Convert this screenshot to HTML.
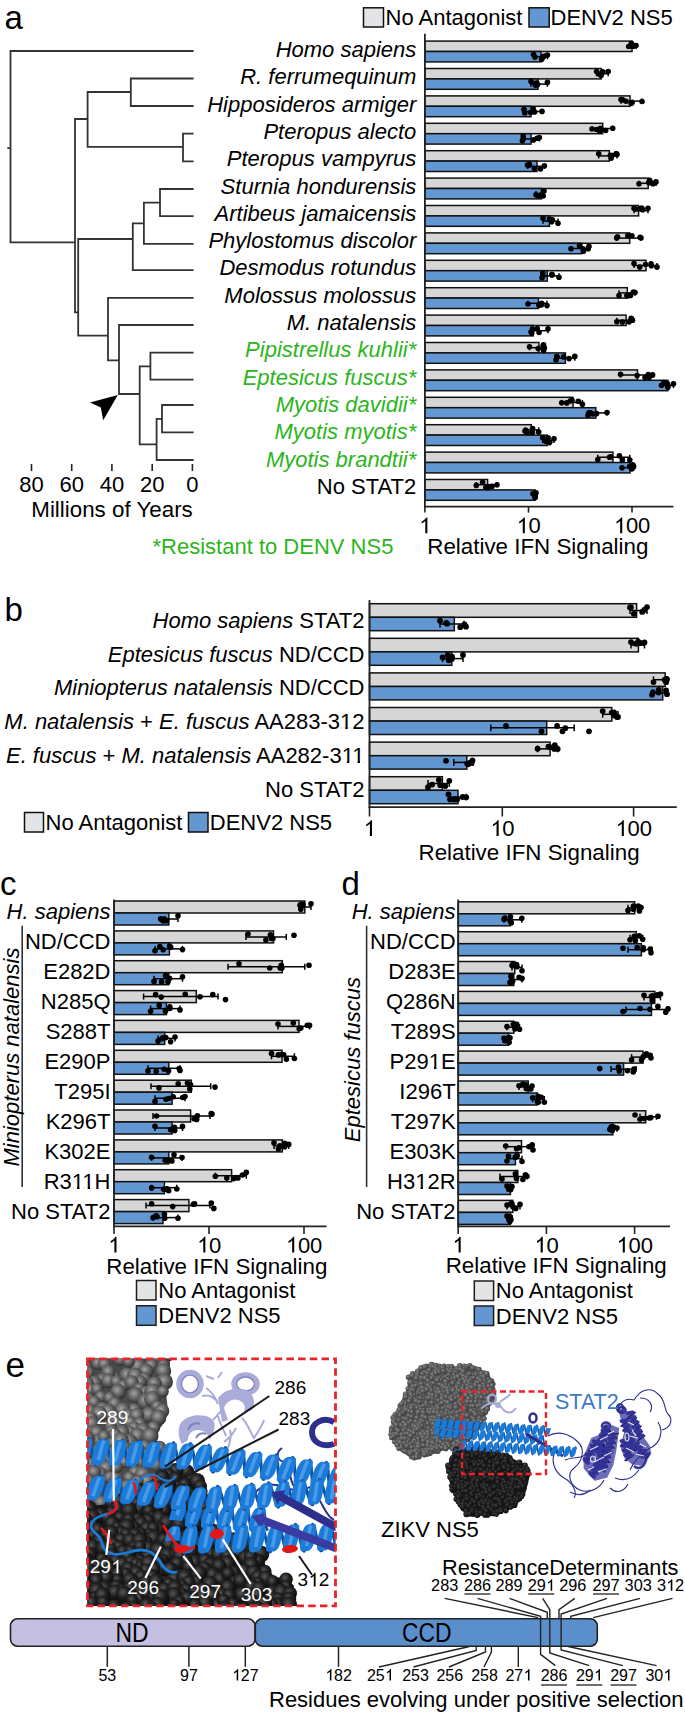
<!DOCTYPE html>
<html><head><meta charset="utf-8"><style>
html,body{margin:0;padding:0;background:#fff;}
svg{display:block;}
text{font-family:"Liberation Sans", sans-serif;}
</style></head><body>
<svg width="685" height="1714" viewBox="0 0 685 1714" font-family="Liberation Sans, sans-serif">
<rect width="685" height="1714" fill="#fff"/>
<text x="4.5" y="28.5" font-size="33" text-anchor="start" fill="#000" >a</text>
<rect x="363.5" y="7.8" width="20.0" height="19.2" fill="#e3e4e6" stroke="#111" stroke-width="1.5" />
<text x="385.5" y="25.3" font-size="22" text-anchor="start" fill="#000" >No Antagonist</text>
<rect x="529.0" y="7.8" width="20.2" height="19.2" fill="#6397d1" stroke="#111" stroke-width="1.5" />
<text x="550.5" y="25.3" font-size="22" text-anchor="start" fill="#000" >DENV2 NS5</text>
<path d="M10.5 51.0V242.4M10.5 51.0H192.7M10.5 242.4H75.0M8.2 148.2H10.5M75.0 119.0V312.3M75.0 119.0H87.6M87.6 92.0V146.8M87.6 92.0H130.8M130.8 78.5V106.0M130.8 78.5H192.7M130.8 106.0H192.7M87.6 146.8H183.0M183.0 133.6V161.4M183.0 133.6H192.7M183.0 161.4H192.7M75.0 312.3H78.2M78.2 239.0V335.6M78.2 239.0H132.8M132.8 223.4V270.1M132.8 223.4H143.9M143.9 202.7V243.9M143.9 202.7H160.0M160.0 189.0V216.1M160.0 189.0H192.7M160.0 216.1H192.7M143.9 243.9H192.7M132.8 270.1H192.7M78.2 335.6H108.0M108.0 297.9V360.4M108.0 297.9H192.7M108.0 360.4H119.0M119.0 325.0V394.0M119.0 325.0H192.7M119.0 394.0H139.7M139.7 366.3V444.4M139.7 366.3H150.4M150.4 352.7V379.7M150.4 352.7H192.7M150.4 379.7H192.7M139.7 444.4H156.6M156.6 418.8V460.0M156.6 418.8H162.0M162.0 405.0V432.3M162.0 405.0H192.7M162.0 432.3H192.7M156.6 460.0H192.7" stroke="#333" stroke-width="1.8" fill="none" stroke-linecap="square"/>
<polygon points="117.8,395 90,402.6 100.8,407.5 103.2,420.2" fill="#000"/>
<line x1="31.5" y1="464.0" x2="31.5" y2="471.0" stroke="#222" stroke-width="1.6"/>
<text x="31.5" y="491.5" font-size="22" text-anchor="middle" fill="#000" >80</text>
<line x1="71.7" y1="464.0" x2="71.7" y2="471.0" stroke="#222" stroke-width="1.6"/>
<text x="71.7" y="491.5" font-size="22" text-anchor="middle" fill="#000" >60</text>
<line x1="111.9" y1="464.0" x2="111.9" y2="471.0" stroke="#222" stroke-width="1.6"/>
<text x="111.9" y="491.5" font-size="22" text-anchor="middle" fill="#000" >40</text>
<line x1="152.2" y1="464.0" x2="152.2" y2="471.0" stroke="#222" stroke-width="1.6"/>
<text x="152.2" y="491.5" font-size="22" text-anchor="middle" fill="#000" >20</text>
<line x1="192.4" y1="464.0" x2="192.4" y2="471.0" stroke="#222" stroke-width="1.6"/>
<text x="192.4" y="491.5" font-size="22" text-anchor="middle" fill="#000" >0</text>
<text x="31.3" y="516.8" font-size="22.35" text-anchor="start" fill="#000" >Millions of Years</text>
<text x="416.3" y="57.0" font-size="22" text-anchor="end" fill="#000" font-style="italic" >Homo sapiens</text>
<text x="416.3" y="84.3" font-size="22" text-anchor="end" fill="#000" font-style="italic" >R. ferrumequinum</text>
<text x="416.3" y="111.6" font-size="22" text-anchor="end" fill="#000" font-style="italic" >Hipposideros armiger</text>
<text x="416.3" y="138.9" font-size="22" text-anchor="end" fill="#000" font-style="italic" >Pteropus alecto</text>
<text x="416.3" y="166.2" font-size="22" text-anchor="end" fill="#000" font-style="italic" >Pteropus vampyrus</text>
<text x="416.3" y="193.5" font-size="22" text-anchor="end" fill="#000" font-style="italic" >Sturnia hondurensis</text>
<text x="416.3" y="220.8" font-size="22" text-anchor="end" fill="#000" font-style="italic" >Artibeus jamaicensis</text>
<text x="416.3" y="248.1" font-size="22" text-anchor="end" fill="#000" font-style="italic" >Phylostomus discolor</text>
<text x="416.3" y="275.4" font-size="22" text-anchor="end" fill="#000" font-style="italic" >Desmodus rotundus</text>
<text x="416.3" y="302.7" font-size="22" text-anchor="end" fill="#000" font-style="italic" >Molossus molossus</text>
<text x="416.3" y="330.0" font-size="22" text-anchor="end" fill="#000" font-style="italic" >M. natalensis</text>
<text x="416.3" y="357.3" font-size="22" text-anchor="end" fill="#2cb51c" font-style="italic" >Pipistrellus kuhlii*</text>
<text x="416.3" y="384.6" font-size="22" text-anchor="end" fill="#2cb51c" font-style="italic" >Eptesicus fuscus*</text>
<text x="416.3" y="411.9" font-size="22" text-anchor="end" fill="#2cb51c" font-style="italic" >Myotis davidii*</text>
<text x="416.3" y="439.2" font-size="22" text-anchor="end" fill="#2cb51c" font-style="italic" >Myotis myotis*</text>
<text x="416.3" y="466.5" font-size="22" text-anchor="end" fill="#2cb51c" font-style="italic" >Myotis brandtii*</text>
<text x="416.3" y="493.8" font-size="22" text-anchor="end" fill="#000" >No STAT2</text>
<rect x="424.9" y="41.1" width="207.1" height="10.4" fill="#d6d6d6" stroke="#111" stroke-width="1.5" />
<rect x="424.9" y="51.5" width="116.1" height="10.4" fill="#6397d1" stroke="#111" stroke-width="1.5" />
<line x1="628.7" y1="46.3" x2="636.0" y2="46.3" stroke="#000" stroke-width="1.5"/>
<line x1="628.7" y1="43.7" x2="628.7" y2="48.9" stroke="#000" stroke-width="1.5"/>
<line x1="636.0" y1="43.7" x2="636.0" y2="48.9" stroke="#000" stroke-width="1.5"/>
<circle cx="628.7" cy="46.5" r="2.8" fill="#000"/>
<circle cx="636.0" cy="45.5" r="2.8" fill="#000"/>
<circle cx="631.4" cy="43.7" r="2.8" fill="#000"/>
<circle cx="633.2" cy="46.3" r="2.8" fill="#000"/>
<circle cx="631.5" cy="43.6" r="2.8" fill="#000"/>
<circle cx="631.3" cy="45.9" r="2.8" fill="#000"/>
<line x1="533.5" y1="56.7" x2="547.4" y2="56.7" stroke="#000" stroke-width="1.5"/>
<line x1="533.5" y1="54.1" x2="533.5" y2="59.3" stroke="#000" stroke-width="1.5"/>
<line x1="547.4" y1="54.1" x2="547.4" y2="59.3" stroke="#000" stroke-width="1.5"/>
<circle cx="533.5" cy="54.5" r="2.8" fill="#000"/>
<circle cx="547.4" cy="55.1" r="2.8" fill="#000"/>
<circle cx="542.4" cy="57.4" r="2.8" fill="#000"/>
<circle cx="541.7" cy="59.3" r="2.8" fill="#000"/>
<circle cx="535.0" cy="57.1" r="2.8" fill="#000"/>
<circle cx="544.1" cy="56.1" r="2.8" fill="#000"/>
<rect x="424.9" y="68.5" width="176.3" height="10.4" fill="#d6d6d6" stroke="#111" stroke-width="1.5" />
<rect x="424.9" y="78.9" width="113.1" height="10.4" fill="#6397d1" stroke="#111" stroke-width="1.5" />
<line x1="596.6" y1="73.7" x2="608.2" y2="73.7" stroke="#000" stroke-width="1.5"/>
<line x1="596.6" y1="71.1" x2="596.6" y2="76.3" stroke="#000" stroke-width="1.5"/>
<line x1="608.2" y1="71.1" x2="608.2" y2="76.3" stroke="#000" stroke-width="1.5"/>
<circle cx="596.6" cy="71.6" r="2.8" fill="#000"/>
<circle cx="608.2" cy="71.5" r="2.8" fill="#000"/>
<circle cx="602.2" cy="72.6" r="2.8" fill="#000"/>
<circle cx="601.1" cy="75.5" r="2.8" fill="#000"/>
<circle cx="602.8" cy="71.8" r="2.8" fill="#000"/>
<circle cx="599.2" cy="74.2" r="2.8" fill="#000"/>
<line x1="531.0" y1="84.1" x2="547.4" y2="84.1" stroke="#000" stroke-width="1.5"/>
<line x1="531.0" y1="81.5" x2="531.0" y2="86.7" stroke="#000" stroke-width="1.5"/>
<line x1="547.4" y1="81.5" x2="547.4" y2="86.7" stroke="#000" stroke-width="1.5"/>
<circle cx="531.0" cy="81.5" r="2.8" fill="#000"/>
<circle cx="547.4" cy="82.4" r="2.8" fill="#000"/>
<circle cx="535.5" cy="85.2" r="2.8" fill="#000"/>
<circle cx="535.0" cy="83.7" r="2.8" fill="#000"/>
<circle cx="536.6" cy="83.0" r="2.8" fill="#000"/>
<circle cx="537.6" cy="84.6" r="2.8" fill="#000"/>
<rect x="424.9" y="95.9" width="205.1" height="10.4" fill="#d6d6d6" stroke="#111" stroke-width="1.5" />
<rect x="424.9" y="106.3" width="106.1" height="10.4" fill="#6397d1" stroke="#111" stroke-width="1.5" />
<line x1="621.0" y1="101.1" x2="642.0" y2="101.1" stroke="#000" stroke-width="1.5"/>
<line x1="621.0" y1="98.5" x2="621.0" y2="103.7" stroke="#000" stroke-width="1.5"/>
<line x1="642.0" y1="98.5" x2="642.0" y2="103.7" stroke="#000" stroke-width="1.5"/>
<circle cx="621.0" cy="99.6" r="2.8" fill="#000"/>
<circle cx="642.0" cy="101.5" r="2.8" fill="#000"/>
<circle cx="626.0" cy="101.2" r="2.8" fill="#000"/>
<circle cx="631.2" cy="103.3" r="2.8" fill="#000"/>
<circle cx="632.1" cy="102.4" r="2.8" fill="#000"/>
<circle cx="622.6" cy="99.9" r="2.8" fill="#000"/>
<line x1="524.0" y1="111.5" x2="542.0" y2="111.5" stroke="#000" stroke-width="1.5"/>
<line x1="524.0" y1="108.9" x2="524.0" y2="114.1" stroke="#000" stroke-width="1.5"/>
<line x1="542.0" y1="108.9" x2="542.0" y2="114.1" stroke="#000" stroke-width="1.5"/>
<circle cx="524.0" cy="109.5" r="2.8" fill="#000"/>
<circle cx="542.0" cy="111.4" r="2.8" fill="#000"/>
<circle cx="533.2" cy="108.8" r="2.8" fill="#000"/>
<circle cx="530.7" cy="112.5" r="2.8" fill="#000"/>
<circle cx="524.8" cy="113.0" r="2.8" fill="#000"/>
<circle cx="534.6" cy="111.9" r="2.8" fill="#000"/>
<rect x="424.9" y="123.3" width="177.8" height="10.4" fill="#d6d6d6" stroke="#111" stroke-width="1.5" />
<rect x="424.9" y="133.7" width="106.1" height="10.4" fill="#6397d1" stroke="#111" stroke-width="1.5" />
<line x1="592.0" y1="128.5" x2="612.7" y2="128.5" stroke="#000" stroke-width="1.5"/>
<line x1="592.0" y1="125.9" x2="592.0" y2="131.1" stroke="#000" stroke-width="1.5"/>
<line x1="612.7" y1="125.9" x2="612.7" y2="131.1" stroke="#000" stroke-width="1.5"/>
<circle cx="592.0" cy="129.0" r="2.8" fill="#000"/>
<circle cx="612.7" cy="128.2" r="2.8" fill="#000"/>
<circle cx="605.7" cy="130.5" r="2.8" fill="#000"/>
<circle cx="599.7" cy="131.1" r="2.8" fill="#000"/>
<circle cx="600.5" cy="128.3" r="2.8" fill="#000"/>
<circle cx="596.5" cy="129.5" r="2.8" fill="#000"/>
<line x1="522.4" y1="138.9" x2="539.4" y2="138.9" stroke="#000" stroke-width="1.5"/>
<line x1="522.4" y1="136.3" x2="522.4" y2="141.5" stroke="#000" stroke-width="1.5"/>
<line x1="539.4" y1="136.3" x2="539.4" y2="141.5" stroke="#000" stroke-width="1.5"/>
<circle cx="522.4" cy="140.8" r="2.8" fill="#000"/>
<circle cx="539.4" cy="137.6" r="2.8" fill="#000"/>
<circle cx="537.1" cy="138.2" r="2.8" fill="#000"/>
<circle cx="533.4" cy="139.9" r="2.8" fill="#000"/>
<circle cx="523.2" cy="136.1" r="2.8" fill="#000"/>
<circle cx="523.2" cy="138.7" r="2.8" fill="#000"/>
<rect x="424.9" y="150.7" width="184.4" height="10.4" fill="#d6d6d6" stroke="#111" stroke-width="1.5" />
<rect x="424.9" y="161.1" width="112.1" height="10.4" fill="#6397d1" stroke="#111" stroke-width="1.5" />
<line x1="598.7" y1="155.9" x2="617.0" y2="155.9" stroke="#000" stroke-width="1.5"/>
<line x1="598.7" y1="153.3" x2="598.7" y2="158.5" stroke="#000" stroke-width="1.5"/>
<line x1="617.0" y1="153.3" x2="617.0" y2="158.5" stroke="#000" stroke-width="1.5"/>
<circle cx="598.7" cy="153.7" r="2.8" fill="#000"/>
<circle cx="617.0" cy="154.4" r="2.8" fill="#000"/>
<circle cx="610.4" cy="155.3" r="2.8" fill="#000"/>
<circle cx="611.2" cy="158.1" r="2.8" fill="#000"/>
<circle cx="616.2" cy="153.5" r="2.8" fill="#000"/>
<circle cx="612.1" cy="155.6" r="2.8" fill="#000"/>
<line x1="527.5" y1="166.3" x2="544.4" y2="166.3" stroke="#000" stroke-width="1.5"/>
<line x1="527.5" y1="163.7" x2="527.5" y2="168.9" stroke="#000" stroke-width="1.5"/>
<line x1="544.4" y1="163.7" x2="544.4" y2="168.9" stroke="#000" stroke-width="1.5"/>
<circle cx="527.5" cy="165.0" r="2.8" fill="#000"/>
<circle cx="544.4" cy="165.8" r="2.8" fill="#000"/>
<circle cx="528.7" cy="165.5" r="2.8" fill="#000"/>
<circle cx="534.4" cy="168.5" r="2.8" fill="#000"/>
<circle cx="540.5" cy="169.0" r="2.8" fill="#000"/>
<circle cx="529.4" cy="164.3" r="2.8" fill="#000"/>
<rect x="424.9" y="178.1" width="223.3" height="10.4" fill="#d6d6d6" stroke="#111" stroke-width="1.5" />
<rect x="424.9" y="188.5" width="116.5" height="10.4" fill="#6397d1" stroke="#111" stroke-width="1.5" />
<line x1="639.0" y1="183.3" x2="656.0" y2="183.3" stroke="#000" stroke-width="1.5"/>
<line x1="639.0" y1="180.7" x2="639.0" y2="185.9" stroke="#000" stroke-width="1.5"/>
<line x1="656.0" y1="180.7" x2="656.0" y2="185.9" stroke="#000" stroke-width="1.5"/>
<circle cx="639.0" cy="183.8" r="2.8" fill="#000"/>
<circle cx="656.0" cy="181.9" r="2.8" fill="#000"/>
<circle cx="649.6" cy="180.4" r="2.8" fill="#000"/>
<circle cx="650.9" cy="182.8" r="2.8" fill="#000"/>
<circle cx="648.7" cy="182.5" r="2.8" fill="#000"/>
<circle cx="653.0" cy="183.7" r="2.8" fill="#000"/>
<line x1="536.0" y1="193.7" x2="544.0" y2="193.7" stroke="#000" stroke-width="1.5"/>
<line x1="536.0" y1="191.1" x2="536.0" y2="196.3" stroke="#000" stroke-width="1.5"/>
<line x1="544.0" y1="191.1" x2="544.0" y2="196.3" stroke="#000" stroke-width="1.5"/>
<circle cx="536.0" cy="194.7" r="2.8" fill="#000"/>
<circle cx="544.0" cy="191.1" r="2.8" fill="#000"/>
<circle cx="543.2" cy="196.0" r="2.8" fill="#000"/>
<circle cx="540.3" cy="195.3" r="2.8" fill="#000"/>
<circle cx="538.1" cy="195.9" r="2.8" fill="#000"/>
<circle cx="541.1" cy="195.4" r="2.8" fill="#000"/>
<rect x="424.9" y="205.5" width="213.7" height="10.4" fill="#d6d6d6" stroke="#111" stroke-width="1.5" />
<rect x="424.9" y="215.9" width="124.5" height="10.4" fill="#6397d1" stroke="#111" stroke-width="1.5" />
<line x1="634.0" y1="210.7" x2="648.0" y2="210.7" stroke="#000" stroke-width="1.5"/>
<line x1="634.0" y1="208.1" x2="634.0" y2="213.3" stroke="#000" stroke-width="1.5"/>
<line x1="648.0" y1="208.1" x2="648.0" y2="213.3" stroke="#000" stroke-width="1.5"/>
<circle cx="634.0" cy="208.2" r="2.8" fill="#000"/>
<circle cx="648.0" cy="208.2" r="2.8" fill="#000"/>
<circle cx="635.8" cy="209.0" r="2.8" fill="#000"/>
<circle cx="640.9" cy="208.7" r="2.8" fill="#000"/>
<circle cx="642.7" cy="209.8" r="2.8" fill="#000"/>
<circle cx="641.7" cy="208.1" r="2.8" fill="#000"/>
<line x1="543.0" y1="221.1" x2="558.0" y2="221.1" stroke="#000" stroke-width="1.5"/>
<line x1="543.0" y1="218.5" x2="543.0" y2="223.7" stroke="#000" stroke-width="1.5"/>
<line x1="558.0" y1="218.5" x2="558.0" y2="223.7" stroke="#000" stroke-width="1.5"/>
<circle cx="543.0" cy="218.3" r="2.8" fill="#000"/>
<circle cx="558.0" cy="223.3" r="2.8" fill="#000"/>
<circle cx="551.6" cy="221.8" r="2.8" fill="#000"/>
<circle cx="549.4" cy="219.1" r="2.8" fill="#000"/>
<circle cx="552.3" cy="219.7" r="2.8" fill="#000"/>
<circle cx="551.6" cy="220.2" r="2.8" fill="#000"/>
<rect x="424.9" y="232.9" width="204.8" height="10.4" fill="#d6d6d6" stroke="#111" stroke-width="1.5" />
<rect x="424.9" y="243.3" width="156.9" height="10.4" fill="#6397d1" stroke="#111" stroke-width="1.5" />
<line x1="616.7" y1="238.1" x2="641.0" y2="238.1" stroke="#000" stroke-width="1.5"/>
<line x1="616.7" y1="235.5" x2="616.7" y2="240.7" stroke="#000" stroke-width="1.5"/>
<line x1="641.0" y1="235.5" x2="641.0" y2="240.7" stroke="#000" stroke-width="1.5"/>
<circle cx="616.7" cy="237.9" r="2.8" fill="#000"/>
<circle cx="641.0" cy="238.0" r="2.8" fill="#000"/>
<circle cx="627.8" cy="235.7" r="2.8" fill="#000"/>
<circle cx="631.9" cy="235.8" r="2.8" fill="#000"/>
<circle cx="640.1" cy="237.2" r="2.8" fill="#000"/>
<circle cx="617.5" cy="236.7" r="2.8" fill="#000"/>
<line x1="571.0" y1="248.5" x2="589.0" y2="248.5" stroke="#000" stroke-width="1.5"/>
<line x1="571.0" y1="245.9" x2="571.0" y2="251.1" stroke="#000" stroke-width="1.5"/>
<line x1="589.0" y1="245.9" x2="589.0" y2="251.1" stroke="#000" stroke-width="1.5"/>
<circle cx="571.0" cy="248.7" r="2.8" fill="#000"/>
<circle cx="589.0" cy="246.4" r="2.8" fill="#000"/>
<circle cx="583.0" cy="248.8" r="2.8" fill="#000"/>
<circle cx="579.5" cy="245.7" r="2.8" fill="#000"/>
<circle cx="588.2" cy="248.7" r="2.8" fill="#000"/>
<circle cx="583.4" cy="251.3" r="2.8" fill="#000"/>
<rect x="424.9" y="260.3" width="221.1" height="10.4" fill="#d6d6d6" stroke="#111" stroke-width="1.5" />
<rect x="424.9" y="270.7" width="122.4" height="10.4" fill="#6397d1" stroke="#111" stroke-width="1.5" />
<line x1="634.0" y1="265.5" x2="657.0" y2="265.5" stroke="#000" stroke-width="1.5"/>
<line x1="634.0" y1="262.9" x2="634.0" y2="268.1" stroke="#000" stroke-width="1.5"/>
<line x1="657.0" y1="262.9" x2="657.0" y2="268.1" stroke="#000" stroke-width="1.5"/>
<circle cx="634.0" cy="263.6" r="2.8" fill="#000"/>
<circle cx="657.0" cy="267.1" r="2.8" fill="#000"/>
<circle cx="651.4" cy="265.7" r="2.8" fill="#000"/>
<circle cx="639.7" cy="267.1" r="2.8" fill="#000"/>
<circle cx="645.6" cy="264.5" r="2.8" fill="#000"/>
<circle cx="651.1" cy="263.9" r="2.8" fill="#000"/>
<line x1="542.0" y1="275.9" x2="559.0" y2="275.9" stroke="#000" stroke-width="1.5"/>
<line x1="542.0" y1="273.3" x2="542.0" y2="278.5" stroke="#000" stroke-width="1.5"/>
<line x1="559.0" y1="273.3" x2="559.0" y2="278.5" stroke="#000" stroke-width="1.5"/>
<circle cx="542.0" cy="277.8" r="2.8" fill="#000"/>
<circle cx="559.0" cy="277.3" r="2.8" fill="#000"/>
<circle cx="551.9" cy="274.3" r="2.8" fill="#000"/>
<circle cx="542.8" cy="276.0" r="2.8" fill="#000"/>
<circle cx="551.9" cy="275.1" r="2.8" fill="#000"/>
<circle cx="542.8" cy="273.2" r="2.8" fill="#000"/>
<rect x="424.9" y="287.7" width="202.4" height="10.4" fill="#d6d6d6" stroke="#111" stroke-width="1.5" />
<rect x="424.9" y="298.1" width="113.5" height="10.4" fill="#6397d1" stroke="#111" stroke-width="1.5" />
<line x1="619.0" y1="292.9" x2="635.0" y2="292.9" stroke="#000" stroke-width="1.5"/>
<line x1="619.0" y1="290.3" x2="619.0" y2="295.5" stroke="#000" stroke-width="1.5"/>
<line x1="635.0" y1="290.3" x2="635.0" y2="295.5" stroke="#000" stroke-width="1.5"/>
<circle cx="619.0" cy="295.6" r="2.8" fill="#000"/>
<circle cx="635.0" cy="292.6" r="2.8" fill="#000"/>
<circle cx="630.5" cy="295.4" r="2.8" fill="#000"/>
<circle cx="627.9" cy="295.7" r="2.8" fill="#000"/>
<circle cx="626.9" cy="295.5" r="2.8" fill="#000"/>
<circle cx="633.4" cy="292.1" r="2.8" fill="#000"/>
<line x1="528.0" y1="303.3" x2="547.0" y2="303.3" stroke="#000" stroke-width="1.5"/>
<line x1="528.0" y1="300.7" x2="528.0" y2="305.9" stroke="#000" stroke-width="1.5"/>
<line x1="547.0" y1="300.7" x2="547.0" y2="305.9" stroke="#000" stroke-width="1.5"/>
<circle cx="528.0" cy="304.0" r="2.8" fill="#000"/>
<circle cx="547.0" cy="305.6" r="2.8" fill="#000"/>
<circle cx="539.0" cy="305.3" r="2.8" fill="#000"/>
<circle cx="541.6" cy="303.2" r="2.8" fill="#000"/>
<circle cx="539.4" cy="304.2" r="2.8" fill="#000"/>
<circle cx="541.3" cy="305.0" r="2.8" fill="#000"/>
<rect x="424.9" y="315.1" width="201.2" height="10.4" fill="#d6d6d6" stroke="#111" stroke-width="1.5" />
<rect x="424.9" y="325.5" width="108.3" height="10.4" fill="#6397d1" stroke="#111" stroke-width="1.5" />
<line x1="616.8" y1="320.3" x2="632.5" y2="320.3" stroke="#000" stroke-width="1.5"/>
<line x1="616.8" y1="317.7" x2="616.8" y2="322.9" stroke="#000" stroke-width="1.5"/>
<line x1="632.5" y1="317.7" x2="632.5" y2="322.9" stroke="#000" stroke-width="1.5"/>
<circle cx="616.8" cy="321.8" r="2.8" fill="#000"/>
<circle cx="632.5" cy="320.2" r="2.8" fill="#000"/>
<circle cx="631.1" cy="318.4" r="2.8" fill="#000"/>
<circle cx="629.0" cy="322.0" r="2.8" fill="#000"/>
<circle cx="631.7" cy="319.3" r="2.8" fill="#000"/>
<circle cx="622.4" cy="322.1" r="2.8" fill="#000"/>
<line x1="531.0" y1="330.7" x2="548.0" y2="330.7" stroke="#000" stroke-width="1.5"/>
<line x1="531.0" y1="328.1" x2="531.0" y2="333.3" stroke="#000" stroke-width="1.5"/>
<line x1="548.0" y1="328.1" x2="548.0" y2="333.3" stroke="#000" stroke-width="1.5"/>
<circle cx="531.0" cy="332.0" r="2.8" fill="#000"/>
<circle cx="548.0" cy="328.8" r="2.8" fill="#000"/>
<circle cx="537.3" cy="328.5" r="2.8" fill="#000"/>
<circle cx="532.5" cy="328.7" r="2.8" fill="#000"/>
<circle cx="531.8" cy="333.1" r="2.8" fill="#000"/>
<circle cx="539.1" cy="332.5" r="2.8" fill="#000"/>
<rect x="424.9" y="342.5" width="114.0" height="10.4" fill="#d6d6d6" stroke="#111" stroke-width="1.5" />
<rect x="424.9" y="352.9" width="140.5" height="10.4" fill="#6397d1" stroke="#111" stroke-width="1.5" />
<line x1="529.5" y1="347.7" x2="544.4" y2="347.7" stroke="#000" stroke-width="1.5"/>
<line x1="529.5" y1="345.1" x2="529.5" y2="350.3" stroke="#000" stroke-width="1.5"/>
<line x1="544.4" y1="345.1" x2="544.4" y2="350.3" stroke="#000" stroke-width="1.5"/>
<circle cx="529.5" cy="346.8" r="2.8" fill="#000"/>
<circle cx="544.4" cy="348.0" r="2.8" fill="#000"/>
<circle cx="543.2" cy="345.6" r="2.8" fill="#000"/>
<circle cx="543.6" cy="344.9" r="2.8" fill="#000"/>
<circle cx="543.6" cy="350.4" r="2.8" fill="#000"/>
<circle cx="538.2" cy="348.6" r="2.8" fill="#000"/>
<line x1="556.0" y1="358.1" x2="574.8" y2="358.1" stroke="#000" stroke-width="1.5"/>
<line x1="556.0" y1="355.5" x2="556.0" y2="360.7" stroke="#000" stroke-width="1.5"/>
<line x1="574.8" y1="355.5" x2="574.8" y2="360.7" stroke="#000" stroke-width="1.5"/>
<circle cx="556.0" cy="360.0" r="2.8" fill="#000"/>
<circle cx="574.8" cy="356.4" r="2.8" fill="#000"/>
<circle cx="556.8" cy="356.7" r="2.8" fill="#000"/>
<circle cx="563.6" cy="356.9" r="2.8" fill="#000"/>
<circle cx="556.9" cy="356.6" r="2.8" fill="#000"/>
<circle cx="569.1" cy="358.6" r="2.8" fill="#000"/>
<rect x="424.9" y="369.9" width="212.6" height="10.4" fill="#d6d6d6" stroke="#111" stroke-width="1.5" />
<rect x="424.9" y="380.3" width="243.0" height="10.4" fill="#6397d1" stroke="#111" stroke-width="1.5" />
<line x1="620.5" y1="375.1" x2="652.6" y2="375.1" stroke="#000" stroke-width="1.5"/>
<line x1="620.5" y1="372.5" x2="620.5" y2="377.7" stroke="#000" stroke-width="1.5"/>
<line x1="652.6" y1="372.5" x2="652.6" y2="377.7" stroke="#000" stroke-width="1.5"/>
<circle cx="620.5" cy="374.2" r="2.8" fill="#000"/>
<circle cx="652.6" cy="374.9" r="2.8" fill="#000"/>
<circle cx="637.1" cy="375.6" r="2.8" fill="#000"/>
<circle cx="645.0" cy="377.5" r="2.8" fill="#000"/>
<circle cx="648.3" cy="374.6" r="2.8" fill="#000"/>
<circle cx="649.1" cy="377.5" r="2.8" fill="#000"/>
<line x1="661.5" y1="385.5" x2="673.5" y2="385.5" stroke="#000" stroke-width="1.5"/>
<line x1="661.5" y1="382.9" x2="661.5" y2="388.1" stroke="#000" stroke-width="1.5"/>
<line x1="673.5" y1="382.9" x2="673.5" y2="388.1" stroke="#000" stroke-width="1.5"/>
<circle cx="661.5" cy="385.2" r="2.8" fill="#000"/>
<circle cx="673.5" cy="383.7" r="2.8" fill="#000"/>
<circle cx="664.0" cy="382.6" r="2.8" fill="#000"/>
<circle cx="667.9" cy="387.2" r="2.8" fill="#000"/>
<circle cx="667.3" cy="383.6" r="2.8" fill="#000"/>
<circle cx="667.8" cy="385.3" r="2.8" fill="#000"/>
<rect x="424.9" y="397.3" width="148.1" height="10.4" fill="#d6d6d6" stroke="#111" stroke-width="1.5" />
<rect x="424.9" y="407.7" width="170.9" height="10.4" fill="#6397d1" stroke="#111" stroke-width="1.5" />
<line x1="561.7" y1="402.5" x2="582.4" y2="402.5" stroke="#000" stroke-width="1.5"/>
<line x1="561.7" y1="399.9" x2="561.7" y2="405.1" stroke="#000" stroke-width="1.5"/>
<line x1="582.4" y1="399.9" x2="582.4" y2="405.1" stroke="#000" stroke-width="1.5"/>
<circle cx="561.7" cy="402.8" r="2.8" fill="#000"/>
<circle cx="582.4" cy="404.2" r="2.8" fill="#000"/>
<circle cx="572.0" cy="400.2" r="2.8" fill="#000"/>
<circle cx="566.8" cy="402.9" r="2.8" fill="#000"/>
<circle cx="570.3" cy="401.0" r="2.8" fill="#000"/>
<circle cx="578.3" cy="401.2" r="2.8" fill="#000"/>
<line x1="588.0" y1="412.9" x2="607.0" y2="412.9" stroke="#000" stroke-width="1.5"/>
<line x1="588.0" y1="410.3" x2="588.0" y2="415.5" stroke="#000" stroke-width="1.5"/>
<line x1="607.0" y1="410.3" x2="607.0" y2="415.5" stroke="#000" stroke-width="1.5"/>
<circle cx="588.0" cy="415.3" r="2.8" fill="#000"/>
<circle cx="607.0" cy="412.6" r="2.8" fill="#000"/>
<circle cx="596.6" cy="413.6" r="2.8" fill="#000"/>
<circle cx="590.4" cy="412.9" r="2.8" fill="#000"/>
<circle cx="588.8" cy="413.0" r="2.8" fill="#000"/>
<circle cx="592.9" cy="414.0" r="2.8" fill="#000"/>
<rect x="424.9" y="424.7" width="106.4" height="10.4" fill="#d6d6d6" stroke="#111" stroke-width="1.5" />
<rect x="424.9" y="435.1" width="122.3" height="10.4" fill="#6397d1" stroke="#111" stroke-width="1.5" />
<line x1="525.0" y1="429.9" x2="538.7" y2="429.9" stroke="#000" stroke-width="1.5"/>
<line x1="525.0" y1="427.3" x2="525.0" y2="432.5" stroke="#000" stroke-width="1.5"/>
<line x1="538.7" y1="427.3" x2="538.7" y2="432.5" stroke="#000" stroke-width="1.5"/>
<circle cx="525.0" cy="431.1" r="2.8" fill="#000"/>
<circle cx="538.7" cy="432.1" r="2.8" fill="#000"/>
<circle cx="527.1" cy="432.5" r="2.8" fill="#000"/>
<circle cx="532.6" cy="428.5" r="2.8" fill="#000"/>
<circle cx="525.8" cy="430.2" r="2.8" fill="#000"/>
<circle cx="532.5" cy="432.5" r="2.8" fill="#000"/>
<line x1="542.7" y1="440.3" x2="554.0" y2="440.3" stroke="#000" stroke-width="1.5"/>
<line x1="542.7" y1="437.7" x2="542.7" y2="442.9" stroke="#000" stroke-width="1.5"/>
<line x1="554.0" y1="437.7" x2="554.0" y2="442.9" stroke="#000" stroke-width="1.5"/>
<circle cx="542.7" cy="437.8" r="2.8" fill="#000"/>
<circle cx="554.0" cy="438.8" r="2.8" fill="#000"/>
<circle cx="548.1" cy="437.8" r="2.8" fill="#000"/>
<circle cx="545.8" cy="441.3" r="2.8" fill="#000"/>
<circle cx="549.6" cy="442.0" r="2.8" fill="#000"/>
<circle cx="549.5" cy="442.6" r="2.8" fill="#000"/>
<rect x="424.9" y="452.1" width="188.0" height="10.4" fill="#d6d6d6" stroke="#111" stroke-width="1.5" />
<rect x="424.9" y="462.5" width="205.1" height="10.4" fill="#6397d1" stroke="#111" stroke-width="1.5" />
<line x1="597.8" y1="457.3" x2="629.8" y2="457.3" stroke="#000" stroke-width="1.5"/>
<line x1="597.8" y1="454.7" x2="597.8" y2="459.9" stroke="#000" stroke-width="1.5"/>
<line x1="629.8" y1="454.7" x2="629.8" y2="459.9" stroke="#000" stroke-width="1.5"/>
<circle cx="597.8" cy="459.5" r="2.8" fill="#000"/>
<circle cx="629.8" cy="460.0" r="2.8" fill="#000"/>
<circle cx="619.4" cy="455.7" r="2.8" fill="#000"/>
<circle cx="622.3" cy="459.9" r="2.8" fill="#000"/>
<circle cx="610.8" cy="456.7" r="2.8" fill="#000"/>
<circle cx="609.5" cy="457.2" r="2.8" fill="#000"/>
<line x1="622.0" y1="467.7" x2="633.6" y2="467.7" stroke="#000" stroke-width="1.5"/>
<line x1="622.0" y1="465.1" x2="622.0" y2="470.3" stroke="#000" stroke-width="1.5"/>
<line x1="633.6" y1="465.1" x2="633.6" y2="470.3" stroke="#000" stroke-width="1.5"/>
<circle cx="622.0" cy="467.8" r="2.8" fill="#000"/>
<circle cx="633.6" cy="466.8" r="2.8" fill="#000"/>
<circle cx="632.8" cy="465.9" r="2.8" fill="#000"/>
<circle cx="629.6" cy="466.6" r="2.8" fill="#000"/>
<circle cx="631.8" cy="469.0" r="2.8" fill="#000"/>
<circle cx="632.8" cy="464.9" r="2.8" fill="#000"/>
<rect x="424.9" y="479.5" width="62.7" height="10.4" fill="#d6d6d6" stroke="#111" stroke-width="1.5" />
<rect x="424.9" y="489.9" width="110.1" height="10.4" fill="#6397d1" stroke="#111" stroke-width="1.5" />
<line x1="476.3" y1="484.7" x2="497.0" y2="484.7" stroke="#000" stroke-width="1.5"/>
<line x1="476.3" y1="482.1" x2="476.3" y2="487.3" stroke="#000" stroke-width="1.5"/>
<line x1="497.0" y1="482.1" x2="497.0" y2="487.3" stroke="#000" stroke-width="1.5"/>
<circle cx="476.3" cy="485.4" r="2.8" fill="#000"/>
<circle cx="497.0" cy="484.8" r="2.8" fill="#000"/>
<circle cx="482.6" cy="482.2" r="2.8" fill="#000"/>
<circle cx="485.8" cy="487.5" r="2.8" fill="#000"/>
<circle cx="492.0" cy="486.4" r="2.8" fill="#000"/>
<circle cx="488.1" cy="487.4" r="2.8" fill="#000"/>
<line x1="533.0" y1="495.1" x2="536.0" y2="495.1" stroke="#000" stroke-width="1.5"/>
<line x1="533.0" y1="492.5" x2="533.0" y2="497.7" stroke="#000" stroke-width="1.5"/>
<line x1="536.0" y1="492.5" x2="536.0" y2="497.7" stroke="#000" stroke-width="1.5"/>
<circle cx="533.0" cy="493.8" r="2.8" fill="#000"/>
<circle cx="536.0" cy="492.9" r="2.8" fill="#000"/>
<circle cx="535.2" cy="494.6" r="2.8" fill="#000"/>
<circle cx="535.2" cy="497.5" r="2.8" fill="#000"/>
<circle cx="535.2" cy="497.0" r="2.8" fill="#000"/>
<circle cx="535.2" cy="493.7" r="2.8" fill="#000"/>
<line x1="424.9" y1="33.7" x2="424.9" y2="507.4" stroke="#222" stroke-width="1.8"/>
<line x1="424.0" y1="506.6" x2="673.4" y2="506.6" stroke="#222" stroke-width="1.8"/>
<line x1="424.9" y1="506.6" x2="424.9" y2="512.6" stroke="#222" stroke-width="1.6"/>
<polygon points="425.28,533.20 427.38,533.20 427.38,517.45 426.19,517.45 425.66,518.38 424.80,519.34 423.72,520.31 421.63,521.64 421.63,523.51 423.51,522.57 425.28,521.06" fill="#000"/>
<line x1="528.5" y1="506.6" x2="528.5" y2="512.6" stroke="#222" stroke-width="1.6"/>
<polygon points="522.76,533.20 524.86,533.20 524.86,517.45 523.68,517.45 523.14,518.38 522.28,519.34 521.21,520.31 519.11,521.64 519.11,523.51 520.99,522.57 522.76,521.06" fill="#000"/>
<text x="528.50" y="533.2" font-size="22">0</text>
<line x1="632.0" y1="506.6" x2="632.0" y2="512.6" stroke="#222" stroke-width="1.6"/>
<polygon points="620.15,533.20 622.24,533.20 622.24,517.45 621.06,517.45 620.52,518.38 619.66,519.34 618.59,520.31 616.49,521.64 616.49,523.51 618.37,522.57 620.15,521.06" fill="#000"/>
<text x="625.88" y="533.2" font-size="22">0</text>
<text x="638.12" y="533.2" font-size="22">0</text>
<text x="427.3" y="554.0" font-size="22.35" text-anchor="start" fill="#000" >Relative IFN Signaling</text>
<text x="152.5" y="554.2" font-size="22" text-anchor="start" fill="#2cb51c" >*Resistant to DENV NS5</text>
<text x="4.5" y="621.0" font-size="33" text-anchor="start" fill="#000" >b</text>
<text x="364.5" y="627.5" font-size="22" text-anchor="end" fill="#000" ><tspan font-style="italic">Homo sapiens</tspan> STAT2</text>
<text x="364.5" y="661.5" font-size="22" text-anchor="end" fill="#000" ><tspan font-style="italic">Eptesicus fuscus</tspan> ND/CCD</text>
<text x="364.5" y="695.4" font-size="22" text-anchor="end" fill="#000" ><tspan font-style="italic">Miniopterus natalensis</tspan> ND/CCD</text>
<text x="364.5" y="729.4" font-size="22" text-anchor="end" fill="#000" ><tspan font-style="italic">M. natalensis</tspan> + <tspan font-style="italic">E. fuscus</tspan> AA283-312</text>
<text x="364.5" y="763.3" font-size="22" text-anchor="end" fill="#000" ><tspan font-style="italic">E. fuscus</tspan> + <tspan font-style="italic">M. natalensis</tspan> AA282-311</text>
<text x="364.5" y="797.2" font-size="22" text-anchor="end" fill="#000" >No STAT2</text>
<rect x="369.5" y="603.7" width="267.1" height="13.6" fill="#d6d6d6" stroke="#111" stroke-width="1.5" />
<rect x="369.5" y="617.3" width="84.8" height="13.4" fill="#6397d1" stroke="#111" stroke-width="1.5" />
<line x1="630.0" y1="610.5" x2="647.0" y2="610.5" stroke="#000" stroke-width="1.5"/>
<line x1="630.0" y1="607.1" x2="630.0" y2="613.9" stroke="#000" stroke-width="1.5"/>
<line x1="647.0" y1="607.1" x2="647.0" y2="613.9" stroke="#000" stroke-width="1.5"/>
<circle cx="630.0" cy="607.4" r="2.9" fill="#000"/>
<circle cx="647.0" cy="607.1" r="2.9" fill="#000"/>
<circle cx="642.2" cy="611.9" r="2.9" fill="#000"/>
<circle cx="644.2" cy="609.9" r="2.9" fill="#000"/>
<circle cx="630.9" cy="607.2" r="2.9" fill="#000"/>
<circle cx="633.8" cy="613.8" r="2.9" fill="#000"/>
<line x1="440.0" y1="624.0" x2="464.0" y2="624.0" stroke="#000" stroke-width="1.5"/>
<line x1="440.0" y1="620.7" x2="440.0" y2="627.4" stroke="#000" stroke-width="1.5"/>
<line x1="464.0" y1="620.7" x2="464.0" y2="627.4" stroke="#000" stroke-width="1.5"/>
<circle cx="440.0" cy="620.7" r="2.9" fill="#000"/>
<circle cx="466.0" cy="626.7" r="2.9" fill="#000"/>
<circle cx="447.1" cy="623.7" r="2.9" fill="#000"/>
<circle cx="446.2" cy="622.8" r="2.9" fill="#000"/>
<circle cx="464.5" cy="624.4" r="2.9" fill="#000"/>
<circle cx="460.2" cy="627.2" r="2.9" fill="#000"/>
<rect x="369.5" y="638.3" width="268.9" height="13.6" fill="#d6d6d6" stroke="#111" stroke-width="1.5" />
<rect x="369.5" y="651.9" width="82.3" height="13.4" fill="#6397d1" stroke="#111" stroke-width="1.5" />
<line x1="631.0" y1="645.1" x2="644.5" y2="645.1" stroke="#000" stroke-width="1.5"/>
<line x1="631.0" y1="641.7" x2="631.0" y2="648.5" stroke="#000" stroke-width="1.5"/>
<line x1="644.5" y1="641.7" x2="644.5" y2="648.5" stroke="#000" stroke-width="1.5"/>
<circle cx="631.0" cy="642.1" r="2.9" fill="#000"/>
<circle cx="644.5" cy="642.5" r="2.9" fill="#000"/>
<circle cx="638.2" cy="641.7" r="2.9" fill="#000"/>
<circle cx="640.2" cy="642.8" r="2.9" fill="#000"/>
<circle cx="635.9" cy="643.7" r="2.9" fill="#000"/>
<circle cx="638.0" cy="643.6" r="2.9" fill="#000"/>
<line x1="442.6" y1="658.6" x2="463.0" y2="658.6" stroke="#000" stroke-width="1.5"/>
<line x1="442.6" y1="655.3" x2="442.6" y2="662.0" stroke="#000" stroke-width="1.5"/>
<line x1="463.0" y1="655.3" x2="463.0" y2="662.0" stroke="#000" stroke-width="1.5"/>
<circle cx="442.6" cy="657.5" r="2.9" fill="#000"/>
<circle cx="463.0" cy="655.0" r="2.9" fill="#000"/>
<circle cx="452.0" cy="656.7" r="2.9" fill="#000"/>
<circle cx="447.8" cy="655.0" r="2.9" fill="#000"/>
<circle cx="448.7" cy="660.3" r="2.9" fill="#000"/>
<circle cx="451.8" cy="659.0" r="2.9" fill="#000"/>
<rect x="369.5" y="672.9" width="295.7" height="13.6" fill="#d6d6d6" stroke="#111" stroke-width="1.5" />
<rect x="369.5" y="686.5" width="293.2" height="13.4" fill="#6397d1" stroke="#111" stroke-width="1.5" />
<line x1="653.5" y1="679.7" x2="667.0" y2="679.7" stroke="#000" stroke-width="1.5"/>
<line x1="653.5" y1="676.3" x2="653.5" y2="683.1" stroke="#000" stroke-width="1.5"/>
<line x1="667.0" y1="676.3" x2="667.0" y2="683.1" stroke="#000" stroke-width="1.5"/>
<circle cx="653.5" cy="682.1" r="2.9" fill="#000"/>
<circle cx="667.0" cy="679.2" r="2.9" fill="#000"/>
<circle cx="666.1" cy="679.7" r="2.9" fill="#000"/>
<circle cx="666.1" cy="682.2" r="2.9" fill="#000"/>
<circle cx="666.1" cy="678.9" r="2.9" fill="#000"/>
<circle cx="664.5" cy="679.8" r="2.9" fill="#000"/>
<line x1="652.0" y1="693.2" x2="667.0" y2="693.2" stroke="#000" stroke-width="1.5"/>
<line x1="652.0" y1="689.9" x2="652.0" y2="696.6" stroke="#000" stroke-width="1.5"/>
<line x1="667.0" y1="689.9" x2="667.0" y2="696.6" stroke="#000" stroke-width="1.5"/>
<circle cx="652.0" cy="694.8" r="2.9" fill="#000"/>
<circle cx="667.0" cy="694.2" r="2.9" fill="#000"/>
<circle cx="658.6" cy="692.5" r="2.9" fill="#000"/>
<circle cx="652.9" cy="692.1" r="2.9" fill="#000"/>
<circle cx="658.7" cy="689.9" r="2.9" fill="#000"/>
<circle cx="666.1" cy="690.4" r="2.9" fill="#000"/>
<rect x="369.5" y="707.5" width="242.3" height="13.6" fill="#d6d6d6" stroke="#111" stroke-width="1.5" />
<rect x="369.5" y="721.1" width="177.2" height="13.4" fill="#6397d1" stroke="#111" stroke-width="1.5" />
<line x1="602.7" y1="714.3" x2="618.0" y2="714.3" stroke="#000" stroke-width="1.5"/>
<line x1="602.7" y1="710.9" x2="602.7" y2="717.7" stroke="#000" stroke-width="1.5"/>
<line x1="618.0" y1="710.9" x2="618.0" y2="717.7" stroke="#000" stroke-width="1.5"/>
<circle cx="602.7" cy="711.1" r="2.9" fill="#000"/>
<circle cx="618.0" cy="716.9" r="2.9" fill="#000"/>
<circle cx="617.1" cy="717.1" r="2.9" fill="#000"/>
<circle cx="614.5" cy="715.6" r="2.9" fill="#000"/>
<circle cx="611.7" cy="712.6" r="2.9" fill="#000"/>
<circle cx="614.1" cy="712.3" r="2.9" fill="#000"/>
<line x1="490.8" y1="727.8" x2="574.2" y2="727.8" stroke="#000" stroke-width="1.5"/>
<line x1="490.8" y1="724.5" x2="490.8" y2="731.2" stroke="#000" stroke-width="1.5"/>
<line x1="574.2" y1="724.5" x2="574.2" y2="731.2" stroke="#000" stroke-width="1.5"/>
<circle cx="506.0" cy="726.0" r="2.9" fill="#000"/>
<circle cx="589.0" cy="731.3" r="2.9" fill="#000"/>
<circle cx="541.5" cy="731.3" r="2.9" fill="#000"/>
<circle cx="565.3" cy="728.2" r="2.9" fill="#000"/>
<circle cx="557.1" cy="725.9" r="2.9" fill="#000"/>
<circle cx="562.5" cy="731.3" r="2.9" fill="#000"/>
<rect x="369.5" y="742.1" width="180.6" height="13.6" fill="#d6d6d6" stroke="#111" stroke-width="1.5" />
<rect x="369.5" y="755.7" width="97.3" height="13.4" fill="#6397d1" stroke="#111" stroke-width="1.5" />
<line x1="537.6" y1="748.9" x2="557.7" y2="748.9" stroke="#000" stroke-width="1.5"/>
<line x1="537.6" y1="745.5" x2="537.6" y2="752.3" stroke="#000" stroke-width="1.5"/>
<line x1="557.7" y1="745.5" x2="557.7" y2="752.3" stroke="#000" stroke-width="1.5"/>
<circle cx="537.6" cy="748.7" r="2.9" fill="#000"/>
<circle cx="557.7" cy="748.9" r="2.9" fill="#000"/>
<circle cx="548.4" cy="746.6" r="2.9" fill="#000"/>
<circle cx="554.3" cy="748.9" r="2.9" fill="#000"/>
<circle cx="554.8" cy="745.1" r="2.9" fill="#000"/>
<circle cx="550.1" cy="747.1" r="2.9" fill="#000"/>
<line x1="453.8" y1="762.4" x2="473.0" y2="762.4" stroke="#000" stroke-width="1.5"/>
<line x1="453.8" y1="759.1" x2="453.8" y2="765.8" stroke="#000" stroke-width="1.5"/>
<line x1="473.0" y1="759.1" x2="473.0" y2="765.8" stroke="#000" stroke-width="1.5"/>
<circle cx="446.0" cy="760.9" r="2.9" fill="#000"/>
<circle cx="472.5" cy="760.4" r="2.9" fill="#000"/>
<circle cx="471.6" cy="763.0" r="2.9" fill="#000"/>
<circle cx="470.1" cy="762.6" r="2.9" fill="#000"/>
<circle cx="468.1" cy="764.3" r="2.9" fill="#000"/>
<circle cx="467.1" cy="763.6" r="2.9" fill="#000"/>
<rect x="369.5" y="776.7" width="72.9" height="13.6" fill="#d6d6d6" stroke="#111" stroke-width="1.5" />
<rect x="369.5" y="790.3" width="88.5" height="13.4" fill="#6397d1" stroke="#111" stroke-width="1.5" />
<line x1="428.0" y1="783.5" x2="449.3" y2="783.5" stroke="#000" stroke-width="1.5"/>
<line x1="428.0" y1="780.1" x2="428.0" y2="786.9" stroke="#000" stroke-width="1.5"/>
<line x1="449.3" y1="780.1" x2="449.3" y2="786.9" stroke="#000" stroke-width="1.5"/>
<circle cx="428.0" cy="787.2" r="2.9" fill="#000"/>
<circle cx="449.3" cy="780.8" r="2.9" fill="#000"/>
<circle cx="440.2" cy="785.2" r="2.9" fill="#000"/>
<circle cx="432.2" cy="784.6" r="2.9" fill="#000"/>
<circle cx="438.9" cy="780.0" r="2.9" fill="#000"/>
<circle cx="445.3" cy="786.1" r="2.9" fill="#000"/>
<line x1="448.5" y1="797.0" x2="466.2" y2="797.0" stroke="#000" stroke-width="1.5"/>
<line x1="448.5" y1="793.7" x2="448.5" y2="800.4" stroke="#000" stroke-width="1.5"/>
<line x1="466.2" y1="793.7" x2="466.2" y2="800.4" stroke="#000" stroke-width="1.5"/>
<circle cx="448.5" cy="794.3" r="2.9" fill="#000"/>
<circle cx="466.2" cy="797.2" r="2.9" fill="#000"/>
<circle cx="462.7" cy="797.0" r="2.9" fill="#000"/>
<circle cx="454.2" cy="799.5" r="2.9" fill="#000"/>
<circle cx="457.2" cy="799.3" r="2.9" fill="#000"/>
<circle cx="450.1" cy="799.4" r="2.9" fill="#000"/>
<line x1="369.5" y1="600.0" x2="369.5" y2="807.9" stroke="#222" stroke-width="1.8"/>
<line x1="368.6" y1="807.2" x2="676.8" y2="807.2" stroke="#222" stroke-width="1.8"/>
<line x1="369.5" y1="807.2" x2="369.5" y2="816.5" stroke="#222" stroke-width="1.6"/>
<polygon points="369.88,836.00 371.98,836.00 371.98,820.25 370.79,820.25 370.26,821.18 369.40,822.14 368.32,823.11 366.23,824.44 366.23,826.31 368.11,825.37 369.88,823.86" fill="#000"/>
<line x1="502.3" y1="807.2" x2="502.3" y2="816.5" stroke="#222" stroke-width="1.6"/>
<polygon points="496.56,836.00 498.66,836.00 498.66,820.25 497.48,820.25 496.94,821.18 496.08,822.14 495.01,823.11 492.91,824.44 492.91,826.31 494.79,825.37 496.56,823.86" fill="#000"/>
<text x="502.30" y="836.0" font-size="22">0</text>
<line x1="633.6" y1="807.2" x2="633.6" y2="816.5" stroke="#222" stroke-width="1.6"/>
<polygon points="621.75,836.00 623.84,836.00 623.84,820.25 622.66,820.25 622.12,821.18 621.26,822.14 620.19,823.11 618.09,824.44 618.09,826.31 619.97,825.37 621.75,823.86" fill="#000"/>
<text x="627.48" y="836.0" font-size="22">0</text>
<text x="639.72" y="836.0" font-size="22">0</text>
<text x="418.5" y="859.8" font-size="22.35" text-anchor="start" fill="#000" >Relative IFN Signaling</text>
<rect x="24.5" y="812.5" width="19.0" height="19.5" fill="#e3e4e6" stroke="#111" stroke-width="1.5" />
<text x="45.5" y="830.0" font-size="22" text-anchor="start" fill="#000" >No Antagonist</text>
<rect x="188.5" y="812.5" width="19.5" height="19.5" fill="#6397d1" stroke="#111" stroke-width="1.5" />
<text x="209.8" y="830.0" font-size="22" text-anchor="start" fill="#000" >DENV2 NS5</text>
<text x="0.0" y="894.5" font-size="33" text-anchor="start" fill="#000" >c</text>
<text x="110.5" y="918.6" font-size="22" text-anchor="end" fill="#000" font-style="italic" >H. sapiens</text>
<text x="110.5" y="948.6" font-size="22" text-anchor="end" fill="#000" >ND/CCD</text>
<text x="110.5" y="978.7" font-size="22" text-anchor="end" fill="#000" >E282D</text>
<text x="110.5" y="1008.8" font-size="22" text-anchor="end" fill="#000" >N285Q</text>
<text x="110.5" y="1038.8" font-size="22" text-anchor="end" fill="#000" >S288T</text>
<text x="110.5" y="1068.8" font-size="22" text-anchor="end" fill="#000" >E290P</text>
<text x="110.5" y="1098.9" font-size="22" text-anchor="end" fill="#000" >T295I</text>
<text x="110.5" y="1129.0" font-size="22" text-anchor="end" fill="#000" >K296T</text>
<text x="110.5" y="1159.0" font-size="22" text-anchor="end" fill="#000" >K302E</text>
<text x="110.5" y="1189.0" font-size="22" text-anchor="end" fill="#000" >R311H</text>
<text x="110.5" y="1219.1" font-size="22" text-anchor="end" fill="#000" >No STAT2</text>
<line x1="22.2" y1="925.7" x2="22.2" y2="1187.0" stroke="#333" stroke-width="1.6"/>
<rect x="114.0" y="901.0" width="190.8" height="12.0" fill="#d6d6d6" stroke="#111" stroke-width="1.5" />
<rect x="114.0" y="913.0" width="54.8" height="12.0" fill="#6397d1" stroke="#111" stroke-width="1.5" />
<line x1="300.0" y1="907.0" x2="311.0" y2="907.0" stroke="#000" stroke-width="1.5"/>
<line x1="300.0" y1="904.0" x2="300.0" y2="910.0" stroke="#000" stroke-width="1.5"/>
<line x1="311.0" y1="904.0" x2="311.0" y2="910.0" stroke="#000" stroke-width="1.5"/>
<circle cx="300.0" cy="905.2" r="2.8" fill="#000"/>
<circle cx="311.0" cy="903.8" r="2.8" fill="#000"/>
<circle cx="300.8" cy="904.5" r="2.8" fill="#000"/>
<circle cx="301.6" cy="906.1" r="2.8" fill="#000"/>
<circle cx="302.9" cy="904.3" r="2.8" fill="#000"/>
<circle cx="300.8" cy="909.3" r="2.8" fill="#000"/>
<line x1="160.7" y1="919.0" x2="178.0" y2="919.0" stroke="#000" stroke-width="1.5"/>
<line x1="160.7" y1="916.0" x2="160.7" y2="922.0" stroke="#000" stroke-width="1.5"/>
<line x1="178.0" y1="916.0" x2="178.0" y2="922.0" stroke="#000" stroke-width="1.5"/>
<circle cx="160.7" cy="918.9" r="2.8" fill="#000"/>
<circle cx="178.0" cy="915.7" r="2.8" fill="#000"/>
<circle cx="163.2" cy="921.0" r="2.8" fill="#000"/>
<circle cx="166.6" cy="920.7" r="2.8" fill="#000"/>
<circle cx="164.3" cy="919.0" r="2.8" fill="#000"/>
<circle cx="164.2" cy="919.2" r="2.8" fill="#000"/>
<rect x="114.0" y="930.9" width="159.5" height="12.0" fill="#d6d6d6" stroke="#111" stroke-width="1.5" />
<rect x="114.0" y="942.9" width="55.4" height="12.0" fill="#6397d1" stroke="#111" stroke-width="1.5" />
<line x1="246.0" y1="936.9" x2="286.3" y2="936.9" stroke="#000" stroke-width="1.5"/>
<line x1="246.0" y1="933.9" x2="246.0" y2="939.9" stroke="#000" stroke-width="1.5"/>
<line x1="286.3" y1="933.9" x2="286.3" y2="939.9" stroke="#000" stroke-width="1.5"/>
<circle cx="248.0" cy="934.0" r="2.8" fill="#000"/>
<circle cx="294.0" cy="935.3" r="2.8" fill="#000"/>
<circle cx="271.5" cy="938.4" r="2.8" fill="#000"/>
<circle cx="270.4" cy="934.9" r="2.8" fill="#000"/>
<circle cx="272.9" cy="938.5" r="2.8" fill="#000"/>
<circle cx="265.9" cy="940.1" r="2.8" fill="#000"/>
<line x1="155.0" y1="948.9" x2="182.5" y2="948.9" stroke="#000" stroke-width="1.5"/>
<line x1="155.0" y1="945.9" x2="155.0" y2="951.9" stroke="#000" stroke-width="1.5"/>
<line x1="182.5" y1="945.9" x2="182.5" y2="951.9" stroke="#000" stroke-width="1.5"/>
<circle cx="155.0" cy="950.7" r="2.8" fill="#000"/>
<circle cx="182.5" cy="949.6" r="2.8" fill="#000"/>
<circle cx="163.2" cy="949.8" r="2.8" fill="#000"/>
<circle cx="169.6" cy="946.0" r="2.8" fill="#000"/>
<circle cx="159.9" cy="946.5" r="2.8" fill="#000"/>
<circle cx="170.7" cy="947.2" r="2.8" fill="#000"/>
<rect x="114.0" y="960.7" width="168.3" height="12.0" fill="#d6d6d6" stroke="#111" stroke-width="1.5" />
<rect x="114.0" y="972.7" width="54.8" height="12.0" fill="#6397d1" stroke="#111" stroke-width="1.5" />
<line x1="228.0" y1="966.7" x2="304.8" y2="966.7" stroke="#000" stroke-width="1.5"/>
<line x1="228.0" y1="963.7" x2="228.0" y2="969.7" stroke="#000" stroke-width="1.5"/>
<line x1="304.8" y1="963.7" x2="304.8" y2="969.7" stroke="#000" stroke-width="1.5"/>
<circle cx="239.0" cy="963.8" r="2.8" fill="#000"/>
<circle cx="309.0" cy="965.2" r="2.8" fill="#000"/>
<circle cx="281.8" cy="967.9" r="2.8" fill="#000"/>
<circle cx="269.7" cy="968.0" r="2.8" fill="#000"/>
<circle cx="280.2" cy="967.9" r="2.8" fill="#000"/>
<circle cx="281.3" cy="965.3" r="2.8" fill="#000"/>
<line x1="154.0" y1="978.7" x2="182.5" y2="978.7" stroke="#000" stroke-width="1.5"/>
<line x1="154.0" y1="975.7" x2="154.0" y2="981.7" stroke="#000" stroke-width="1.5"/>
<line x1="182.5" y1="975.7" x2="182.5" y2="981.7" stroke="#000" stroke-width="1.5"/>
<circle cx="154.0" cy="981.4" r="2.8" fill="#000"/>
<circle cx="182.5" cy="976.7" r="2.8" fill="#000"/>
<circle cx="161.6" cy="981.9" r="2.8" fill="#000"/>
<circle cx="168.0" cy="981.7" r="2.8" fill="#000"/>
<circle cx="165.6" cy="975.5" r="2.8" fill="#000"/>
<circle cx="169.5" cy="978.4" r="2.8" fill="#000"/>
<rect x="114.0" y="990.6" width="82.3" height="12.0" fill="#d6d6d6" stroke="#111" stroke-width="1.5" />
<rect x="114.0" y="1002.6" width="52.4" height="12.0" fill="#6397d1" stroke="#111" stroke-width="1.5" />
<line x1="143.6" y1="996.6" x2="218.0" y2="996.6" stroke="#000" stroke-width="1.5"/>
<line x1="143.6" y1="993.6" x2="143.6" y2="999.6" stroke="#000" stroke-width="1.5"/>
<line x1="218.0" y1="993.6" x2="218.0" y2="999.6" stroke="#000" stroke-width="1.5"/>
<circle cx="155.6" cy="994.6" r="2.8" fill="#000"/>
<circle cx="225.5" cy="999.6" r="2.8" fill="#000"/>
<circle cx="212.8" cy="994.6" r="2.8" fill="#000"/>
<circle cx="161.2" cy="997.1" r="2.8" fill="#000"/>
<circle cx="185.2" cy="994.2" r="2.8" fill="#000"/>
<circle cx="200.0" cy="996.7" r="2.8" fill="#000"/>
<line x1="150.6" y1="1008.6" x2="180.0" y2="1008.6" stroke="#000" stroke-width="1.5"/>
<line x1="150.6" y1="1005.6" x2="150.6" y2="1011.6" stroke="#000" stroke-width="1.5"/>
<line x1="180.0" y1="1005.6" x2="180.0" y2="1011.6" stroke="#000" stroke-width="1.5"/>
<circle cx="150.6" cy="1011.2" r="2.8" fill="#000"/>
<circle cx="180.0" cy="1009.9" r="2.8" fill="#000"/>
<circle cx="169.8" cy="1006.8" r="2.8" fill="#000"/>
<circle cx="165.4" cy="1011.3" r="2.8" fill="#000"/>
<circle cx="169.8" cy="1008.5" r="2.8" fill="#000"/>
<circle cx="159.2" cy="1005.4" r="2.8" fill="#000"/>
<rect x="114.0" y="1020.4" width="185.0" height="12.0" fill="#d6d6d6" stroke="#111" stroke-width="1.5" />
<rect x="114.0" y="1032.4" width="50.7" height="12.0" fill="#6397d1" stroke="#111" stroke-width="1.5" />
<line x1="278.0" y1="1026.4" x2="309.5" y2="1026.4" stroke="#000" stroke-width="1.5"/>
<line x1="278.0" y1="1023.4" x2="278.0" y2="1029.4" stroke="#000" stroke-width="1.5"/>
<line x1="309.5" y1="1023.4" x2="309.5" y2="1029.4" stroke="#000" stroke-width="1.5"/>
<circle cx="278.0" cy="1024.0" r="2.8" fill="#000"/>
<circle cx="309.5" cy="1025.4" r="2.8" fill="#000"/>
<circle cx="307.3" cy="1025.2" r="2.8" fill="#000"/>
<circle cx="299.2" cy="1028.7" r="2.8" fill="#000"/>
<circle cx="293.3" cy="1023.1" r="2.8" fill="#000"/>
<circle cx="300.8" cy="1028.1" r="2.8" fill="#000"/>
<line x1="158.0" y1="1038.4" x2="175.0" y2="1038.4" stroke="#000" stroke-width="1.5"/>
<line x1="158.0" y1="1035.4" x2="158.0" y2="1041.4" stroke="#000" stroke-width="1.5"/>
<line x1="175.0" y1="1035.4" x2="175.0" y2="1041.4" stroke="#000" stroke-width="1.5"/>
<circle cx="158.0" cy="1041.1" r="2.8" fill="#000"/>
<circle cx="175.0" cy="1037.0" r="2.8" fill="#000"/>
<circle cx="165.8" cy="1037.6" r="2.8" fill="#000"/>
<circle cx="162.9" cy="1037.7" r="2.8" fill="#000"/>
<circle cx="170.6" cy="1041.8" r="2.8" fill="#000"/>
<circle cx="161.7" cy="1039.0" r="2.8" fill="#000"/>
<rect x="114.0" y="1050.3" width="168.0" height="12.0" fill="#d6d6d6" stroke="#111" stroke-width="1.5" />
<rect x="114.0" y="1062.3" width="54.8" height="12.0" fill="#6397d1" stroke="#111" stroke-width="1.5" />
<line x1="271.5" y1="1056.3" x2="294.4" y2="1056.3" stroke="#000" stroke-width="1.5"/>
<line x1="271.5" y1="1053.3" x2="271.5" y2="1059.3" stroke="#000" stroke-width="1.5"/>
<line x1="294.4" y1="1053.3" x2="294.4" y2="1059.3" stroke="#000" stroke-width="1.5"/>
<circle cx="271.5" cy="1053.6" r="2.8" fill="#000"/>
<circle cx="294.4" cy="1058.5" r="2.8" fill="#000"/>
<circle cx="278.4" cy="1054.9" r="2.8" fill="#000"/>
<circle cx="286.4" cy="1059.2" r="2.8" fill="#000"/>
<circle cx="281.7" cy="1054.6" r="2.8" fill="#000"/>
<circle cx="283.7" cy="1054.7" r="2.8" fill="#000"/>
<line x1="148.0" y1="1068.3" x2="180.0" y2="1068.3" stroke="#000" stroke-width="1.5"/>
<line x1="148.0" y1="1065.3" x2="148.0" y2="1071.3" stroke="#000" stroke-width="1.5"/>
<line x1="180.0" y1="1065.3" x2="180.0" y2="1071.3" stroke="#000" stroke-width="1.5"/>
<circle cx="148.0" cy="1070.9" r="2.8" fill="#000"/>
<circle cx="180.0" cy="1070.4" r="2.8" fill="#000"/>
<circle cx="164.1" cy="1069.2" r="2.8" fill="#000"/>
<circle cx="168.5" cy="1071.1" r="2.8" fill="#000"/>
<circle cx="156.2" cy="1071.3" r="2.8" fill="#000"/>
<circle cx="179.2" cy="1068.6" r="2.8" fill="#000"/>
<rect x="114.0" y="1080.2" width="77.3" height="12.0" fill="#d6d6d6" stroke="#111" stroke-width="1.5" />
<rect x="114.0" y="1092.2" width="58.1" height="12.0" fill="#6397d1" stroke="#111" stroke-width="1.5" />
<line x1="151.0" y1="1086.2" x2="210.7" y2="1086.2" stroke="#000" stroke-width="1.5"/>
<line x1="151.0" y1="1083.2" x2="151.0" y2="1089.2" stroke="#000" stroke-width="1.5"/>
<line x1="210.7" y1="1083.2" x2="210.7" y2="1089.2" stroke="#000" stroke-width="1.5"/>
<circle cx="159.0" cy="1087.9" r="2.8" fill="#000"/>
<circle cx="215.0" cy="1087.1" r="2.8" fill="#000"/>
<circle cx="190.6" cy="1084.7" r="2.8" fill="#000"/>
<circle cx="187.5" cy="1083.1" r="2.8" fill="#000"/>
<circle cx="189.8" cy="1089.0" r="2.8" fill="#000"/>
<circle cx="178.2" cy="1083.7" r="2.8" fill="#000"/>
<line x1="155.0" y1="1098.2" x2="185.0" y2="1098.2" stroke="#000" stroke-width="1.5"/>
<line x1="155.0" y1="1095.2" x2="155.0" y2="1101.2" stroke="#000" stroke-width="1.5"/>
<line x1="185.0" y1="1095.2" x2="185.0" y2="1101.2" stroke="#000" stroke-width="1.5"/>
<circle cx="155.0" cy="1101.4" r="2.8" fill="#000"/>
<circle cx="185.0" cy="1096.5" r="2.8" fill="#000"/>
<circle cx="166.0" cy="1099.2" r="2.8" fill="#000"/>
<circle cx="173.2" cy="1096.8" r="2.8" fill="#000"/>
<circle cx="168.8" cy="1098.5" r="2.8" fill="#000"/>
<circle cx="182.7" cy="1097.5" r="2.8" fill="#000"/>
<rect x="114.0" y="1110.0" width="76.6" height="12.0" fill="#d6d6d6" stroke="#111" stroke-width="1.5" />
<rect x="114.0" y="1122.0" width="58.1" height="12.0" fill="#6397d1" stroke="#111" stroke-width="1.5" />
<line x1="153.0" y1="1116.0" x2="210.0" y2="1116.0" stroke="#000" stroke-width="1.5"/>
<line x1="153.0" y1="1113.0" x2="153.0" y2="1119.0" stroke="#000" stroke-width="1.5"/>
<line x1="210.0" y1="1113.0" x2="210.0" y2="1119.0" stroke="#000" stroke-width="1.5"/>
<circle cx="156.6" cy="1116.0" r="2.8" fill="#000"/>
<circle cx="212.0" cy="1114.1" r="2.8" fill="#000"/>
<circle cx="194.1" cy="1118.8" r="2.8" fill="#000"/>
<circle cx="196.7" cy="1119.4" r="2.8" fill="#000"/>
<circle cx="197.4" cy="1115.7" r="2.8" fill="#000"/>
<circle cx="211.2" cy="1113.6" r="2.8" fill="#000"/>
<line x1="155.0" y1="1128.0" x2="182.5" y2="1128.0" stroke="#000" stroke-width="1.5"/>
<line x1="155.0" y1="1125.0" x2="155.0" y2="1131.0" stroke="#000" stroke-width="1.5"/>
<line x1="182.5" y1="1125.0" x2="182.5" y2="1131.0" stroke="#000" stroke-width="1.5"/>
<circle cx="155.0" cy="1126.3" r="2.8" fill="#000"/>
<circle cx="182.5" cy="1126.4" r="2.8" fill="#000"/>
<circle cx="173.1" cy="1128.5" r="2.8" fill="#000"/>
<circle cx="174.7" cy="1130.6" r="2.8" fill="#000"/>
<circle cx="170.6" cy="1129.7" r="2.8" fill="#000"/>
<circle cx="174.4" cy="1127.4" r="2.8" fill="#000"/>
<rect x="114.0" y="1139.9" width="168.3" height="12.0" fill="#d6d6d6" stroke="#111" stroke-width="1.5" />
<rect x="114.0" y="1151.9" width="54.8" height="12.0" fill="#6397d1" stroke="#111" stroke-width="1.5" />
<line x1="274.0" y1="1145.9" x2="288.7" y2="1145.9" stroke="#000" stroke-width="1.5"/>
<line x1="274.0" y1="1142.9" x2="274.0" y2="1148.9" stroke="#000" stroke-width="1.5"/>
<line x1="288.7" y1="1142.9" x2="288.7" y2="1148.9" stroke="#000" stroke-width="1.5"/>
<circle cx="274.0" cy="1142.9" r="2.8" fill="#000"/>
<circle cx="288.7" cy="1144.4" r="2.8" fill="#000"/>
<circle cx="278.4" cy="1149.0" r="2.8" fill="#000"/>
<circle cx="284.6" cy="1143.4" r="2.8" fill="#000"/>
<circle cx="279.9" cy="1145.9" r="2.8" fill="#000"/>
<circle cx="284.7" cy="1146.8" r="2.8" fill="#000"/>
<line x1="151.6" y1="1157.9" x2="182.0" y2="1157.9" stroke="#000" stroke-width="1.5"/>
<line x1="151.6" y1="1154.9" x2="151.6" y2="1160.9" stroke="#000" stroke-width="1.5"/>
<line x1="182.0" y1="1154.9" x2="182.0" y2="1160.9" stroke="#000" stroke-width="1.5"/>
<circle cx="151.6" cy="1157.2" r="2.8" fill="#000"/>
<circle cx="182.0" cy="1157.5" r="2.8" fill="#000"/>
<circle cx="171.9" cy="1160.9" r="2.8" fill="#000"/>
<circle cx="165.2" cy="1160.2" r="2.8" fill="#000"/>
<circle cx="168.1" cy="1160.4" r="2.8" fill="#000"/>
<circle cx="174.0" cy="1154.7" r="2.8" fill="#000"/>
<rect x="114.0" y="1169.7" width="117.6" height="12.0" fill="#d6d6d6" stroke="#111" stroke-width="1.5" />
<rect x="114.0" y="1181.7" width="50.4" height="12.0" fill="#6397d1" stroke="#111" stroke-width="1.5" />
<line x1="215.4" y1="1175.7" x2="246.3" y2="1175.7" stroke="#000" stroke-width="1.5"/>
<line x1="215.4" y1="1172.7" x2="215.4" y2="1178.7" stroke="#000" stroke-width="1.5"/>
<line x1="246.3" y1="1172.7" x2="246.3" y2="1178.7" stroke="#000" stroke-width="1.5"/>
<circle cx="215.4" cy="1176.3" r="2.8" fill="#000"/>
<circle cx="246.3" cy="1172.4" r="2.8" fill="#000"/>
<circle cx="242.4" cy="1175.0" r="2.8" fill="#000"/>
<circle cx="233.8" cy="1178.6" r="2.8" fill="#000"/>
<circle cx="237.9" cy="1177.9" r="2.8" fill="#000"/>
<circle cx="226.8" cy="1178.1" r="2.8" fill="#000"/>
<line x1="151.6" y1="1187.7" x2="176.8" y2="1187.7" stroke="#000" stroke-width="1.5"/>
<line x1="151.6" y1="1184.7" x2="151.6" y2="1190.7" stroke="#000" stroke-width="1.5"/>
<line x1="176.8" y1="1184.7" x2="176.8" y2="1190.7" stroke="#000" stroke-width="1.5"/>
<circle cx="151.6" cy="1187.9" r="2.8" fill="#000"/>
<circle cx="176.8" cy="1189.0" r="2.8" fill="#000"/>
<circle cx="168.7" cy="1190.7" r="2.8" fill="#000"/>
<circle cx="163.6" cy="1189.2" r="2.8" fill="#000"/>
<circle cx="167.0" cy="1188.7" r="2.8" fill="#000"/>
<circle cx="166.5" cy="1189.5" r="2.8" fill="#000"/>
<rect x="114.0" y="1199.6" width="74.9" height="12.0" fill="#d6d6d6" stroke="#111" stroke-width="1.5" />
<rect x="114.0" y="1211.6" width="49.0" height="12.0" fill="#6397d1" stroke="#111" stroke-width="1.5" />
<line x1="146.0" y1="1205.6" x2="210.0" y2="1205.6" stroke="#000" stroke-width="1.5"/>
<line x1="146.0" y1="1202.6" x2="146.0" y2="1208.6" stroke="#000" stroke-width="1.5"/>
<line x1="210.0" y1="1202.6" x2="210.0" y2="1208.6" stroke="#000" stroke-width="1.5"/>
<circle cx="151.6" cy="1203.8" r="2.8" fill="#000"/>
<circle cx="213.8" cy="1208.4" r="2.8" fill="#000"/>
<circle cx="172.7" cy="1206.6" r="2.8" fill="#000"/>
<circle cx="193.3" cy="1204.3" r="2.8" fill="#000"/>
<circle cx="211.3" cy="1203.1" r="2.8" fill="#000"/>
<circle cx="194.6" cy="1203.9" r="2.8" fill="#000"/>
<line x1="153.0" y1="1217.6" x2="178.0" y2="1217.6" stroke="#000" stroke-width="1.5"/>
<line x1="153.0" y1="1214.6" x2="153.0" y2="1220.6" stroke="#000" stroke-width="1.5"/>
<line x1="178.0" y1="1214.6" x2="178.0" y2="1220.6" stroke="#000" stroke-width="1.5"/>
<circle cx="153.0" cy="1217.8" r="2.8" fill="#000"/>
<circle cx="178.0" cy="1218.2" r="2.8" fill="#000"/>
<circle cx="157.1" cy="1216.8" r="2.8" fill="#000"/>
<circle cx="156.2" cy="1215.7" r="2.8" fill="#000"/>
<circle cx="164.7" cy="1218.3" r="2.8" fill="#000"/>
<circle cx="164.4" cy="1214.3" r="2.8" fill="#000"/>
<line x1="114.0" y1="899.4" x2="114.0" y2="1227.0" stroke="#222" stroke-width="1.8"/>
<line x1="113.1" y1="1226.3" x2="326.5" y2="1226.3" stroke="#222" stroke-width="1.8"/>
<line x1="114.0" y1="1226.3" x2="114.0" y2="1234.0" stroke="#222" stroke-width="1.6"/>
<polygon points="114.38,1252.60 116.48,1252.60 116.48,1236.85 115.29,1236.85 114.76,1237.78 113.90,1238.74 112.82,1239.71 110.73,1241.04 110.73,1242.91 112.61,1241.97 114.38,1240.46" fill="#000"/>
<line x1="209.0" y1="1226.3" x2="209.0" y2="1234.0" stroke="#222" stroke-width="1.6"/>
<polygon points="203.26,1252.60 205.36,1252.60 205.36,1236.85 204.18,1236.85 203.64,1237.78 202.78,1238.74 201.71,1239.71 199.61,1241.04 199.61,1242.91 201.49,1241.97 203.26,1240.46" fill="#000"/>
<text x="209.00" y="1252.6" font-size="22">0</text>
<line x1="304.0" y1="1226.3" x2="304.0" y2="1234.0" stroke="#222" stroke-width="1.6"/>
<polygon points="292.15,1252.60 294.24,1252.60 294.24,1236.85 293.06,1236.85 292.52,1237.78 291.66,1238.74 290.59,1239.71 288.49,1241.04 288.49,1242.91 290.37,1241.97 292.15,1240.46" fill="#000"/>
<text x="297.88" y="1252.6" font-size="22">0</text>
<text x="310.12" y="1252.6" font-size="22">0</text>
<text transform="translate(18.8,1166.5) rotate(-90)" font-size="22" font-style="italic">Miniopterus natalensis</text><rect x="136.5" y="1280.5" width="19.5" height="19.5" fill="#e3e4e6" stroke="#1c1c1c" stroke-width="1.5"/><text x="158.3" y="1297.8" font-size="22">No Antagonist</text><rect x="136.5" y="1305.8" width="19.5" height="19.5" fill="#6397d1" stroke="#1c1c1c" stroke-width="1.5"/><text x="158.3" y="1323.4" font-size="22">DENV2 NS5</text><text x="106.3" y="1273.8" font-size="22.35">Relative IFN Signaling</text>
<text x="341.5" y="894.5" font-size="33" text-anchor="start" fill="#000" >d</text>
<text x="455.6" y="918.6" font-size="22" text-anchor="end" fill="#000" font-style="italic" >H. sapiens</text>
<text x="455.6" y="948.6" font-size="22" text-anchor="end" fill="#000" >ND/CCD</text>
<text x="455.6" y="978.7" font-size="22" text-anchor="end" fill="#000" >D283E</text>
<text x="455.6" y="1008.8" font-size="22" text-anchor="end" fill="#000" >Q286N</text>
<text x="455.6" y="1038.8" font-size="22" text-anchor="end" fill="#000" >T289S</text>
<text x="455.6" y="1068.8" font-size="22" text-anchor="end" fill="#000" >P291E</text>
<text x="455.6" y="1098.9" font-size="22" text-anchor="end" fill="#000" >I296T</text>
<text x="455.6" y="1129.0" font-size="22" text-anchor="end" fill="#000" >T297K</text>
<text x="455.6" y="1159.0" font-size="22" text-anchor="end" fill="#000" >E303K</text>
<text x="455.6" y="1189.0" font-size="22" text-anchor="end" fill="#000" >H312R</text>
<text x="455.6" y="1219.1" font-size="22" text-anchor="end" fill="#000" >No STAT2</text>
<line x1="366.6" y1="925.7" x2="366.6" y2="1187.0" stroke="#333" stroke-width="1.6"/>
<rect x="458.2" y="901.8" width="176.5" height="12.0" fill="#d6d6d6" stroke="#111" stroke-width="1.5" />
<rect x="458.2" y="913.8" width="52.2" height="12.0" fill="#6397d1" stroke="#111" stroke-width="1.5" />
<line x1="628.0" y1="907.8" x2="641.0" y2="907.8" stroke="#000" stroke-width="1.5"/>
<line x1="628.0" y1="904.8" x2="628.0" y2="910.8" stroke="#000" stroke-width="1.5"/>
<line x1="641.0" y1="904.8" x2="641.0" y2="910.8" stroke="#000" stroke-width="1.5"/>
<circle cx="628.0" cy="910.4" r="2.8" fill="#000"/>
<circle cx="641.0" cy="907.6" r="2.8" fill="#000"/>
<circle cx="633.5" cy="906.0" r="2.8" fill="#000"/>
<circle cx="638.3" cy="906.1" r="2.8" fill="#000"/>
<circle cx="639.4" cy="910.9" r="2.8" fill="#000"/>
<circle cx="633.5" cy="909.2" r="2.8" fill="#000"/>
<line x1="504.0" y1="919.8" x2="521.8" y2="919.8" stroke="#000" stroke-width="1.5"/>
<line x1="504.0" y1="916.8" x2="504.0" y2="922.8" stroke="#000" stroke-width="1.5"/>
<line x1="521.8" y1="916.8" x2="521.8" y2="922.8" stroke="#000" stroke-width="1.5"/>
<circle cx="504.0" cy="919.3" r="2.8" fill="#000"/>
<circle cx="521.8" cy="918.2" r="2.8" fill="#000"/>
<circle cx="510.1" cy="920.9" r="2.8" fill="#000"/>
<circle cx="511.3" cy="922.7" r="2.8" fill="#000"/>
<circle cx="504.8" cy="918.0" r="2.8" fill="#000"/>
<circle cx="510.5" cy="916.7" r="2.8" fill="#000"/>
<rect x="458.2" y="931.7" width="178.1" height="12.0" fill="#d6d6d6" stroke="#111" stroke-width="1.5" />
<rect x="458.2" y="943.7" width="183.2" height="12.0" fill="#6397d1" stroke="#111" stroke-width="1.5" />
<line x1="630.0" y1="937.7" x2="642.7" y2="937.7" stroke="#000" stroke-width="1.5"/>
<line x1="630.0" y1="934.7" x2="630.0" y2="940.7" stroke="#000" stroke-width="1.5"/>
<line x1="642.7" y1="934.7" x2="642.7" y2="940.7" stroke="#000" stroke-width="1.5"/>
<circle cx="630.0" cy="939.7" r="2.8" fill="#000"/>
<circle cx="642.7" cy="939.3" r="2.8" fill="#000"/>
<circle cx="634.5" cy="937.7" r="2.8" fill="#000"/>
<circle cx="639.3" cy="935.7" r="2.8" fill="#000"/>
<circle cx="635.4" cy="940.8" r="2.8" fill="#000"/>
<circle cx="634.3" cy="936.4" r="2.8" fill="#000"/>
<line x1="628.0" y1="949.7" x2="652.0" y2="949.7" stroke="#000" stroke-width="1.5"/>
<line x1="628.0" y1="946.7" x2="628.0" y2="952.7" stroke="#000" stroke-width="1.5"/>
<line x1="652.0" y1="946.7" x2="652.0" y2="952.7" stroke="#000" stroke-width="1.5"/>
<circle cx="623.0" cy="948.3" r="2.8" fill="#000"/>
<circle cx="651.0" cy="952.7" r="2.8" fill="#000"/>
<circle cx="643.4" cy="949.6" r="2.8" fill="#000"/>
<circle cx="637.2" cy="947.6" r="2.8" fill="#000"/>
<circle cx="643.3" cy="947.8" r="2.8" fill="#000"/>
<circle cx="650.2" cy="949.1" r="2.8" fill="#000"/>
<rect x="458.2" y="961.5" width="56.6" height="12.0" fill="#d6d6d6" stroke="#111" stroke-width="1.5" />
<rect x="458.2" y="973.5" width="55.6" height="12.0" fill="#6397d1" stroke="#111" stroke-width="1.5" />
<line x1="512.0" y1="967.5" x2="522.0" y2="967.5" stroke="#000" stroke-width="1.5"/>
<line x1="512.0" y1="964.5" x2="512.0" y2="970.5" stroke="#000" stroke-width="1.5"/>
<line x1="522.0" y1="964.5" x2="522.0" y2="970.5" stroke="#000" stroke-width="1.5"/>
<circle cx="512.0" cy="965.6" r="2.8" fill="#000"/>
<circle cx="522.0" cy="970.7" r="2.8" fill="#000"/>
<circle cx="512.8" cy="965.1" r="2.8" fill="#000"/>
<circle cx="512.8" cy="964.5" r="2.8" fill="#000"/>
<circle cx="516.5" cy="964.6" r="2.8" fill="#000"/>
<circle cx="517.0" cy="966.8" r="2.8" fill="#000"/>
<line x1="510.0" y1="979.5" x2="522.0" y2="979.5" stroke="#000" stroke-width="1.5"/>
<line x1="510.0" y1="976.5" x2="510.0" y2="982.5" stroke="#000" stroke-width="1.5"/>
<line x1="522.0" y1="976.5" x2="522.0" y2="982.5" stroke="#000" stroke-width="1.5"/>
<circle cx="510.0" cy="982.4" r="2.8" fill="#000"/>
<circle cx="522.0" cy="978.4" r="2.8" fill="#000"/>
<circle cx="519.1" cy="977.4" r="2.8" fill="#000"/>
<circle cx="510.8" cy="982.4" r="2.8" fill="#000"/>
<circle cx="512.6" cy="981.2" r="2.8" fill="#000"/>
<circle cx="510.8" cy="976.4" r="2.8" fill="#000"/>
<rect x="458.2" y="991.4" width="196.6" height="12.0" fill="#d6d6d6" stroke="#111" stroke-width="1.5" />
<rect x="458.2" y="1003.4" width="193.2" height="12.0" fill="#6397d1" stroke="#111" stroke-width="1.5" />
<line x1="644.0" y1="997.4" x2="660.5" y2="997.4" stroke="#000" stroke-width="1.5"/>
<line x1="644.0" y1="994.4" x2="644.0" y2="1000.4" stroke="#000" stroke-width="1.5"/>
<line x1="660.5" y1="994.4" x2="660.5" y2="1000.4" stroke="#000" stroke-width="1.5"/>
<circle cx="644.0" cy="995.2" r="2.8" fill="#000"/>
<circle cx="660.5" cy="994.0" r="2.8" fill="#000"/>
<circle cx="652.8" cy="995.9" r="2.8" fill="#000"/>
<circle cx="651.4" cy="996.4" r="2.8" fill="#000"/>
<circle cx="652.2" cy="1000.4" r="2.8" fill="#000"/>
<circle cx="657.4" cy="994.9" r="2.8" fill="#000"/>
<line x1="626.0" y1="1009.4" x2="667.0" y2="1009.4" stroke="#000" stroke-width="1.5"/>
<line x1="626.0" y1="1006.4" x2="626.0" y2="1012.4" stroke="#000" stroke-width="1.5"/>
<line x1="667.0" y1="1006.4" x2="667.0" y2="1012.4" stroke="#000" stroke-width="1.5"/>
<circle cx="623.0" cy="1011.5" r="2.8" fill="#000"/>
<circle cx="668.0" cy="1008.9" r="2.8" fill="#000"/>
<circle cx="657.9" cy="1006.4" r="2.8" fill="#000"/>
<circle cx="649.9" cy="1009.2" r="2.8" fill="#000"/>
<circle cx="640.1" cy="1008.5" r="2.8" fill="#000"/>
<circle cx="665.7" cy="1012.2" r="2.8" fill="#000"/>
<rect x="458.2" y="1021.2" width="55.6" height="12.0" fill="#d6d6d6" stroke="#111" stroke-width="1.5" />
<rect x="458.2" y="1033.2" width="50.5" height="12.0" fill="#6397d1" stroke="#111" stroke-width="1.5" />
<line x1="507.0" y1="1027.2" x2="519.5" y2="1027.2" stroke="#000" stroke-width="1.5"/>
<line x1="507.0" y1="1024.2" x2="507.0" y2="1030.2" stroke="#000" stroke-width="1.5"/>
<line x1="519.5" y1="1024.2" x2="519.5" y2="1030.2" stroke="#000" stroke-width="1.5"/>
<circle cx="507.0" cy="1026.6" r="2.8" fill="#000"/>
<circle cx="519.5" cy="1029.3" r="2.8" fill="#000"/>
<circle cx="514.9" cy="1029.0" r="2.8" fill="#000"/>
<circle cx="516.7" cy="1024.2" r="2.8" fill="#000"/>
<circle cx="514.5" cy="1024.1" r="2.8" fill="#000"/>
<circle cx="513.3" cy="1024.3" r="2.8" fill="#000"/>
<line x1="504.0" y1="1039.2" x2="510.0" y2="1039.2" stroke="#000" stroke-width="1.5"/>
<line x1="504.0" y1="1036.2" x2="504.0" y2="1042.2" stroke="#000" stroke-width="1.5"/>
<line x1="510.0" y1="1036.2" x2="510.0" y2="1042.2" stroke="#000" stroke-width="1.5"/>
<circle cx="504.0" cy="1038.2" r="2.8" fill="#000"/>
<circle cx="510.0" cy="1037.7" r="2.8" fill="#000"/>
<circle cx="509.2" cy="1042.3" r="2.8" fill="#000"/>
<circle cx="508.0" cy="1040.0" r="2.8" fill="#000"/>
<circle cx="508.6" cy="1037.6" r="2.8" fill="#000"/>
<circle cx="504.8" cy="1040.7" r="2.8" fill="#000"/>
<rect x="458.2" y="1051.1" width="184.8" height="12.0" fill="#d6d6d6" stroke="#111" stroke-width="1.5" />
<rect x="458.2" y="1063.1" width="165.4" height="12.0" fill="#6397d1" stroke="#111" stroke-width="1.5" />
<line x1="631.6" y1="1057.1" x2="651.0" y2="1057.1" stroke="#000" stroke-width="1.5"/>
<line x1="631.6" y1="1054.1" x2="631.6" y2="1060.1" stroke="#000" stroke-width="1.5"/>
<line x1="651.0" y1="1054.1" x2="651.0" y2="1060.1" stroke="#000" stroke-width="1.5"/>
<circle cx="631.6" cy="1059.9" r="2.8" fill="#000"/>
<circle cx="651.0" cy="1058.0" r="2.8" fill="#000"/>
<circle cx="641.5" cy="1060.1" r="2.8" fill="#000"/>
<circle cx="646.4" cy="1053.9" r="2.8" fill="#000"/>
<circle cx="650.2" cy="1055.3" r="2.8" fill="#000"/>
<circle cx="643.2" cy="1056.9" r="2.8" fill="#000"/>
<line x1="611.0" y1="1069.1" x2="636.0" y2="1069.1" stroke="#000" stroke-width="1.5"/>
<line x1="611.0" y1="1066.1" x2="611.0" y2="1072.1" stroke="#000" stroke-width="1.5"/>
<line x1="636.0" y1="1066.1" x2="636.0" y2="1072.1" stroke="#000" stroke-width="1.5"/>
<circle cx="599.7" cy="1068.6" r="2.8" fill="#000"/>
<circle cx="634.0" cy="1069.1" r="2.8" fill="#000"/>
<circle cx="633.2" cy="1072.0" r="2.8" fill="#000"/>
<circle cx="618.5" cy="1067.0" r="2.8" fill="#000"/>
<circle cx="619.2" cy="1071.1" r="2.8" fill="#000"/>
<circle cx="627.4" cy="1070.7" r="2.8" fill="#000"/>
<rect x="458.2" y="1081.0" width="70.0" height="12.0" fill="#d6d6d6" stroke="#111" stroke-width="1.5" />
<rect x="458.2" y="1093.0" width="79.1" height="12.0" fill="#6397d1" stroke="#111" stroke-width="1.5" />
<line x1="519.0" y1="1087.0" x2="532.0" y2="1087.0" stroke="#000" stroke-width="1.5"/>
<line x1="519.0" y1="1084.0" x2="519.0" y2="1090.0" stroke="#000" stroke-width="1.5"/>
<line x1="532.0" y1="1084.0" x2="532.0" y2="1090.0" stroke="#000" stroke-width="1.5"/>
<circle cx="519.0" cy="1085.7" r="2.8" fill="#000"/>
<circle cx="532.0" cy="1086.0" r="2.8" fill="#000"/>
<circle cx="530.8" cy="1088.9" r="2.8" fill="#000"/>
<circle cx="522.9" cy="1084.1" r="2.8" fill="#000"/>
<circle cx="525.8" cy="1084.9" r="2.8" fill="#000"/>
<circle cx="526.3" cy="1088.7" r="2.8" fill="#000"/>
<line x1="532.6" y1="1099.0" x2="544.3" y2="1099.0" stroke="#000" stroke-width="1.5"/>
<line x1="532.6" y1="1096.0" x2="532.6" y2="1102.0" stroke="#000" stroke-width="1.5"/>
<line x1="544.3" y1="1096.0" x2="544.3" y2="1102.0" stroke="#000" stroke-width="1.5"/>
<circle cx="532.6" cy="1097.8" r="2.8" fill="#000"/>
<circle cx="544.3" cy="1102.2" r="2.8" fill="#000"/>
<circle cx="537.3" cy="1101.5" r="2.8" fill="#000"/>
<circle cx="538.4" cy="1102.2" r="2.8" fill="#000"/>
<circle cx="541.2" cy="1097.4" r="2.8" fill="#000"/>
<circle cx="538.1" cy="1096.2" r="2.8" fill="#000"/>
<rect x="458.2" y="1110.8" width="187.5" height="12.0" fill="#d6d6d6" stroke="#111" stroke-width="1.5" />
<rect x="458.2" y="1122.8" width="154.6" height="12.0" fill="#6397d1" stroke="#111" stroke-width="1.5" />
<line x1="640.0" y1="1116.8" x2="656.5" y2="1116.8" stroke="#000" stroke-width="1.5"/>
<line x1="640.0" y1="1113.8" x2="640.0" y2="1119.8" stroke="#000" stroke-width="1.5"/>
<line x1="656.5" y1="1113.8" x2="656.5" y2="1119.8" stroke="#000" stroke-width="1.5"/>
<circle cx="635.0" cy="1115.0" r="2.8" fill="#000"/>
<circle cx="658.0" cy="1116.3" r="2.8" fill="#000"/>
<circle cx="650.9" cy="1117.6" r="2.8" fill="#000"/>
<circle cx="649.3" cy="1118.0" r="2.8" fill="#000"/>
<circle cx="644.2" cy="1118.5" r="2.8" fill="#000"/>
<circle cx="640.0" cy="1119.2" r="2.8" fill="#000"/>
<line x1="609.8" y1="1128.8" x2="617.0" y2="1128.8" stroke="#000" stroke-width="1.5"/>
<line x1="609.8" y1="1125.8" x2="609.8" y2="1131.8" stroke="#000" stroke-width="1.5"/>
<line x1="617.0" y1="1125.8" x2="617.0" y2="1131.8" stroke="#000" stroke-width="1.5"/>
<circle cx="609.8" cy="1129.3" r="2.8" fill="#000"/>
<circle cx="617.0" cy="1128.0" r="2.8" fill="#000"/>
<circle cx="612.2" cy="1130.4" r="2.8" fill="#000"/>
<circle cx="611.8" cy="1126.8" r="2.8" fill="#000"/>
<circle cx="613.8" cy="1127.1" r="2.8" fill="#000"/>
<circle cx="611.2" cy="1127.1" r="2.8" fill="#000"/>
<rect x="458.2" y="1140.7" width="63.3" height="12.0" fill="#d6d6d6" stroke="#111" stroke-width="1.5" />
<rect x="458.2" y="1152.7" width="57.2" height="12.0" fill="#6397d1" stroke="#111" stroke-width="1.5" />
<line x1="505.7" y1="1146.7" x2="533.0" y2="1146.7" stroke="#000" stroke-width="1.5"/>
<line x1="505.7" y1="1143.7" x2="505.7" y2="1149.7" stroke="#000" stroke-width="1.5"/>
<line x1="533.0" y1="1143.7" x2="533.0" y2="1149.7" stroke="#000" stroke-width="1.5"/>
<circle cx="505.7" cy="1146.0" r="2.8" fill="#000"/>
<circle cx="533.0" cy="1150.0" r="2.8" fill="#000"/>
<circle cx="528.9" cy="1146.7" r="2.8" fill="#000"/>
<circle cx="532.2" cy="1144.9" r="2.8" fill="#000"/>
<circle cx="516.6" cy="1148.8" r="2.8" fill="#000"/>
<circle cx="518.9" cy="1147.7" r="2.8" fill="#000"/>
<line x1="507.0" y1="1158.7" x2="522.0" y2="1158.7" stroke="#000" stroke-width="1.5"/>
<line x1="507.0" y1="1155.7" x2="507.0" y2="1161.7" stroke="#000" stroke-width="1.5"/>
<line x1="522.0" y1="1155.7" x2="522.0" y2="1161.7" stroke="#000" stroke-width="1.5"/>
<circle cx="507.0" cy="1161.0" r="2.8" fill="#000"/>
<circle cx="522.0" cy="1161.5" r="2.8" fill="#000"/>
<circle cx="517.2" cy="1155.6" r="2.8" fill="#000"/>
<circle cx="515.3" cy="1157.3" r="2.8" fill="#000"/>
<circle cx="508.5" cy="1156.1" r="2.8" fill="#000"/>
<circle cx="516.5" cy="1156.6" r="2.8" fill="#000"/>
<rect x="458.2" y="1170.5" width="59.6" height="12.0" fill="#d6d6d6" stroke="#111" stroke-width="1.5" />
<rect x="458.2" y="1182.5" width="52.2" height="12.0" fill="#6397d1" stroke="#111" stroke-width="1.5" />
<line x1="500.0" y1="1176.5" x2="527.0" y2="1176.5" stroke="#000" stroke-width="1.5"/>
<line x1="500.0" y1="1173.5" x2="500.0" y2="1179.5" stroke="#000" stroke-width="1.5"/>
<line x1="527.0" y1="1173.5" x2="527.0" y2="1179.5" stroke="#000" stroke-width="1.5"/>
<circle cx="502.0" cy="1179.0" r="2.8" fill="#000"/>
<circle cx="527.0" cy="1176.2" r="2.8" fill="#000"/>
<circle cx="525.4" cy="1174.9" r="2.8" fill="#000"/>
<circle cx="516.5" cy="1178.4" r="2.8" fill="#000"/>
<circle cx="522.9" cy="1179.5" r="2.8" fill="#000"/>
<circle cx="515.4" cy="1173.9" r="2.8" fill="#000"/>
<line x1="507.0" y1="1188.5" x2="512.0" y2="1188.5" stroke="#000" stroke-width="1.5"/>
<line x1="507.0" y1="1185.5" x2="507.0" y2="1191.5" stroke="#000" stroke-width="1.5"/>
<line x1="512.0" y1="1185.5" x2="512.0" y2="1191.5" stroke="#000" stroke-width="1.5"/>
<circle cx="507.0" cy="1186.1" r="2.8" fill="#000"/>
<circle cx="512.0" cy="1186.6" r="2.8" fill="#000"/>
<circle cx="508.3" cy="1186.9" r="2.8" fill="#000"/>
<circle cx="509.0" cy="1189.2" r="2.8" fill="#000"/>
<circle cx="510.7" cy="1189.6" r="2.8" fill="#000"/>
<circle cx="511.2" cy="1186.5" r="2.8" fill="#000"/>
<rect x="458.2" y="1200.4" width="54.6" height="12.0" fill="#d6d6d6" stroke="#111" stroke-width="1.5" />
<rect x="458.2" y="1212.4" width="52.2" height="12.0" fill="#6397d1" stroke="#111" stroke-width="1.5" />
<line x1="507.0" y1="1206.4" x2="520.0" y2="1206.4" stroke="#000" stroke-width="1.5"/>
<line x1="507.0" y1="1203.4" x2="507.0" y2="1209.4" stroke="#000" stroke-width="1.5"/>
<line x1="520.0" y1="1203.4" x2="520.0" y2="1209.4" stroke="#000" stroke-width="1.5"/>
<circle cx="507.0" cy="1205.1" r="2.8" fill="#000"/>
<circle cx="520.0" cy="1204.4" r="2.8" fill="#000"/>
<circle cx="515.8" cy="1208.4" r="2.8" fill="#000"/>
<circle cx="513.0" cy="1206.7" r="2.8" fill="#000"/>
<circle cx="511.9" cy="1203.5" r="2.8" fill="#000"/>
<circle cx="510.8" cy="1203.7" r="2.8" fill="#000"/>
<line x1="507.0" y1="1218.4" x2="511.0" y2="1218.4" stroke="#000" stroke-width="1.5"/>
<line x1="507.0" y1="1215.4" x2="507.0" y2="1221.4" stroke="#000" stroke-width="1.5"/>
<line x1="511.0" y1="1215.4" x2="511.0" y2="1221.4" stroke="#000" stroke-width="1.5"/>
<circle cx="507.0" cy="1216.1" r="2.8" fill="#000"/>
<circle cx="511.0" cy="1219.7" r="2.8" fill="#000"/>
<circle cx="508.8" cy="1217.8" r="2.8" fill="#000"/>
<circle cx="510.2" cy="1216.9" r="2.8" fill="#000"/>
<circle cx="510.0" cy="1217.1" r="2.8" fill="#000"/>
<circle cx="509.9" cy="1221.4" r="2.8" fill="#000"/>
<line x1="458.2" y1="899.4" x2="458.2" y2="1227.0" stroke="#222" stroke-width="1.8"/>
<line x1="457.3" y1="1226.3" x2="670.0" y2="1226.3" stroke="#222" stroke-width="1.8"/>
<line x1="458.2" y1="1226.3" x2="458.2" y2="1234.0" stroke="#222" stroke-width="1.6"/>
<polygon points="458.58,1252.60 460.68,1252.60 460.68,1236.85 459.49,1236.85 458.96,1237.78 458.10,1238.74 457.02,1239.71 454.93,1241.04 454.93,1242.91 456.81,1241.97 458.58,1240.46" fill="#000"/>
<line x1="546.4" y1="1226.3" x2="546.4" y2="1234.0" stroke="#222" stroke-width="1.6"/>
<polygon points="540.66,1252.60 542.76,1252.60 542.76,1236.85 541.58,1236.85 541.04,1237.78 540.18,1238.74 539.11,1239.71 537.01,1241.04 537.01,1242.91 538.89,1241.97 540.66,1240.46" fill="#000"/>
<text x="546.40" y="1252.6" font-size="22">0</text>
<line x1="634.6" y1="1226.3" x2="634.6" y2="1234.0" stroke="#222" stroke-width="1.6"/>
<polygon points="622.75,1252.60 624.84,1252.60 624.84,1236.85 623.66,1236.85 623.12,1237.78 622.26,1238.74 621.19,1239.71 619.09,1241.04 619.09,1242.91 620.97,1241.97 622.75,1240.46" fill="#000"/>
<text x="628.48" y="1252.6" font-size="22">0</text>
<text x="640.72" y="1252.6" font-size="22">0</text>
<text transform="translate(360.3,1142.2) rotate(-90)" font-size="22" font-style="italic">Eptesicus fuscus</text><rect x="474.3" y="1281" width="19.3" height="19.5" fill="#e3e4e6" stroke="#1c1c1c" stroke-width="1.5"/><text x="495.8" y="1298" font-size="22">No Antagonist</text><rect x="474.3" y="1306" width="19.3" height="19.5" fill="#6397d1" stroke="#1c1c1c" stroke-width="1.5"/><text x="495.8" y="1323.7" font-size="22">DENV2 NS5</text><text x="445.7" y="1273.3" font-size="22.35">Relative IFN Signaling</text>
<defs><radialGradient id="gs" cx="0.42" cy="0.38" r="0.62"><stop offset="0" stop-color="#a2a2a2"/><stop offset="0.5" stop-color="#656565"/><stop offset="1" stop-color="#2e2e2e"/></radialGradient><radialGradient id="bs" cx="0.42" cy="0.38" r="0.62"><stop offset="0" stop-color="#555"/><stop offset="0.5" stop-color="#222"/><stop offset="1" stop-color="#0a0a0a"/></radialGradient><radialGradient id="gs2" cx="0.4" cy="0.36" r="0.65"><stop offset="0" stop-color="#8a8a8a"/><stop offset="0.5" stop-color="#5a5a5a"/><stop offset="1" stop-color="#3a3a3a"/></radialGradient><radialGradient id="bs2" cx="0.4" cy="0.36" r="0.65"><stop offset="0" stop-color="#444"/><stop offset="0.5" stop-color="#1e1e1e"/><stop offset="1" stop-color="#0c0c0c"/></radialGradient></defs>
<text x="5.5" y="1376.5" font-size="35" text-anchor="start" fill="#000" >e</text>
<clipPath id="boxL"><rect x="87.5" y="1358.5" width="248" height="247.5"/></clipPath>
<g clip-path="url(#boxL)">
<polygon points="80.0,1350.0 170.0,1350.0 170.0,1377.0 166.0,1392.0 168.0,1411.0 162.0,1426.0 152.0,1436.0 160.0,1446.0 164.0,1465.0 156.0,1478.0 140.0,1490.0 110.0,1503.0 80.0,1512.0" fill="#4a4a4a"/>
<circle cx="168.2" cy="1353.7" r="7.5" fill="url(#gs)"/>
<circle cx="98.4" cy="1352.7" r="6.7" fill="url(#gs)"/>
<circle cx="123.9" cy="1354.6" r="8.0" fill="url(#gs)"/>
<circle cx="105.3" cy="1353.6" r="7.3" fill="url(#gs)"/>
<circle cx="156.3" cy="1350.1" r="6.5" fill="url(#gs)"/>
<circle cx="89.3" cy="1356.3" r="8.4" fill="url(#gs)"/>
<circle cx="149.3" cy="1350.2" r="8.1" fill="url(#gs)"/>
<circle cx="83.6" cy="1359.8" r="6.7" fill="url(#gs)"/>
<circle cx="158.6" cy="1356.7" r="7.8" fill="url(#gs)"/>
<circle cx="120.1" cy="1359.8" r="6.4" fill="url(#gs)"/>
<circle cx="97.8" cy="1363.5" r="6.6" fill="url(#gs)"/>
<circle cx="104.3" cy="1364.1" r="6.8" fill="url(#gs)"/>
<circle cx="137.8" cy="1366.3" r="8.5" fill="url(#gs)"/>
<circle cx="128.7" cy="1361.7" r="6.2" fill="url(#gs)"/>
<circle cx="86.3" cy="1367.2" r="6.1" fill="url(#gs)"/>
<circle cx="151.4" cy="1365.2" r="6.8" fill="url(#gs)"/>
<circle cx="145.9" cy="1371.2" r="7.6" fill="url(#gs)"/>
<circle cx="163.4" cy="1365.4" r="6.2" fill="url(#gs)"/>
<circle cx="88.3" cy="1372.8" r="6.2" fill="url(#gs)"/>
<circle cx="163.3" cy="1371.0" r="7.9" fill="url(#gs)"/>
<circle cx="113.8" cy="1377.2" r="6.5" fill="url(#gs)"/>
<circle cx="81.7" cy="1372.0" r="7.1" fill="url(#gs)"/>
<circle cx="108.5" cy="1372.1" r="7.2" fill="url(#gs)"/>
<circle cx="127.3" cy="1375.5" r="8.1" fill="url(#gs)"/>
<circle cx="102.5" cy="1380.7" r="7.8" fill="url(#gs)"/>
<circle cx="135.0" cy="1375.7" r="7.9" fill="url(#gs)"/>
<circle cx="164.6" cy="1381.8" r="8.4" fill="url(#gs)"/>
<circle cx="144.3" cy="1379.0" r="6.7" fill="url(#gs)"/>
<circle cx="108.5" cy="1381.0" r="7.5" fill="url(#gs)"/>
<circle cx="82.1" cy="1381.4" r="6.6" fill="url(#gs)"/>
<circle cx="154.4" cy="1383.8" r="7.4" fill="url(#gs)"/>
<circle cx="139.9" cy="1382.2" r="7.1" fill="url(#gs)"/>
<circle cx="116.5" cy="1381.6" r="6.4" fill="url(#gs)"/>
<circle cx="94.4" cy="1383.1" r="7.6" fill="url(#gs)"/>
<circle cx="123.4" cy="1385.8" r="6.1" fill="url(#gs)"/>
<circle cx="131.6" cy="1382.6" r="7.3" fill="url(#gs)"/>
<circle cx="86.8" cy="1384.5" r="7.7" fill="url(#gs)"/>
<circle cx="90.6" cy="1389.9" r="6.3" fill="url(#gs)"/>
<circle cx="139.2" cy="1388.5" r="6.0" fill="url(#gs)"/>
<circle cx="81.3" cy="1389.7" r="6.1" fill="url(#gs)"/>
<circle cx="97.1" cy="1389.2" r="6.1" fill="url(#gs)"/>
<circle cx="145.4" cy="1392.0" r="6.2" fill="url(#gs)"/>
<circle cx="152.4" cy="1391.8" r="8.3" fill="url(#gs)"/>
<circle cx="162.8" cy="1391.4" r="6.0" fill="url(#gs)"/>
<circle cx="118.2" cy="1391.8" r="8.0" fill="url(#gs)"/>
<circle cx="100.7" cy="1396.8" r="6.2" fill="url(#gs)"/>
<circle cx="135.3" cy="1395.4" r="8.3" fill="url(#gs)"/>
<circle cx="87.4" cy="1399.2" r="7.8" fill="url(#gs)"/>
<circle cx="145.7" cy="1401.7" r="8.5" fill="url(#gs)"/>
<circle cx="109.6" cy="1398.0" r="6.2" fill="url(#gs)"/>
<circle cx="94.1" cy="1402.1" r="6.6" fill="url(#gs)"/>
<circle cx="152.3" cy="1399.3" r="8.2" fill="url(#gs)"/>
<circle cx="157.0" cy="1406.5" r="6.2" fill="url(#gs)"/>
<circle cx="114.7" cy="1403.7" r="7.0" fill="url(#gs)"/>
<circle cx="134.1" cy="1410.2" r="7.1" fill="url(#gs)"/>
<circle cx="122.5" cy="1410.2" r="8.0" fill="url(#gs)"/>
<circle cx="161.9" cy="1411.0" r="7.4" fill="url(#gs)"/>
<circle cx="102.3" cy="1408.6" r="6.9" fill="url(#gs)"/>
<circle cx="108.1" cy="1411.8" r="8.1" fill="url(#gs)"/>
<circle cx="81.4" cy="1414.9" r="7.7" fill="url(#gs)"/>
<circle cx="128.5" cy="1417.0" r="8.4" fill="url(#gs)"/>
<circle cx="89.6" cy="1411.2" r="7.3" fill="url(#gs)"/>
<circle cx="99.0" cy="1413.9" r="8.1" fill="url(#gs)"/>
<circle cx="149.0" cy="1414.9" r="8.1" fill="url(#gs)"/>
<circle cx="158.4" cy="1417.6" r="8.0" fill="url(#gs)"/>
<circle cx="121.8" cy="1421.4" r="8.1" fill="url(#gs)"/>
<circle cx="136.6" cy="1415.5" r="7.5" fill="url(#gs)"/>
<circle cx="113.8" cy="1417.0" r="7.3" fill="url(#gs)"/>
<circle cx="130.3" cy="1422.5" r="6.5" fill="url(#gs)"/>
<circle cx="90.5" cy="1418.2" r="6.5" fill="url(#gs)"/>
<circle cx="115.5" cy="1424.8" r="8.4" fill="url(#gs)"/>
<circle cx="139.6" cy="1424.1" r="6.7" fill="url(#gs)"/>
<circle cx="85.6" cy="1424.3" r="7.5" fill="url(#gs)"/>
<circle cx="91.7" cy="1423.5" r="7.6" fill="url(#gs)"/>
<circle cx="110.8" cy="1426.0" r="6.0" fill="url(#gs)"/>
<circle cx="134.1" cy="1427.9" r="6.6" fill="url(#gs)"/>
<circle cx="91.1" cy="1432.7" r="6.6" fill="url(#gs)"/>
<circle cx="129.7" cy="1433.4" r="7.4" fill="url(#gs)"/>
<circle cx="153.5" cy="1427.7" r="6.7" fill="url(#gs)"/>
<circle cx="142.9" cy="1430.6" r="7.5" fill="url(#gs)"/>
<circle cx="121.9" cy="1432.3" r="7.5" fill="url(#gs)"/>
<circle cx="111.7" cy="1431.1" r="6.4" fill="url(#gs)"/>
<circle cx="96.6" cy="1432.9" r="7.6" fill="url(#gs)"/>
<circle cx="137.5" cy="1435.8" r="8.1" fill="url(#gs)"/>
<circle cx="150.0" cy="1436.0" r="8.5" fill="url(#gs)"/>
<circle cx="100.6" cy="1440.6" r="8.1" fill="url(#gs)"/>
<circle cx="109.3" cy="1438.9" r="7.9" fill="url(#gs)"/>
<circle cx="81.4" cy="1435.6" r="6.1" fill="url(#gs)"/>
<circle cx="114.6" cy="1435.5" r="7.3" fill="url(#gs)"/>
<circle cx="104.0" cy="1436.6" r="6.4" fill="url(#gs)"/>
<circle cx="113.2" cy="1442.7" r="6.3" fill="url(#gs)"/>
<circle cx="129.0" cy="1441.9" r="8.4" fill="url(#gs)"/>
<circle cx="86.8" cy="1438.5" r="7.8" fill="url(#gs)"/>
<circle cx="153.5" cy="1447.8" r="6.3" fill="url(#gs)"/>
<circle cx="120.7" cy="1440.7" r="8.3" fill="url(#gs)"/>
<circle cx="88.1" cy="1444.4" r="6.6" fill="url(#gs)"/>
<circle cx="125.3" cy="1448.0" r="6.1" fill="url(#gs)"/>
<circle cx="159.4" cy="1447.8" r="7.1" fill="url(#gs)"/>
<circle cx="86.6" cy="1452.0" r="7.9" fill="url(#gs)"/>
<circle cx="144.6" cy="1446.4" r="6.6" fill="url(#gs)"/>
<circle cx="133.3" cy="1452.6" r="7.9" fill="url(#gs)"/>
<circle cx="120.2" cy="1452.1" r="7.6" fill="url(#gs)"/>
<circle cx="98.6" cy="1449.8" r="6.7" fill="url(#gs)"/>
<circle cx="105.7" cy="1456.1" r="7.4" fill="url(#gs)"/>
<circle cx="138.9" cy="1449.7" r="6.4" fill="url(#gs)"/>
<circle cx="112.0" cy="1453.5" r="7.6" fill="url(#gs)"/>
<circle cx="119.9" cy="1458.2" r="7.1" fill="url(#gs)"/>
<circle cx="126.7" cy="1453.7" r="7.2" fill="url(#gs)"/>
<circle cx="153.7" cy="1453.9" r="7.8" fill="url(#gs)"/>
<circle cx="139.1" cy="1462.0" r="7.5" fill="url(#gs)"/>
<circle cx="124.2" cy="1461.9" r="6.2" fill="url(#gs)"/>
<circle cx="147.1" cy="1455.1" r="6.6" fill="url(#gs)"/>
<circle cx="90.6" cy="1464.9" r="7.4" fill="url(#gs)"/>
<circle cx="111.7" cy="1461.0" r="8.3" fill="url(#gs)"/>
<circle cx="101.5" cy="1464.1" r="6.6" fill="url(#gs)"/>
<circle cx="131.9" cy="1462.9" r="6.8" fill="url(#gs)"/>
<circle cx="116.5" cy="1467.1" r="6.2" fill="url(#gs)"/>
<circle cx="161.9" cy="1463.6" r="8.4" fill="url(#gs)"/>
<circle cx="95.8" cy="1466.7" r="6.2" fill="url(#gs)"/>
<circle cx="81.2" cy="1463.6" r="8.1" fill="url(#gs)"/>
<circle cx="155.6" cy="1464.7" r="6.8" fill="url(#gs)"/>
<circle cx="87.5" cy="1471.5" r="6.1" fill="url(#gs)"/>
<circle cx="106.1" cy="1468.1" r="7.6" fill="url(#gs)"/>
<circle cx="99.8" cy="1474.0" r="7.3" fill="url(#gs)"/>
<circle cx="135.3" cy="1472.5" r="7.0" fill="url(#gs)"/>
<circle cx="94.1" cy="1472.3" r="7.0" fill="url(#gs)"/>
<circle cx="142.5" cy="1474.3" r="7.9" fill="url(#gs)"/>
<circle cx="88.2" cy="1481.2" r="7.7" fill="url(#gs)"/>
<circle cx="110.2" cy="1477.6" r="6.4" fill="url(#gs)"/>
<circle cx="146.7" cy="1481.3" r="8.3" fill="url(#gs)"/>
<circle cx="116.1" cy="1479.8" r="7.4" fill="url(#gs)"/>
<circle cx="129.2" cy="1477.7" r="6.2" fill="url(#gs)"/>
<circle cx="137.4" cy="1481.1" r="6.2" fill="url(#gs)"/>
<circle cx="82.2" cy="1484.4" r="6.6" fill="url(#gs)"/>
<circle cx="127.1" cy="1486.7" r="7.4" fill="url(#gs)"/>
<circle cx="88.7" cy="1491.8" r="6.2" fill="url(#gs)"/>
<circle cx="131.7" cy="1490.4" r="6.5" fill="url(#gs)"/>
<circle cx="112.6" cy="1494.3" r="8.5" fill="url(#gs)"/>
<circle cx="119.8" cy="1494.5" r="6.8" fill="url(#gs)"/>
<circle cx="109.6" cy="1503.1" r="7.4" fill="url(#gs)"/>
<circle cx="93.9" cy="1497.2" r="8.0" fill="url(#gs)"/>
<circle cx="87.8" cy="1501.1" r="7.8" fill="url(#gs)"/>
<circle cx="100.9" cy="1503.0" r="7.7" fill="url(#gs)"/>
<circle cx="91.2" cy="1507.7" r="6.3" fill="url(#gs)"/>
<circle cx="83.8" cy="1509.1" r="8.4" fill="url(#gs)"/>
<polygon points="80.0,1507.6 107.3,1503.9 129.7,1496.5 148.3,1483.4 161.3,1470.4 174.4,1466.7 191.1,1470.4 200.4,1481.6 207.9,1511.4 215.3,1530.0 241.4,1541.2 261.0,1552.3 265.0,1563.5 267.0,1576.0 286.0,1578.4 294.0,1585.8 292.0,1600.7 286.0,1612.0 80.0,1612.0" fill="#141414"/>
<circle cx="186.8" cy="1471.8" r="7.5" fill="url(#bs)"/>
<circle cx="175.5" cy="1470.7" r="7.7" fill="url(#bs)"/>
<circle cx="168.6" cy="1474.6" r="6.5" fill="url(#bs)"/>
<circle cx="162.0" cy="1477.3" r="7.7" fill="url(#bs)"/>
<circle cx="191.5" cy="1477.9" r="7.3" fill="url(#bs)"/>
<circle cx="175.3" cy="1478.2" r="6.6" fill="url(#bs)"/>
<circle cx="196.8" cy="1481.1" r="8.2" fill="url(#bs)"/>
<circle cx="179.2" cy="1483.9" r="6.2" fill="url(#bs)"/>
<circle cx="158.3" cy="1481.3" r="6.1" fill="url(#bs)"/>
<circle cx="184.5" cy="1484.2" r="6.8" fill="url(#bs)"/>
<circle cx="200.2" cy="1486.3" r="6.8" fill="url(#bs)"/>
<circle cx="159.2" cy="1487.5" r="7.0" fill="url(#bs)"/>
<circle cx="189.1" cy="1492.5" r="6.2" fill="url(#bs)"/>
<circle cx="168.1" cy="1485.9" r="8.2" fill="url(#bs)"/>
<circle cx="181.7" cy="1490.9" r="7.7" fill="url(#bs)"/>
<circle cx="145.7" cy="1493.3" r="6.3" fill="url(#bs)"/>
<circle cx="139.9" cy="1489.7" r="7.0" fill="url(#bs)"/>
<circle cx="201.2" cy="1491.5" r="6.4" fill="url(#bs)"/>
<circle cx="150.6" cy="1488.3" r="7.5" fill="url(#bs)"/>
<circle cx="161.7" cy="1492.3" r="6.3" fill="url(#bs)"/>
<circle cx="154.3" cy="1493.4" r="7.4" fill="url(#bs)"/>
<circle cx="196.1" cy="1495.2" r="6.7" fill="url(#bs)"/>
<circle cx="139.6" cy="1496.2" r="6.5" fill="url(#bs)"/>
<circle cx="184.7" cy="1498.8" r="7.5" fill="url(#bs)"/>
<circle cx="174.1" cy="1498.7" r="6.6" fill="url(#bs)"/>
<circle cx="128.9" cy="1502.2" r="7.1" fill="url(#bs)"/>
<circle cx="203.4" cy="1499.7" r="7.0" fill="url(#bs)"/>
<circle cx="162.3" cy="1500.1" r="7.5" fill="url(#bs)"/>
<circle cx="145.1" cy="1498.8" r="8.2" fill="url(#bs)"/>
<circle cx="148.8" cy="1504.4" r="8.1" fill="url(#bs)"/>
<circle cx="136.7" cy="1502.9" r="6.1" fill="url(#bs)"/>
<circle cx="112.1" cy="1503.5" r="7.2" fill="url(#bs)"/>
<circle cx="118.7" cy="1500.9" r="7.7" fill="url(#bs)"/>
<circle cx="194.3" cy="1501.1" r="6.6" fill="url(#bs)"/>
<circle cx="204.0" cy="1508.1" r="8.2" fill="url(#bs)"/>
<circle cx="89.1" cy="1508.3" r="7.8" fill="url(#bs)"/>
<circle cx="174.5" cy="1504.9" r="8.0" fill="url(#bs)"/>
<circle cx="192.5" cy="1506.8" r="6.7" fill="url(#bs)"/>
<circle cx="164.1" cy="1510.0" r="7.1" fill="url(#bs)"/>
<circle cx="157.6" cy="1506.6" r="6.0" fill="url(#bs)"/>
<circle cx="117.0" cy="1509.0" r="7.6" fill="url(#bs)"/>
<circle cx="138.8" cy="1509.0" r="6.6" fill="url(#bs)"/>
<circle cx="183.8" cy="1506.3" r="6.7" fill="url(#bs)"/>
<circle cx="129.0" cy="1510.4" r="8.3" fill="url(#bs)"/>
<circle cx="111.3" cy="1511.9" r="6.1" fill="url(#bs)"/>
<circle cx="148.5" cy="1510.8" r="6.5" fill="url(#bs)"/>
<circle cx="179.5" cy="1512.6" r="7.7" fill="url(#bs)"/>
<circle cx="189.5" cy="1516.6" r="8.0" fill="url(#bs)"/>
<circle cx="198.0" cy="1515.1" r="6.4" fill="url(#bs)"/>
<circle cx="151.8" cy="1517.1" r="6.0" fill="url(#bs)"/>
<circle cx="100.1" cy="1515.3" r="7.9" fill="url(#bs)"/>
<circle cx="107.3" cy="1517.9" r="6.6" fill="url(#bs)"/>
<circle cx="84.4" cy="1513.5" r="7.0" fill="url(#bs)"/>
<circle cx="204.6" cy="1513.8" r="6.9" fill="url(#bs)"/>
<circle cx="92.5" cy="1516.6" r="7.7" fill="url(#bs)"/>
<circle cx="176.7" cy="1518.3" r="7.2" fill="url(#bs)"/>
<circle cx="192.0" cy="1521.1" r="6.1" fill="url(#bs)"/>
<circle cx="137.5" cy="1519.2" r="6.4" fill="url(#bs)"/>
<circle cx="119.6" cy="1517.2" r="6.1" fill="url(#bs)"/>
<circle cx="159.3" cy="1518.5" r="8.3" fill="url(#bs)"/>
<circle cx="85.9" cy="1520.0" r="7.1" fill="url(#bs)"/>
<circle cx="147.8" cy="1520.3" r="6.8" fill="url(#bs)"/>
<circle cx="166.7" cy="1522.9" r="8.2" fill="url(#bs)"/>
<circle cx="111.7" cy="1523.3" r="7.6" fill="url(#bs)"/>
<circle cx="140.7" cy="1523.6" r="7.5" fill="url(#bs)"/>
<circle cx="128.5" cy="1519.6" r="6.6" fill="url(#bs)"/>
<circle cx="196.4" cy="1523.9" r="6.6" fill="url(#bs)"/>
<circle cx="93.1" cy="1526.4" r="6.9" fill="url(#bs)"/>
<circle cx="208.0" cy="1528.2" r="8.0" fill="url(#bs)"/>
<circle cx="187.6" cy="1525.3" r="6.8" fill="url(#bs)"/>
<circle cx="117.1" cy="1527.6" r="6.3" fill="url(#bs)"/>
<circle cx="133.9" cy="1527.8" r="6.9" fill="url(#bs)"/>
<circle cx="97.5" cy="1529.5" r="6.7" fill="url(#bs)"/>
<circle cx="126.6" cy="1526.9" r="8.5" fill="url(#bs)"/>
<circle cx="81.9" cy="1525.8" r="8.4" fill="url(#bs)"/>
<circle cx="178.9" cy="1525.0" r="7.6" fill="url(#bs)"/>
<circle cx="214.2" cy="1531.6" r="7.5" fill="url(#bs)"/>
<circle cx="158.7" cy="1529.1" r="7.2" fill="url(#bs)"/>
<circle cx="146.8" cy="1528.3" r="7.4" fill="url(#bs)"/>
<circle cx="153.2" cy="1528.1" r="6.4" fill="url(#bs)"/>
<circle cx="120.3" cy="1533.5" r="8.0" fill="url(#bs)"/>
<circle cx="86.7" cy="1529.5" r="6.9" fill="url(#bs)"/>
<circle cx="175.8" cy="1530.2" r="6.3" fill="url(#bs)"/>
<circle cx="196.1" cy="1536.9" r="6.9" fill="url(#bs)"/>
<circle cx="125.9" cy="1534.7" r="6.8" fill="url(#bs)"/>
<circle cx="169.3" cy="1537.3" r="6.2" fill="url(#bs)"/>
<circle cx="149.0" cy="1534.6" r="6.7" fill="url(#bs)"/>
<circle cx="233.5" cy="1538.4" r="6.1" fill="url(#bs)"/>
<circle cx="110.9" cy="1532.9" r="7.9" fill="url(#bs)"/>
<circle cx="213.0" cy="1538.0" r="7.4" fill="url(#bs)"/>
<circle cx="140.2" cy="1533.9" r="6.7" fill="url(#bs)"/>
<circle cx="225.5" cy="1534.9" r="6.3" fill="url(#bs)"/>
<circle cx="153.4" cy="1538.1" r="8.4" fill="url(#bs)"/>
<circle cx="177.8" cy="1540.3" r="8.4" fill="url(#bs)"/>
<circle cx="134.7" cy="1535.1" r="7.2" fill="url(#bs)"/>
<circle cx="91.7" cy="1535.5" r="6.0" fill="url(#bs)"/>
<circle cx="219.7" cy="1534.3" r="6.5" fill="url(#bs)"/>
<circle cx="105.6" cy="1534.8" r="6.0" fill="url(#bs)"/>
<circle cx="205.4" cy="1534.8" r="6.8" fill="url(#bs)"/>
<circle cx="83.8" cy="1538.8" r="7.1" fill="url(#bs)"/>
<circle cx="120.7" cy="1539.5" r="6.8" fill="url(#bs)"/>
<circle cx="163.5" cy="1540.0" r="7.2" fill="url(#bs)"/>
<circle cx="109.1" cy="1540.4" r="6.8" fill="url(#bs)"/>
<circle cx="186.5" cy="1536.7" r="7.6" fill="url(#bs)"/>
<circle cx="130.1" cy="1540.6" r="8.0" fill="url(#bs)"/>
<circle cx="146.3" cy="1541.4" r="6.0" fill="url(#bs)"/>
<circle cx="113.5" cy="1543.9" r="6.1" fill="url(#bs)"/>
<circle cx="202.6" cy="1541.6" r="6.1" fill="url(#bs)"/>
<circle cx="193.1" cy="1543.8" r="6.1" fill="url(#bs)"/>
<circle cx="233.5" cy="1543.3" r="6.0" fill="url(#bs)"/>
<circle cx="168.8" cy="1544.6" r="8.1" fill="url(#bs)"/>
<circle cx="183.1" cy="1541.1" r="6.4" fill="url(#bs)"/>
<circle cx="118.5" cy="1547.5" r="7.6" fill="url(#bs)"/>
<circle cx="98.9" cy="1541.1" r="6.7" fill="url(#bs)"/>
<circle cx="139.4" cy="1540.7" r="8.2" fill="url(#bs)"/>
<circle cx="198.6" cy="1544.7" r="7.8" fill="url(#bs)"/>
<circle cx="245.0" cy="1546.5" r="8.3" fill="url(#bs)"/>
<circle cx="213.6" cy="1548.2" r="8.1" fill="url(#bs)"/>
<circle cx="209.2" cy="1543.0" r="6.5" fill="url(#bs)"/>
<circle cx="226.4" cy="1542.3" r="8.4" fill="url(#bs)"/>
<circle cx="84.1" cy="1548.9" r="6.4" fill="url(#bs)"/>
<circle cx="147.9" cy="1548.2" r="7.5" fill="url(#bs)"/>
<circle cx="92.3" cy="1546.7" r="7.6" fill="url(#bs)"/>
<circle cx="221.4" cy="1546.6" r="7.3" fill="url(#bs)"/>
<circle cx="184.2" cy="1547.7" r="8.4" fill="url(#bs)"/>
<circle cx="176.7" cy="1547.8" r="7.1" fill="url(#bs)"/>
<circle cx="136.7" cy="1552.2" r="6.2" fill="url(#bs)"/>
<circle cx="134.2" cy="1546.9" r="6.6" fill="url(#bs)"/>
<circle cx="191.2" cy="1551.0" r="7.9" fill="url(#bs)"/>
<circle cx="103.7" cy="1548.4" r="8.3" fill="url(#bs)"/>
<circle cx="139.7" cy="1546.3" r="6.5" fill="url(#bs)"/>
<circle cx="111.2" cy="1549.4" r="6.2" fill="url(#bs)"/>
<circle cx="253.8" cy="1549.5" r="7.5" fill="url(#bs)"/>
<circle cx="122.6" cy="1551.1" r="6.6" fill="url(#bs)"/>
<circle cx="204.3" cy="1551.9" r="7.8" fill="url(#bs)"/>
<circle cx="111.1" cy="1554.7" r="7.2" fill="url(#bs)"/>
<circle cx="157.6" cy="1550.4" r="8.4" fill="url(#bs)"/>
<circle cx="232.9" cy="1549.9" r="8.2" fill="url(#bs)"/>
<circle cx="211.1" cy="1555.8" r="8.3" fill="url(#bs)"/>
<circle cx="217.7" cy="1554.8" r="6.9" fill="url(#bs)"/>
<circle cx="227.3" cy="1555.6" r="7.2" fill="url(#bs)"/>
<circle cx="167.0" cy="1555.7" r="8.2" fill="url(#bs)"/>
<circle cx="130.3" cy="1551.5" r="6.4" fill="url(#bs)"/>
<circle cx="127.7" cy="1556.7" r="6.4" fill="url(#bs)"/>
<circle cx="261.1" cy="1554.1" r="8.3" fill="url(#bs)"/>
<circle cx="239.1" cy="1554.1" r="7.1" fill="url(#bs)"/>
<circle cx="245.1" cy="1557.9" r="7.6" fill="url(#bs)"/>
<circle cx="175.4" cy="1554.6" r="6.1" fill="url(#bs)"/>
<circle cx="180.4" cy="1556.1" r="8.4" fill="url(#bs)"/>
<circle cx="115.7" cy="1561.0" r="7.6" fill="url(#bs)"/>
<circle cx="101.7" cy="1559.2" r="6.7" fill="url(#bs)"/>
<circle cx="89.7" cy="1554.4" r="7.2" fill="url(#bs)"/>
<circle cx="257.3" cy="1561.1" r="7.8" fill="url(#bs)"/>
<circle cx="147.3" cy="1557.0" r="7.3" fill="url(#bs)"/>
<circle cx="162.6" cy="1560.1" r="6.6" fill="url(#bs)"/>
<circle cx="235.3" cy="1563.5" r="6.4" fill="url(#bs)"/>
<circle cx="250.4" cy="1556.8" r="6.7" fill="url(#bs)"/>
<circle cx="139.8" cy="1560.2" r="6.2" fill="url(#bs)"/>
<circle cx="200.7" cy="1562.6" r="6.1" fill="url(#bs)"/>
<circle cx="232.8" cy="1559.1" r="6.0" fill="url(#bs)"/>
<circle cx="85.2" cy="1558.3" r="7.4" fill="url(#bs)"/>
<circle cx="194.4" cy="1562.6" r="8.3" fill="url(#bs)"/>
<circle cx="205.2" cy="1560.6" r="7.6" fill="url(#bs)"/>
<circle cx="100.7" cy="1566.6" r="6.9" fill="url(#bs)"/>
<circle cx="185.6" cy="1561.2" r="7.4" fill="url(#bs)"/>
<circle cx="251.1" cy="1565.0" r="8.1" fill="url(#bs)"/>
<circle cx="157.0" cy="1562.3" r="8.0" fill="url(#bs)"/>
<circle cx="122.2" cy="1563.8" r="7.1" fill="url(#bs)"/>
<circle cx="93.8" cy="1564.8" r="6.5" fill="url(#bs)"/>
<circle cx="209.9" cy="1565.8" r="8.5" fill="url(#bs)"/>
<circle cx="105.8" cy="1564.2" r="7.8" fill="url(#bs)"/>
<circle cx="131.0" cy="1561.8" r="6.7" fill="url(#bs)"/>
<circle cx="136.0" cy="1563.8" r="6.5" fill="url(#bs)"/>
<circle cx="177.0" cy="1563.4" r="7.0" fill="url(#bs)"/>
<circle cx="141.2" cy="1565.5" r="6.2" fill="url(#bs)"/>
<circle cx="148.4" cy="1563.3" r="8.3" fill="url(#bs)"/>
<circle cx="109.1" cy="1569.4" r="6.7" fill="url(#bs)"/>
<circle cx="227.5" cy="1563.6" r="8.4" fill="url(#bs)"/>
<circle cx="159.6" cy="1569.4" r="8.3" fill="url(#bs)"/>
<circle cx="219.0" cy="1565.7" r="7.5" fill="url(#bs)"/>
<circle cx="128.0" cy="1568.2" r="6.9" fill="url(#bs)"/>
<circle cx="264.9" cy="1571.4" r="6.6" fill="url(#bs)"/>
<circle cx="204.7" cy="1568.6" r="7.4" fill="url(#bs)"/>
<circle cx="154.1" cy="1568.9" r="6.6" fill="url(#bs)"/>
<circle cx="188.2" cy="1566.6" r="6.6" fill="url(#bs)"/>
<circle cx="87.5" cy="1568.2" r="7.4" fill="url(#bs)"/>
<circle cx="145.7" cy="1569.9" r="6.5" fill="url(#bs)"/>
<circle cx="170.0" cy="1569.4" r="7.6" fill="url(#bs)"/>
<circle cx="135.9" cy="1572.8" r="7.4" fill="url(#bs)"/>
<circle cx="243.9" cy="1571.8" r="8.3" fill="url(#bs)"/>
<circle cx="95.9" cy="1573.0" r="8.1" fill="url(#bs)"/>
<circle cx="125.2" cy="1574.7" r="7.4" fill="url(#bs)"/>
<circle cx="253.6" cy="1572.9" r="7.9" fill="url(#bs)"/>
<circle cx="234.0" cy="1572.3" r="6.8" fill="url(#bs)"/>
<circle cx="212.6" cy="1575.1" r="7.9" fill="url(#bs)"/>
<circle cx="257.9" cy="1577.0" r="7.3" fill="url(#bs)"/>
<circle cx="141.0" cy="1576.5" r="6.6" fill="url(#bs)"/>
<circle cx="117.0" cy="1573.7" r="6.5" fill="url(#bs)"/>
<circle cx="110.8" cy="1580.1" r="6.3" fill="url(#bs)"/>
<circle cx="199.1" cy="1573.2" r="8.2" fill="url(#bs)"/>
<circle cx="219.9" cy="1579.3" r="7.7" fill="url(#bs)"/>
<circle cx="192.2" cy="1576.8" r="6.4" fill="url(#bs)"/>
<circle cx="265.7" cy="1578.4" r="8.0" fill="url(#bs)"/>
<circle cx="228.0" cy="1573.7" r="6.9" fill="url(#bs)"/>
<circle cx="83.2" cy="1577.9" r="6.6" fill="url(#bs)"/>
<circle cx="117.2" cy="1580.0" r="6.4" fill="url(#bs)"/>
<circle cx="178.8" cy="1575.8" r="7.0" fill="url(#bs)"/>
<circle cx="164.2" cy="1581.8" r="6.0" fill="url(#bs)"/>
<circle cx="196.3" cy="1581.7" r="6.6" fill="url(#bs)"/>
<circle cx="105.9" cy="1577.8" r="7.5" fill="url(#bs)"/>
<circle cx="272.7" cy="1581.6" r="6.5" fill="url(#bs)"/>
<circle cx="286.0" cy="1579.2" r="6.8" fill="url(#bs)"/>
<circle cx="96.0" cy="1580.2" r="7.1" fill="url(#bs)"/>
<circle cx="174.3" cy="1579.0" r="8.0" fill="url(#bs)"/>
<circle cx="184.8" cy="1577.3" r="8.5" fill="url(#bs)"/>
<circle cx="151.4" cy="1577.0" r="8.1" fill="url(#bs)"/>
<circle cx="188.6" cy="1582.4" r="7.0" fill="url(#bs)"/>
<circle cx="146.2" cy="1583.0" r="8.1" fill="url(#bs)"/>
<circle cx="129.9" cy="1579.8" r="7.9" fill="url(#bs)"/>
<circle cx="209.7" cy="1584.1" r="8.4" fill="url(#bs)"/>
<circle cx="234.9" cy="1581.6" r="6.2" fill="url(#bs)"/>
<circle cx="227.8" cy="1587.4" r="8.0" fill="url(#bs)"/>
<circle cx="240.5" cy="1580.7" r="7.7" fill="url(#bs)"/>
<circle cx="116.3" cy="1586.8" r="7.2" fill="url(#bs)"/>
<circle cx="86.0" cy="1585.7" r="8.1" fill="url(#bs)"/>
<circle cx="168.7" cy="1584.0" r="7.0" fill="url(#bs)"/>
<circle cx="156.1" cy="1581.6" r="7.8" fill="url(#bs)"/>
<circle cx="286.3" cy="1586.5" r="6.4" fill="url(#bs)"/>
<circle cx="164.1" cy="1589.2" r="7.0" fill="url(#bs)"/>
<circle cx="257.8" cy="1583.1" r="6.3" fill="url(#bs)"/>
<circle cx="133.7" cy="1583.4" r="6.2" fill="url(#bs)"/>
<circle cx="120.6" cy="1590.1" r="6.5" fill="url(#bs)"/>
<circle cx="181.8" cy="1585.6" r="6.0" fill="url(#bs)"/>
<circle cx="174.8" cy="1587.8" r="7.8" fill="url(#bs)"/>
<circle cx="251.9" cy="1587.0" r="7.9" fill="url(#bs)"/>
<circle cx="186.0" cy="1589.3" r="6.0" fill="url(#bs)"/>
<circle cx="217.6" cy="1589.9" r="6.1" fill="url(#bs)"/>
<circle cx="272.1" cy="1592.4" r="7.3" fill="url(#bs)"/>
<circle cx="208.4" cy="1592.0" r="6.2" fill="url(#bs)"/>
<circle cx="202.9" cy="1589.1" r="6.9" fill="url(#bs)"/>
<circle cx="130.1" cy="1588.8" r="7.6" fill="url(#bs)"/>
<circle cx="141.3" cy="1590.9" r="7.7" fill="url(#bs)"/>
<circle cx="194.8" cy="1592.5" r="6.5" fill="url(#bs)"/>
<circle cx="280.9" cy="1592.3" r="8.5" fill="url(#bs)"/>
<circle cx="259.1" cy="1589.1" r="7.8" fill="url(#bs)"/>
<circle cx="90.6" cy="1588.1" r="6.2" fill="url(#bs)"/>
<circle cx="242.0" cy="1594.9" r="8.3" fill="url(#bs)"/>
<circle cx="104.4" cy="1588.4" r="7.7" fill="url(#bs)"/>
<circle cx="87.6" cy="1592.0" r="7.3" fill="url(#bs)"/>
<circle cx="114.8" cy="1592.6" r="8.2" fill="url(#bs)"/>
<circle cx="130.2" cy="1594.8" r="6.4" fill="url(#bs)"/>
<circle cx="124.0" cy="1594.3" r="8.4" fill="url(#bs)"/>
<circle cx="96.3" cy="1590.8" r="8.4" fill="url(#bs)"/>
<circle cx="290.2" cy="1593.3" r="6.8" fill="url(#bs)"/>
<circle cx="181.3" cy="1594.5" r="7.1" fill="url(#bs)"/>
<circle cx="139.8" cy="1598.2" r="6.8" fill="url(#bs)"/>
<circle cx="221.7" cy="1595.2" r="7.5" fill="url(#bs)"/>
<circle cx="95.5" cy="1598.5" r="7.4" fill="url(#bs)"/>
<circle cx="257.5" cy="1594.5" r="7.0" fill="url(#bs)"/>
<circle cx="146.2" cy="1593.4" r="6.2" fill="url(#bs)"/>
<circle cx="193.6" cy="1599.2" r="8.5" fill="url(#bs)"/>
<circle cx="154.3" cy="1596.3" r="7.4" fill="url(#bs)"/>
<circle cx="174.1" cy="1595.5" r="8.4" fill="url(#bs)"/>
<circle cx="229.1" cy="1595.4" r="6.8" fill="url(#bs)"/>
<circle cx="203.5" cy="1596.0" r="8.5" fill="url(#bs)"/>
<circle cx="211.9" cy="1595.7" r="8.1" fill="url(#bs)"/>
<circle cx="132.2" cy="1600.3" r="6.1" fill="url(#bs)"/>
<circle cx="160.5" cy="1597.2" r="8.4" fill="url(#bs)"/>
<circle cx="272.6" cy="1598.9" r="7.2" fill="url(#bs)"/>
<circle cx="102.3" cy="1595.3" r="8.3" fill="url(#bs)"/>
<circle cx="81.4" cy="1602.8" r="7.1" fill="url(#bs)"/>
<circle cx="82.4" cy="1595.4" r="7.2" fill="url(#bs)"/>
<circle cx="250.9" cy="1600.6" r="6.8" fill="url(#bs)"/>
<circle cx="278.4" cy="1599.1" r="6.7" fill="url(#bs)"/>
<circle cx="187.2" cy="1598.0" r="7.0" fill="url(#bs)"/>
<circle cx="178.8" cy="1602.2" r="6.9" fill="url(#bs)"/>
<circle cx="91.6" cy="1602.8" r="6.9" fill="url(#bs)"/>
<circle cx="289.2" cy="1598.7" r="7.1" fill="url(#bs)"/>
<circle cx="217.0" cy="1605.1" r="6.4" fill="url(#bs)"/>
<circle cx="223.5" cy="1600.2" r="6.5" fill="url(#bs)"/>
<circle cx="205.3" cy="1603.4" r="8.4" fill="url(#bs)"/>
<circle cx="277.6" cy="1604.6" r="7.5" fill="url(#bs)"/>
<circle cx="232.9" cy="1604.1" r="6.5" fill="url(#bs)"/>
<circle cx="114.3" cy="1606.0" r="6.8" fill="url(#bs)"/>
<circle cx="194.9" cy="1605.1" r="6.5" fill="url(#bs)"/>
<circle cx="258.3" cy="1604.1" r="6.3" fill="url(#bs)"/>
<circle cx="157.9" cy="1604.9" r="7.8" fill="url(#bs)"/>
<circle cx="132.8" cy="1607.8" r="7.4" fill="url(#bs)"/>
<circle cx="104.1" cy="1609.1" r="7.9" fill="url(#bs)"/>
<circle cx="288.9" cy="1604.7" r="8.3" fill="url(#bs)"/>
<circle cx="174.4" cy="1605.4" r="6.7" fill="url(#bs)"/>
<circle cx="102.9" cy="1602.3" r="6.6" fill="url(#bs)"/>
<circle cx="272.0" cy="1610.2" r="6.1" fill="url(#bs)"/>
<circle cx="272.2" cy="1604.7" r="6.1" fill="url(#bs)"/>
<circle cx="264.0" cy="1603.9" r="8.2" fill="url(#bs)"/>
<circle cx="126.3" cy="1607.7" r="6.1" fill="url(#bs)"/>
<circle cx="238.0" cy="1610.7" r="8.2" fill="url(#bs)"/>
<circle cx="279.7" cy="1610.4" r="6.1" fill="url(#bs)"/>
<circle cx="253.1" cy="1608.5" r="6.7" fill="url(#bs)"/>
<circle cx="146.4" cy="1605.3" r="7.4" fill="url(#bs)"/>
<circle cx="165.2" cy="1611.1" r="6.5" fill="url(#bs)"/>
<circle cx="189.5" cy="1611.1" r="6.2" fill="url(#bs)"/>
<circle cx="183.5" cy="1611.6" r="6.5" fill="url(#bs)"/>
<circle cx="243.8" cy="1609.2" r="7.0" fill="url(#bs)"/>
<circle cx="80.6" cy="1610.1" r="8.1" fill="url(#bs)"/>
<circle cx="225.4" cy="1609.6" r="8.3" fill="url(#bs)"/>
<circle cx="175.7" cy="1611.0" r="7.7" fill="url(#bs)"/>
<circle cx="152.1" cy="1609.3" r="7.5" fill="url(#bs)"/>
<circle cx="258.6" cy="1609.1" r="7.5" fill="url(#bs)"/>
<circle cx="195.8" cy="1611.6" r="7.3" fill="url(#bs)"/>
<circle cx="264.6" cy="1611.8" r="8.0" fill="url(#bs)"/>
<g fill="none" stroke="#a9acd9" stroke-width="4.5"><ellipse cx="190" cy="1384" rx="11.5" ry="12"/><ellipse cx="245.5" cy="1384" rx="12" ry="9.5"/></g>
<g fill="none" stroke="#7f83bd" stroke-width="1.5"><ellipse cx="190" cy="1384" rx="8.5" ry="9"/><ellipse cx="245.5" cy="1384" rx="9" ry="7"/></g>
<path d="M218 1398 c6 -8 18 -12 28 -8 c8 4 10 12 6 20 l-8 2 c2 -6 0 -10 -6 -12 c-6 -2 -12 2 -14 8 l4 12 l-6 2 z" fill="#a9acd9"/>
<path d="M180 1424 c6 -8 16 -10 26 -8 c8 2 10 8 8 14 l-4 10 c-2 -6 -6 -10 -12 -10 c-6 0 -10 4 -10 10 l-6 4 c-4 -6 -4 -14 -2 -20 z" fill="#a9acd9"/>
<path d="M188 1430 c2 -6 8 -8 12 -6 M196 1438 c2 -4 6 -6 10 -4" stroke="#7f83bd" stroke-width="2" fill="none"/>
<g fill="none" stroke="#a9acd9" stroke-width="2"><path d="M206 1388 c6 4 10 10 12 16 M202 1396 c8 -2 14 2 16 8 M213 1420 c4 -4 6 -8 10 -10 M218 1416 c2 8 6 14 8 20"/><path d="M242 1418 c6 6 8 14 12 20 c4 -6 8 -12 10 -18 M230 1430 c2 6 0 12 -2 18 M224 1442 c6 -4 10 -10 12 -14"/><path d="M206 1376 l8 3 M222 1372 l-4 6"/></g>
<path d="M334 1422 c-12 -6 -22 2 -22 10 c0 10 10 16 22 12" fill="none" stroke="#2e2e8c" stroke-width="6"/>
<path d="M282 1448 c-6 4 -6 12 2 14 c8 4 4 16 10 24 c6 6 18 4 24 12 c6 8 8 18 16 22" stroke="#2e2e8c" stroke-width="2" fill="none"/>
<path d="M250 1498 c10 -14 24 -16 36 -10 c10 4 20 2 30 -4" stroke="#2e2e8c" stroke-width="2" fill="none"/>
<polyline points="182.8,1502.7 183.3,1503.6 183.8,1505.2 184.3,1507.3 184.7,1509.7 185.1,1512.5 185.5,1515.3 186.0,1518.1 186.4,1520.7 186.8,1523.0 187.3,1524.9 187.8,1526.1 188.4,1526.8 189.0,1526.8" fill="none" stroke="#0c4f9e" stroke-width="3.0" stroke-linecap="round"/>
<polyline points="198.3,1503.5 198.9,1504.0 199.4,1505.1 199.9,1506.9 200.4,1509.1 200.8,1511.7 201.2,1514.4 201.6,1517.3 202.1,1520.1 202.5,1522.6 203.0,1524.7 203.5,1526.4 204.0,1527.5 204.6,1527.9 205.2,1527.7" fill="none" stroke="#0c4f9e" stroke-width="3.0" stroke-linecap="round"/>
<polyline points="214.5,1504.6 215.0,1505.3 215.6,1506.7 216.0,1508.6 216.5,1511.0 216.9,1513.6 217.3,1516.4 217.7,1519.3 218.2,1522.0 218.6,1524.4 219.1,1526.4 219.6,1527.9 220.1,1528.7 220.7,1528.9" fill="none" stroke="#0c4f9e" stroke-width="3.0" stroke-linecap="round"/>
<polyline points="230.6,1505.8 231.2,1506.8 231.7,1508.3 232.2,1510.4 232.6,1512.9 233.0,1515.6 233.4,1518.4 233.9,1521.2 234.3,1523.9 234.7,1526.2 235.2,1528.0 235.7,1529.3 236.3,1529.9 236.9,1529.9" fill="none" stroke="#0c4f9e" stroke-width="3.0" stroke-linecap="round"/>
<polyline points="246.2,1506.6 246.8,1507.1 247.3,1508.3 247.8,1510.0 248.3,1512.2 248.7,1514.8 249.1,1517.6 249.5,1520.4 250.0,1523.2 250.4,1525.7 250.9,1527.9 251.4,1529.5 251.9,1530.6 252.5,1531.0 253.1,1530.8" fill="none" stroke="#0c4f9e" stroke-width="3.0" stroke-linecap="round"/>
<polyline points="262.4,1507.7 262.9,1508.5 263.5,1509.8 263.9,1511.7 264.4,1514.1 264.8,1516.7 265.2,1519.6 265.6,1522.4 266.1,1525.1 266.5,1527.5 267.0,1529.5" fill="none" stroke="#0c4f9e" stroke-width="3.0" stroke-linecap="round"/>
<polygon points="182.0,1520.9 183.1,1518.4 184.1,1515.7 184.9,1512.9 185.4,1510.2 185.8,1507.8 186.0,1505.7 185.9,1504.0 185.5,1503.0 184.2,1502.5 184.2,1502.8 181.3,1502.6 180.1,1502.2 177.6,1502.5 175.9,1503.4 174.4,1504.9 173.1,1506.9 171.9,1509.4 170.9,1512.0 170.2,1514.8 169.5,1517.5 169.1,1520.0" fill="#1c7bd8"/>
<polyline points="177.1,1515.3 177.9,1512.5 178.7,1509.8 179.4,1507.4 180.2,1505.3 180.9,1503.7 181.5,1502.7" fill="none" stroke="#5aaaf0" stroke-width="3.5" opacity="0.7"/>
<polygon points="192.1,1527.0 194.1,1526.4 195.7,1525.2 197.1,1523.4 198.4,1521.1 199.4,1518.6 200.3,1515.8 201.0,1513.1 201.6,1510.4 201.9,1508.1 201.9,1506.1 201.7,1504.7 201.2,1503.8 199.8,1503.5 196.8,1503.4 194.3,1503.4 192.4,1504.1 190.8,1505.4 189.5,1507.3 188.3,1509.6 187.2,1512.2 186.4,1514.9 185.7,1517.7 185.2,1520.3 184.9,1522.6 184.9,1524.5 185.2,1525.8 185.8,1526.6" fill="#1c7bd8"/>
<polyline points="191.0,1523.0 191.8,1520.7 192.6,1518.1 193.3,1515.4 194.1,1512.6 194.9,1510.0 195.7,1507.7 196.4,1505.8" fill="none" stroke="#5aaaf0" stroke-width="3.5" opacity="0.7"/>
<polygon points="208.8,1527.9 210.7,1527.1 212.2,1525.7 213.5,1523.7 214.7,1521.4 215.7,1518.7 216.6,1516.0 217.2,1513.2 217.6,1510.6 217.9,1508.4 217.9,1506.6 217.6,1505.4 216.8,1504.7 216.0,1504.7 213.0,1504.5 211.0,1504.3 208.9,1504.8 207.3,1505.9 205.9,1507.6 204.6,1509.8 203.5,1512.3 202.6,1515.0 201.9,1517.8 201.3,1520.5 201.0,1522.9 200.9,1524.9 201.0,1526.5 201.5,1527.4" fill="#1c7bd8"/>
<polyline points="207.3,1523.3 208.0,1520.9 208.8,1518.3 209.6,1515.5 210.4,1512.8 211.1,1510.2 211.9,1508.0 212.6,1506.3" fill="none" stroke="#5aaaf0" stroke-width="3.5" opacity="0.7"/>
<polygon points="223.2,1529.1 225.5,1528.7 227.2,1527.7 228.6,1526.1 229.9,1524.0 231.0,1521.5 232.0,1518.8 232.8,1516.1 233.3,1513.4 233.7,1510.9 233.9,1508.8 233.8,1507.2 233.4,1506.1 232.1,1505.6 232.1,1505.9 229.2,1505.7 228.0,1505.4 225.5,1505.6 223.8,1506.5 222.3,1508.0 221.0,1510.1 219.8,1512.5 218.8,1515.2 218.0,1517.9 217.4,1520.7 217.0,1523.2 216.8,1525.3 216.9,1527.0 217.3,1528.2 218.2,1528.8" fill="#1c7bd8"/>
<polyline points="222.7,1525.7 223.5,1523.6 224.2,1521.1 225.0,1518.4 225.8,1515.6 226.6,1512.9 227.3,1510.5 228.1,1508.4 228.8,1506.8" fill="none" stroke="#5aaaf0" stroke-width="3.5" opacity="0.7"/>
<polygon points="240.0,1530.1 242.0,1529.5 243.6,1528.3 245.0,1526.5 246.3,1524.3 247.3,1521.7 248.2,1519.0 248.9,1516.2 249.4,1513.6 249.8,1511.2 249.8,1509.2 249.6,1507.8 249.1,1506.9 247.7,1506.7 244.7,1506.5 242.2,1506.5 240.3,1507.2 238.7,1508.5 237.3,1510.4 236.1,1512.7 235.1,1515.3 234.3,1518.1 233.6,1520.8 233.1,1523.4 232.8,1525.7 232.8,1527.6 233.1,1528.9 233.7,1529.7" fill="#1c7bd8"/>
<polyline points="238.9,1526.1 239.7,1523.8 240.5,1521.3 241.2,1518.5 242.0,1515.7 242.8,1513.1 243.6,1510.8 244.3,1508.9" fill="none" stroke="#5aaaf0" stroke-width="3.5" opacity="0.7"/>
<polygon points="256.7,1531.0 258.6,1530.2 260.1,1528.8 261.4,1526.8 262.6,1524.5 263.6,1521.8 264.5,1519.1 265.1,1516.3 265.5,1513.8 265.8,1511.5 265.8,1509.7 265.5,1508.5 264.7,1507.8 263.9,1507.8 260.9,1507.6 258.9,1507.4 256.8,1507.9 255.2,1509.0 253.8,1510.7 252.5,1512.9 251.4,1515.4 250.5,1518.2 249.8,1520.9 249.2,1523.6 248.9,1526.0 248.8,1528.1 248.9,1529.6 249.4,1530.5" fill="#1c7bd8"/>
<polyline points="255.2,1526.4 255.9,1524.0 256.7,1521.4 257.5,1518.6 258.3,1515.9 259.0,1513.3 259.8,1511.1 260.5,1509.4" fill="none" stroke="#5aaaf0" stroke-width="3.5" opacity="0.7"/>
<polyline points="88.4,1438.4 89.0,1438.9 89.6,1440.0 90.1,1441.6 90.6,1443.7 91.1,1446.2 91.5,1449.0 92.0,1451.9 92.4,1454.8 92.9,1457.5 93.4,1459.9 93.9,1462.0 94.4,1463.5 94.9,1464.5 95.5,1464.8" fill="none" stroke="#0c4f9e" stroke-width="3.0" stroke-linecap="round"/>
<polyline points="105.8,1439.5 106.4,1440.4 106.9,1441.8 107.4,1443.8 107.9,1446.2 108.3,1448.9 108.8,1451.8 109.3,1454.7 109.7,1457.5 110.2,1460.0 110.7,1462.2 111.2,1463.9 111.7,1465.1 112.3,1465.6 112.9,1465.5" fill="none" stroke="#0c4f9e" stroke-width="3.0" stroke-linecap="round"/>
<polyline points="122.6,1440.2 123.2,1440.9 123.7,1442.1 124.2,1444.0 124.7,1446.2 125.2,1448.8 125.6,1451.7 126.1,1454.6 126.5,1457.4 127.0,1460.0 127.5,1462.4 128.0,1464.2 128.5,1465.6 129.1,1466.3 129.7,1466.5" fill="none" stroke="#0c4f9e" stroke-width="3.0" stroke-linecap="round"/>
<polyline points="139.4,1441.0 140.0,1441.4 140.5,1442.5 141.0,1444.2 141.5,1446.3 142.0,1448.8 142.5,1451.5 142.9,1454.4 143.4,1457.3 143.8,1460.0 144.3,1462.5 144.8,1464.5 145.3,1466.0 145.9,1467.0 146.5,1467.3" fill="none" stroke="#0c4f9e" stroke-width="3.0" stroke-linecap="round"/>
<polyline points="156.7,1442.1 157.3,1442.9 157.8,1444.4 158.3,1446.4 158.8,1448.8 159.3,1451.5 159.7,1454.3 160.2,1457.2 160.7,1460.0 161.1,1462.6 161.6,1464.7 162.1,1466.4 162.7,1467.6 163.2,1468.1 163.9,1468.1" fill="none" stroke="#0c4f9e" stroke-width="3.0" stroke-linecap="round"/>
<polyline points="173.5,1442.7 174.1,1443.4 174.6,1444.7 175.1,1446.5 175.6,1448.8 176.1,1451.4 176.6,1454.2 177.0,1457.1 177.5,1459.9 177.9,1462.6 178.4,1464.9 178.9,1466.8 179.5,1468.1 180.0,1468.9 180.6,1469.0" fill="none" stroke="#0c4f9e" stroke-width="3.0" stroke-linecap="round"/>
<polyline points="190.3,1443.5 190.9,1444.0 191.4,1445.1 192.0,1446.7 192.4,1448.8 192.9,1451.3 193.4,1454.1 193.8,1457.0 194.3,1459.9 194.8,1462.6 195.2,1465.0 195.7,1467.1 196.3,1468.6 196.8,1469.6 197.4,1469.9" fill="none" stroke="#0c4f9e" stroke-width="3.0" stroke-linecap="round"/>
<polyline points="208.8,1445.4 209.3,1446.3 209.7,1447.8 210.0,1449.8 210.2,1452.2 210.4,1455.0 210.6,1457.9 210.8,1460.8 211.0,1463.6 211.2,1466.2 211.5,1468.4 211.9,1470.2 212.3,1471.4 212.8,1472.0 213.4,1471.9" fill="none" stroke="#0c4f9e" stroke-width="3.0" stroke-linecap="round"/>
<polyline points="225.5,1447.6 226.0,1448.4 226.4,1449.7 226.7,1451.5 227.0,1453.8 227.2,1456.5 227.4,1459.3 227.6,1462.3 227.8,1465.1 228.0,1467.8 228.3,1470.2 228.6,1472.1 229.0,1473.5 229.5,1474.3 230.1,1474.4" fill="none" stroke="#0c4f9e" stroke-width="3.0" stroke-linecap="round"/>
<polyline points="242.1,1450.0 242.6,1450.5 243.1,1451.6 243.4,1453.3 243.7,1455.5 244.0,1458.0 244.2,1460.8 244.3,1463.7 244.5,1466.6 244.7,1469.4 245.0,1471.9 245.3,1473.9 245.7,1475.5 246.1,1476.5 246.7,1476.9" fill="none" stroke="#0c4f9e" stroke-width="3.0" stroke-linecap="round"/>
<polyline points="259.3,1452.7 259.8,1453.6 260.1,1455.1 260.5,1457.1 260.7,1459.6 260.9,1462.3 261.1,1465.2 261.3,1468.1 261.5,1470.9 261.7,1473.5 262.0,1475.7 262.4,1477.5 262.8,1478.7 263.3,1479.3 263.9,1479.2" fill="none" stroke="#0c4f9e" stroke-width="3.0" stroke-linecap="round"/>
<polyline points="275.9,1454.9 276.4,1455.7 276.8,1457.0 277.2,1458.8 277.5,1461.1 277.7,1463.8 277.9,1466.6 278.1,1469.6 278.2,1472.4 278.5,1475.1 278.7,1477.5 279.1,1479.4 279.5,1480.8 280.0,1481.6 280.5,1481.8" fill="none" stroke="#0c4f9e" stroke-width="3.0" stroke-linecap="round"/>
<polyline points="292.6,1457.3 293.1,1457.8 293.5,1458.9 293.9,1460.6 294.2,1462.8 294.4,1465.3 294.6,1468.1 294.8,1471.0 295.0,1473.9 295.2,1476.7 295.5,1479.2 295.8,1481.2 296.1,1482.8 296.6,1483.8 297.2,1484.2" fill="none" stroke="#0c4f9e" stroke-width="3.0" stroke-linecap="round"/>
<polyline points="309.8,1460.0 310.2,1460.9 310.6,1462.4 310.9,1464.4 311.2,1466.9 311.4,1469.6 311.6,1472.5 311.8,1475.4 312.0,1478.2 312.2,1480.8 312.5,1483.0 312.8,1484.8 313.3,1486.0 313.8,1486.6 314.4,1486.6" fill="none" stroke="#0c4f9e" stroke-width="3.0" stroke-linecap="round"/>
<polyline points="326.4,1462.3 326.9,1463.0 327.3,1464.3 327.7,1466.2 327.9,1468.5 328.2,1471.1 328.3,1473.9 328.5,1476.9 328.7,1479.8 328.9,1482.4 329.2,1484.8 329.5,1486.7 329.9,1488.1 330.4,1488.9 331.0,1489.1" fill="none" stroke="#0c4f9e" stroke-width="3.0" stroke-linecap="round"/>
<polyline points="343.0,1464.6 343.6,1465.1 344.0,1466.2 344.4,1467.9 344.7,1470.1 344.9,1472.6 345.1,1475.4" fill="none" stroke="#0c4f9e" stroke-width="3.0" stroke-linecap="round"/>
<polygon points="83.6,1463.6 85.3,1462.6 86.8,1460.9 88.0,1458.8 89.1,1456.3 90.1,1453.6 90.9,1450.8 91.5,1448.0 91.9,1445.3 92.1,1443.0 92.2,1441.0 92.0,1439.6 91.4,1438.8 89.9,1438.5 86.9,1438.3 84.3,1438.4 82.4,1439.1 80.9,1440.5 79.5,1442.3 78.3,1444.6 77.3,1447.2 76.4,1450.0 75.7,1452.9 75.2,1455.6 74.8,1458.1 74.7,1460.3 74.8,1462.0 75.1,1463.2" fill="#1c7bd8"/>
<polyline points="81.4,1458.5 82.2,1456.0 82.9,1453.2 83.6,1450.4 84.4,1447.6 85.1,1445.0 85.8,1442.7 86.5,1440.8" fill="none" stroke="#5aaaf0" stroke-width="3.6" opacity="0.7"/>
<polygon points="97.2,1464.9 100.0,1464.7 101.8,1463.8 103.3,1462.4 104.6,1460.4 105.8,1458.0 106.8,1455.4 107.6,1452.6 108.3,1449.7 108.8,1447.0 109.1,1444.6 109.2,1442.5 109.0,1440.9 108.6,1439.8 107.5,1439.4 107.3,1439.6 104.3,1439.4 103.0,1439.1 100.6,1439.4 98.9,1440.4 97.4,1441.9 96.1,1443.9 94.9,1446.3 93.9,1449.0 93.1,1451.8 92.5,1454.7 92.0,1457.4 91.7,1459.8 91.7,1461.8 91.8,1463.3 92.3,1464.3 93.8,1464.7" fill="#1c7bd8"/>
<polyline points="98.2,1460.1 98.9,1457.7 99.6,1455.0 100.4,1452.2 101.1,1449.4 101.8,1446.7 102.6,1444.2 103.3,1442.2 103.9,1440.6" fill="none" stroke="#5aaaf0" stroke-width="3.6" opacity="0.7"/>
<polygon points="116.3,1465.7 118.2,1465.0 119.8,1463.8 121.2,1462.0 122.4,1459.7 123.4,1457.1 124.3,1454.4 125.0,1451.5 125.6,1448.8 126.0,1446.2 126.1,1444.0 126.1,1442.2 125.8,1441.0 125.0,1440.3 124.1,1440.3 121.1,1440.1 119.0,1440.0 117.0,1440.5 115.3,1441.7 113.9,1443.4 112.6,1445.5 111.6,1448.0 110.6,1450.8 109.9,1453.6 109.3,1456.4 108.9,1459.0 108.7,1461.3 108.7,1463.2 108.9,1464.6 109.6,1465.3" fill="#1c7bd8"/>
<polyline points="114.9,1461.6 115.6,1459.4 116.4,1456.8 117.1,1454.0 117.8,1451.2 118.6,1448.4 119.3,1445.9 120.0,1443.7 120.7,1441.9" fill="none" stroke="#5aaaf0" stroke-width="3.6" opacity="0.7"/>
<polygon points="132.4,1466.6 134.6,1466.2 136.3,1465.1 137.7,1463.5 139.0,1461.4 140.1,1458.9 141.0,1456.2 141.8,1453.3 142.4,1450.5 142.8,1447.9 143.1,1445.5 143.1,1443.6 142.9,1442.2 142.3,1441.3 140.9,1441.0 137.9,1440.9 135.2,1441.0 133.4,1441.7 131.8,1443.0 130.4,1444.9 129.2,1447.2 128.2,1449.8 127.3,1452.6 126.6,1455.4 126.1,1458.2 125.8,1460.7 125.6,1462.9 125.7,1464.6 126.1,1465.7 126.9,1466.3" fill="#1c7bd8"/>
<polyline points="131.7,1463.2 132.4,1461.0 133.1,1458.5 133.8,1455.8 134.6,1453.0 135.3,1450.1 136.0,1447.5 136.8,1445.2 137.5,1443.3" fill="none" stroke="#5aaaf0" stroke-width="3.6" opacity="0.7"/>
<polygon points="148.2,1467.4 150.9,1467.2 152.7,1466.4 154.2,1464.9 155.5,1463.0 156.7,1460.6 157.7,1457.9 158.5,1455.1 159.2,1452.3 159.7,1449.6 160.0,1447.1 160.1,1445.0 160.0,1443.4 159.5,1442.4 158.4,1441.9 158.2,1442.1 155.2,1442.0 153.9,1441.7 151.5,1442.0 149.8,1442.9 148.3,1444.4 147.0,1446.5 145.9,1448.9 144.9,1451.6 144.1,1454.4 143.4,1457.2 142.9,1459.9 142.7,1462.3 142.6,1464.3 142.8,1465.9 143.2,1466.8 144.7,1467.3" fill="#1c7bd8"/>
<polyline points="149.1,1462.6 149.8,1460.2 150.6,1457.6 151.3,1454.7 152.0,1451.9 152.8,1449.2 153.5,1446.8 154.2,1444.7 154.9,1443.2" fill="none" stroke="#5aaaf0" stroke-width="3.6" opacity="0.7"/>
<polygon points="167.2,1468.2 169.1,1467.6 170.7,1466.3 172.1,1464.5 173.3,1462.3 174.4,1459.7 175.3,1456.9 176.0,1454.1 176.5,1451.3 176.9,1448.7 177.1,1446.5 177.0,1444.8 176.7,1443.5 175.9,1442.9 175.0,1442.8 172.0,1442.7 169.9,1442.6 167.9,1443.1 166.3,1444.2 164.8,1445.9 163.6,1448.1 162.5,1450.6 161.6,1453.3 160.8,1456.2 160.2,1459.0 159.8,1461.6 159.6,1463.9 159.6,1465.8 159.9,1467.1 160.5,1467.9" fill="#1c7bd8"/>
<polyline points="165.8,1464.2 166.6,1461.9 167.3,1459.3 168.0,1456.5 168.8,1453.7 169.5,1450.9 170.2,1448.4 171.0,1446.2 171.6,1444.5" fill="none" stroke="#5aaaf0" stroke-width="3.6" opacity="0.7"/>
<polygon points="183.4,1469.1 185.5,1468.7 187.2,1467.6 188.6,1466.0 189.9,1463.9 191.0,1461.4 192.0,1458.7 192.7,1455.9 193.4,1453.1 193.8,1450.4 194.0,1448.1 194.1,1446.1 193.8,1444.7 193.2,1443.9 191.8,1443.6 188.8,1443.4 186.2,1443.5 184.3,1444.2 182.7,1445.6 181.4,1447.4 180.2,1449.7 179.1,1452.3 178.3,1455.1 177.6,1458.0 177.0,1460.7 176.7,1463.2 176.6,1465.4 176.6,1467.1 177.0,1468.3 177.9,1468.9" fill="#1c7bd8"/>
<polyline points="182.6,1465.7 183.3,1463.6 184.0,1461.1 184.8,1458.3 185.5,1455.5 186.2,1452.7 187.0,1450.1 187.7,1447.8 188.4,1445.9" fill="none" stroke="#5aaaf0" stroke-width="3.6" opacity="0.7"/>
<polygon points="199.1,1470.0 201.9,1469.8 203.6,1468.9 205.2,1467.5 205.7,1466.1 207.0,1463.8 208.3,1461.3 209.4,1458.5 210.3,1455.8 211.0,1453.1 211.6,1450.7 211.9,1448.7 211.9,1447.0 211.6,1446.0 210.5,1445.4 210.3,1445.6 207.3,1445.2 206.0,1444.7 203.6,1444.8 201.8,1445.6 200.2,1447.0 198.7,1448.8 197.3,1451.1 196.1,1453.7 195.0,1456.5 194.1,1459.2 193.4,1461.8 192.9,1464.2 193.5,1466.9 193.7,1468.4 194.2,1469.4 195.7,1469.8" fill="#1c7bd8"/>
<polyline points="199.3,1465.1 200.2,1462.8 201.2,1460.2 202.2,1457.5 203.2,1454.8 204.2,1452.1 205.1,1449.8 206.0,1447.8 206.9,1446.3" fill="none" stroke="#5aaaf0" stroke-width="3.6" opacity="0.7"/>
<polygon points="216.8,1472.4 218.7,1471.9 220.4,1470.8 222.0,1469.2 223.4,1467.0 224.7,1464.6 225.9,1461.9 226.8,1459.1 227.6,1456.4 228.3,1453.9 228.6,1451.7 228.8,1450.0 228.6,1448.7 227.8,1448.0 226.9,1447.9 224.0,1447.4 221.9,1447.1 219.8,1447.4 218.1,1448.4 216.5,1450.0 215.0,1452.0 213.7,1454.4 212.6,1457.1 211.5,1459.8 210.7,1462.6 210.0,1465.1 209.6,1467.4 209.4,1469.2 209.6,1470.6 210.1,1471.5" fill="#1c7bd8"/>
<polyline points="215.8,1468.3 216.7,1466.1 217.7,1463.6 218.7,1460.9 219.7,1458.1 220.7,1455.4 221.7,1453.0 222.6,1450.9 223.4,1449.2" fill="none" stroke="#5aaaf0" stroke-width="3.6" opacity="0.7"/>
<polygon points="232.8,1474.8 235.0,1474.6 236.7,1473.7 238.3,1472.2 239.8,1470.2 241.1,1467.9 242.3,1465.2 243.4,1462.5 244.2,1459.8 244.9,1457.2 245.4,1454.9 245.6,1452.9 245.5,1451.5 245.0,1450.6 243.6,1450.2 240.6,1449.8 238.0,1449.6 236.0,1450.1 234.4,1451.3 232.8,1453.0 231.4,1455.2 230.1,1457.7 229.0,1460.4 228.0,1463.2 227.3,1465.9 226.7,1468.3 226.3,1470.5 226.3,1472.2 226.5,1473.4 227.3,1474.1" fill="#1c7bd8"/>
<polyline points="232.3,1471.4 233.2,1469.3 234.2,1466.9 235.2,1464.2 236.2,1461.5 237.2,1458.7 238.2,1456.2 239.1,1454.0 240.0,1452.1" fill="none" stroke="#5aaaf0" stroke-width="3.6" opacity="0.7"/>
<polygon points="248.4,1477.1 251.1,1477.2 253.0,1476.5 254.6,1475.2 256.1,1473.4 257.5,1471.1 258.8,1468.6 259.8,1465.9 260.8,1463.1 261.5,1460.4 262.1,1458.0 262.4,1456.0 262.4,1454.4 262.0,1453.3 260.9,1452.7 260.8,1452.9 257.8,1452.5 256.5,1452.1 254.1,1452.1 252.3,1452.9 250.7,1454.3 249.2,1456.2 247.8,1458.5 246.6,1461.0 245.5,1463.8 244.6,1466.5 243.9,1469.2 243.4,1471.5 243.1,1473.5 243.1,1475.1 243.5,1476.1 245.0,1476.6" fill="#1c7bd8"/>
<polyline points="249.7,1472.5 250.7,1470.1 251.7,1467.6 252.7,1464.8 253.7,1462.1 254.7,1459.4 255.6,1457.1 256.5,1455.1 257.3,1453.6" fill="none" stroke="#5aaaf0" stroke-width="3.6" opacity="0.7"/>
<polygon points="267.2,1479.7 269.2,1479.3 270.9,1478.1 272.5,1476.5 273.9,1474.4 275.2,1471.9 276.3,1469.2 277.3,1466.4 278.1,1463.7 278.7,1461.2 279.1,1459.0 279.2,1457.3 279.0,1456.0 278.3,1455.3 277.4,1455.2 274.4,1454.7 272.4,1454.4 270.3,1454.7 268.5,1455.7 267.0,1457.3 265.5,1459.3 264.2,1461.7 263.0,1464.4 262.0,1467.1 261.2,1469.9 260.5,1472.4 260.1,1474.7 259.9,1476.5 260.0,1477.9 260.6,1478.8" fill="#1c7bd8"/>
<polyline points="266.3,1475.6 267.2,1473.4 268.2,1470.9 269.2,1468.2 270.2,1465.4 271.2,1462.7 272.1,1460.3 273.0,1458.2 273.9,1456.5" fill="none" stroke="#5aaaf0" stroke-width="3.6" opacity="0.7"/>
<polygon points="283.3,1482.2 285.4,1481.9 287.2,1481.0 288.8,1479.5 290.2,1477.5 291.6,1475.2 292.8,1472.6 293.8,1469.8 294.7,1467.1 295.4,1464.5 295.8,1462.2 296.0,1460.2 296.0,1458.8 295.5,1457.9 294.1,1457.5 291.1,1457.1 288.4,1456.9 286.5,1457.4 284.8,1458.6 283.3,1460.4 281.9,1462.5 280.6,1465.0 279.5,1467.7 278.5,1470.5 277.7,1473.2 277.2,1475.7 276.8,1477.8 276.7,1479.5 277.0,1480.7 277.8,1481.4" fill="#1c7bd8"/>
<polyline points="282.8,1478.7 283.7,1476.6 284.7,1474.2 285.7,1471.5 286.7,1468.8 287.7,1466.0 288.6,1463.5 289.6,1461.3 290.4,1459.4" fill="none" stroke="#5aaaf0" stroke-width="3.6" opacity="0.7"/>
<polygon points="298.9,1484.5 301.6,1484.5 303.5,1483.8 305.1,1482.5 306.6,1480.7 308.0,1478.4 309.2,1475.9 310.3,1473.2 311.3,1470.4 312.0,1467.8 312.5,1465.3 312.8,1463.3 312.8,1461.7 312.5,1460.6 311.4,1460.0 311.2,1460.2 308.3,1459.8 307.0,1459.4 304.6,1459.4 302.8,1460.2 301.1,1461.6 299.6,1463.5 298.3,1465.8 297.1,1468.3 296.0,1471.1 295.1,1473.8 294.3,1476.5 293.8,1478.8 293.6,1480.9 293.6,1482.4 294.0,1483.4 295.5,1484.0" fill="#1c7bd8"/>
<polyline points="300.2,1479.8 301.2,1477.5 302.1,1474.9 303.1,1472.1 304.2,1469.4 305.1,1466.8 306.1,1464.4 307.0,1462.4 307.8,1460.9" fill="none" stroke="#5aaaf0" stroke-width="3.6" opacity="0.7"/>
<polygon points="317.7,1487.0 319.7,1486.6 321.4,1485.5 322.9,1483.8 324.4,1481.7 325.6,1479.2 326.8,1476.5 327.8,1473.8 328.6,1471.1 329.2,1468.5 329.6,1466.4 329.7,1464.6 329.5,1463.3 328.8,1462.6 327.9,1462.5 324.9,1462.0 322.8,1461.7 320.8,1462.1 319.0,1463.0 317.4,1464.6 316.0,1466.6 314.7,1469.0 313.5,1471.7 312.5,1474.4 311.6,1477.2 311.0,1479.7 310.6,1482.0 310.4,1483.9 310.5,1485.2 311.1,1486.1" fill="#1c7bd8"/>
<polyline points="316.7,1482.9 317.7,1480.7 318.6,1478.2 319.6,1475.5 320.6,1472.7 321.6,1470.0 322.6,1467.6 323.5,1465.5 324.4,1463.8" fill="none" stroke="#5aaaf0" stroke-width="3.6" opacity="0.7"/>
<polygon points="333.7,1489.5 335.9,1489.2 337.7,1488.3 339.3,1486.8 340.7,1484.9 342.1,1482.5 343.3,1479.9 344.3,1477.1 345.2,1474.4 345.8,1471.8 346.3,1469.5 346.5,1467.6 346.4,1466.1 345.9,1465.2 344.5,1464.8 341.6,1464.4 338.9,1464.2 337.0,1464.8 335.3,1465.9 333.8,1467.7 332.4,1469.8 331.1,1472.3 330.0,1475.0 329.0,1477.8 328.2,1480.5 327.6,1483.0 327.3,1485.1 327.2,1486.8 327.5,1488.0 328.3,1488.7" fill="#1c7bd8"/>
<polyline points="333.3,1486.0 334.2,1483.9 335.1,1481.5 336.1,1478.8 337.1,1476.1 338.1,1473.4 339.1,1470.8 340.0,1468.6 340.9,1466.7" fill="none" stroke="#5aaaf0" stroke-width="3.6" opacity="0.7"/>
<polyline points="85.0,1474.2 85.5,1475.1 85.9,1476.5 86.3,1478.5 86.6,1480.8 86.9,1483.4 87.2,1486.2 87.5,1489.0 87.8,1491.7 88.1,1494.2 88.5,1496.3 88.9,1498.0 89.3,1499.1 89.9,1499.7 90.5,1499.7" fill="none" stroke="#0c4f9e" stroke-width="3.0" stroke-linecap="round"/>
<polyline points="101.7,1476.0 102.2,1476.7 102.7,1478.0 103.1,1479.7 103.4,1482.0 103.7,1484.5 104.0,1487.2 104.3,1490.0 104.6,1492.8 104.9,1495.4 105.2,1497.6 105.6,1499.5 106.1,1500.8 106.6,1501.6 107.2,1501.7" fill="none" stroke="#0c4f9e" stroke-width="3.0" stroke-linecap="round"/>
<polyline points="118.4,1477.9 118.9,1478.4 119.4,1479.5 119.8,1481.1 120.2,1483.1 120.5,1485.6 120.8,1488.3 121.1,1491.1 121.4,1493.9 121.7,1496.5 122.0,1498.9 122.4,1500.9 122.8,1502.4 123.3,1503.3 123.8,1503.7" fill="none" stroke="#0c4f9e" stroke-width="3.0" stroke-linecap="round"/>
<polyline points="135.7,1480.1 136.2,1481.0 136.6,1482.5 137.0,1484.4 137.3,1486.7 137.6,1489.3 137.9,1492.1 138.2,1494.9 138.4,1497.6 138.8,1500.1 139.1,1502.2 139.5,1503.9 140.0,1505.1 140.5,1505.6 141.1,1505.6" fill="none" stroke="#0c4f9e" stroke-width="3.0" stroke-linecap="round"/>
<polyline points="152.4,1481.9 152.9,1482.6 153.3,1483.9 153.7,1485.7 154.1,1487.9 154.4,1490.4 154.7,1493.1 155.0,1496.0 155.2,1498.7 155.5,1501.3 155.9,1503.5 156.3,1505.4 156.7,1506.7 157.2,1507.5 157.8,1507.6" fill="none" stroke="#0c4f9e" stroke-width="3.0" stroke-linecap="round"/>
<polyline points="169.1,1483.8 169.6,1484.3 170.1,1485.4 170.5,1487.0 170.9,1489.1 171.2,1491.5 171.5,1494.2 171.7,1497.0 172.0,1499.8 172.3,1502.4 172.6,1504.8 173.0,1506.8 173.4,1508.3 173.9,1509.2 174.5,1509.6" fill="none" stroke="#0c4f9e" stroke-width="3.0" stroke-linecap="round"/>
<polyline points="186.3,1486.0 186.8,1486.9 187.2,1488.4 187.6,1490.3 188.0,1492.6 188.3,1495.2 188.5,1498.0 188.8,1500.8 189.1,1503.5 189.4,1506.0 189.8,1508.1 190.2,1509.8 190.7,1511.0 191.2,1511.5 191.8,1511.5" fill="none" stroke="#0c4f9e" stroke-width="3.0" stroke-linecap="round"/>
<polyline points="200.7,1487.5 201.4,1488.1 202.1,1489.2 202.8,1490.9 203.5,1493.0 204.3,1495.4 205.1,1498.1 205.9,1500.8 206.6,1503.5 207.4,1505.9 208.2,1508.1 208.9,1509.8 209.6,1511.0 210.2,1511.7 210.8,1511.7" fill="none" stroke="#0c4f9e" stroke-width="3.0" stroke-linecap="round"/>
<polyline points="217.5,1486.3 218.1,1486.7 218.8,1487.6 219.5,1489.1 220.2,1491.1 221.0,1493.4 221.8,1496.0 222.6,1498.7 223.3,1501.4 224.1,1504.0 224.9,1506.2 225.6,1508.1 226.3,1509.5 227.0,1510.4 227.6,1510.6" fill="none" stroke="#0c4f9e" stroke-width="3.0" stroke-linecap="round"/>
<polyline points="234.9,1485.3 235.5,1486.1 236.2,1487.4 236.9,1489.2 237.7,1491.5 238.5,1494.0 239.2,1496.7 240.0,1499.4 240.8,1502.0 241.6,1504.4 242.3,1506.4 243.0,1507.9 243.7,1509.0 244.3,1509.4 244.9,1509.3" fill="none" stroke="#0c4f9e" stroke-width="3.0" stroke-linecap="round"/>
<polyline points="251.6,1484.0 252.2,1484.6 252.9,1485.7 253.6,1487.4 254.4,1489.5 255.2,1491.9 255.9,1494.6 256.7,1497.3 257.5,1500.0 258.3,1502.4 259.0,1504.6 259.8,1506.3 260.4,1507.5 261.1,1508.2 261.7,1508.2" fill="none" stroke="#0c4f9e" stroke-width="3.0" stroke-linecap="round"/>
<polyline points="268.4,1482.8 269.0,1483.1 269.7,1484.1 270.4,1485.6 271.1,1487.6 271.9,1489.9 272.6,1492.5 273.4,1495.2 274.2,1497.9 275.0,1500.5 275.8,1502.7 276.5,1504.6 277.2,1506.0 277.8,1506.9 278.5,1507.1" fill="none" stroke="#0c4f9e" stroke-width="3.0" stroke-linecap="round"/>
<polyline points="285.7,1481.8 286.4,1482.6 287.1,1483.9 287.8,1485.7 288.6,1487.9 289.3,1490.5 290.1,1493.1 290.9,1495.9 291.7,1498.5 292.5,1500.8 293.2,1502.9 293.9,1504.4 294.6,1505.5 295.2,1505.9 295.8,1505.8" fill="none" stroke="#0c4f9e" stroke-width="3.0" stroke-linecap="round"/>
<polyline points="302.5,1480.5 303.1,1481.1 303.8,1482.2 304.5,1483.9 305.3,1486.0 306.0,1488.4 306.8,1491.1 307.6,1493.8 308.4,1496.4 309.2,1498.9 309.9,1501.1 310.6,1502.8 311.3,1504.0 312.0,1504.7 312.6,1504.7" fill="none" stroke="#0c4f9e" stroke-width="3.0" stroke-linecap="round"/>
<polyline points="319.2,1479.3 319.9,1479.6 320.5,1480.6 321.2,1482.1 322.0,1484.1 322.7,1486.4 323.5,1489.0 324.3,1491.7 325.1,1494.4 325.9,1497.0 326.6,1499.2 327.4,1501.1 328.1,1502.5 328.7,1503.4 329.3,1503.6" fill="none" stroke="#0c4f9e" stroke-width="3.0" stroke-linecap="round"/>
<polyline points="336.6,1478.3 337.3,1479.0 338.0,1480.4 338.7,1482.2 339.4,1484.4 340.2,1487.0 341.0,1489.6 341.8,1492.3 342.6,1495.0 343.3,1497.3 344.1,1499.4 344.8,1500.9 345.5,1502.0" fill="none" stroke="#0c4f9e" stroke-width="3.0" stroke-linecap="round"/>
<polygon points="87.5,1481.6 87.9,1479.3 88.2,1477.3 88.1,1475.8 87.8,1474.7 86.7,1474.2 86.5,1474.4 83.5,1474.0 82.2,1473.7 79.8,1473.8 78.0,1474.6 76.4,1475.9 75.0,1477.8 73.7,1480.0" fill="#1c7bd8"/>
<polyline points="81.5,1478.5 82.3,1476.6 83.1,1475.2 83.8,1474.3 84.4,1473.9" fill="none" stroke="#5aaaf0" stroke-width="3.6" opacity="0.7"/>
<polygon points="93.8,1500.1 95.8,1499.6 97.4,1498.5 98.9,1496.8 100.3,1494.7 101.5,1492.3 102.6,1489.7 103.5,1487.1 104.2,1484.4 104.7,1482.0 105.0,1479.9 105.1,1478.2 104.8,1477.0 104.1,1476.3 103.2,1476.2 100.2,1475.9 98.1,1475.6 96.1,1476.0 94.3,1476.9 92.8,1478.5 91.4,1480.5 90.2,1482.8 89.1,1485.4 88.2,1488.1 87.4,1490.7 86.9,1493.2 86.5,1495.4 86.4,1497.2 86.6,1498.5 87.2,1499.3" fill="#1c7bd8"/>
<polyline points="92.7,1496.1 93.6,1494.0 94.5,1491.5 95.4,1488.9 96.3,1486.2 97.2,1483.6 98.1,1481.2 98.9,1479.2 99.7,1477.6" fill="none" stroke="#5aaaf0" stroke-width="3.6" opacity="0.7"/>
<polygon points="109.9,1502.0 112.1,1501.8 113.8,1500.9 115.3,1499.4 116.7,1497.5 118.0,1495.1 119.1,1492.6 120.1,1489.9 120.8,1487.3 121.4,1484.8 121.8,1482.5 122.0,1480.7 121.8,1479.3 121.3,1478.4 119.9,1478.1 116.9,1477.7 114.2,1477.6 112.3,1478.2 110.7,1479.4 109.2,1481.1 107.9,1483.2 106.7,1485.6 105.7,1488.2 104.8,1490.9 104.1,1493.5 103.6,1495.9 103.3,1498.0 103.3,1499.6 103.6,1500.8 104.4,1501.4" fill="#1c7bd8"/>
<polyline points="109.3,1498.7 110.2,1496.7 111.0,1494.3 111.9,1491.8 112.9,1489.1 113.8,1486.4 114.7,1484.0 115.5,1481.8 116.3,1480.0" fill="none" stroke="#5aaaf0" stroke-width="3.6" opacity="0.7"/>
<polygon points="125.5,1503.9 128.3,1503.9 130.1,1503.2 131.7,1501.9 133.2,1500.1 134.5,1497.9 135.6,1495.4 136.6,1492.8 137.5,1490.1 138.1,1487.5 138.6,1485.2 138.8,1483.2 138.8,1481.7 138.4,1480.6 137.3,1480.1 137.1,1480.3 134.2,1480.0 132.9,1479.6 130.5,1479.7 128.7,1480.5 127.1,1481.9 125.7,1483.7 124.4,1485.9 123.2,1488.5 122.2,1491.1 121.4,1493.8 120.8,1496.3 120.4,1498.6 120.2,1500.6 120.2,1502.0 120.7,1503.0 122.1,1503.5" fill="#1c7bd8"/>
<polyline points="126.8,1499.4 127.6,1497.1 128.5,1494.6 129.4,1491.9 130.4,1489.3 131.3,1486.7 132.1,1484.5 133.0,1482.5 133.7,1481.1" fill="none" stroke="#5aaaf0" stroke-width="3.6" opacity="0.7"/>
<polygon points="144.5,1506.0 146.4,1505.5 148.1,1504.4 149.6,1502.7 150.9,1500.7 152.1,1498.3 153.2,1495.7 154.1,1493.0 154.8,1490.4 155.4,1487.9 155.7,1485.8 155.7,1484.1 155.5,1482.9 154.7,1482.2 153.8,1482.1 150.9,1481.8 148.8,1481.5 146.7,1481.9 145.0,1482.9 143.5,1484.4 142.1,1486.4 140.9,1488.7 139.8,1491.3 138.8,1494.0 138.1,1496.6 137.5,1499.1 137.2,1501.3 137.0,1503.1 137.2,1504.4 137.8,1505.2" fill="#1c7bd8"/>
<polyline points="143.4,1502.0 144.2,1499.9 145.1,1497.4 146.0,1494.8 146.9,1492.1 147.8,1489.5 148.7,1487.2 149.6,1485.1 150.4,1483.5" fill="none" stroke="#5aaaf0" stroke-width="3.6" opacity="0.7"/>
<polygon points="160.5,1507.9 162.7,1507.7 164.4,1506.8 166.0,1505.3 167.4,1503.4 168.6,1501.1 169.8,1498.5 170.7,1495.8 171.5,1493.2 172.1,1490.7 172.5,1488.4 172.6,1486.6 172.5,1485.2 172.0,1484.3 170.5,1484.0 167.6,1483.6 164.9,1483.5 163.0,1484.1 161.4,1485.3 159.9,1487.0 158.6,1489.1 157.4,1491.5 156.3,1494.2 155.4,1496.8 154.8,1499.4 154.3,1501.8 154.0,1503.9 153.9,1505.5 154.2,1506.7 155.1,1507.3" fill="#1c7bd8"/>
<polyline points="160.0,1504.6 160.8,1502.6 161.7,1500.2 162.6,1497.7 163.5,1495.0 164.4,1492.4 165.3,1489.9 166.2,1487.7 167.0,1485.9" fill="none" stroke="#5aaaf0" stroke-width="3.6" opacity="0.7"/>
<polygon points="176.2,1509.8 179.0,1509.8 180.8,1509.1 182.4,1507.8 183.8,1506.0 185.1,1503.8 186.3,1501.3 187.3,1498.7 188.1,1496.0 188.8,1493.5 189.3,1491.1 189.5,1489.1 189.5,1487.6 189.1,1486.5 188.0,1486.0 187.8,1486.2 184.8,1485.9 183.5,1485.5 181.1,1485.6 179.3,1486.4 177.7,1487.8 176.3,1489.6 175.0,1491.8 173.9,1494.4 172.9,1497.0 172.1,1499.7 171.4,1502.2 171.0,1504.5 170.8,1506.5 170.9,1507.9 171.3,1508.9 172.8,1509.4" fill="#1c7bd8"/>
<polyline points="177.4,1505.3 178.3,1503.0 179.2,1500.5 180.1,1497.9 181.0,1495.2 181.9,1492.7 182.8,1490.4 183.6,1488.4 184.4,1487.0" fill="none" stroke="#5aaaf0" stroke-width="3.6" opacity="0.7"/>
<polygon points="195.1,1511.9 197.1,1511.4 198.8,1510.3 200.2,1508.6 201.6,1506.6 202.8,1504.2 203.9,1501.6 204.8,1498.9 205.5,1496.3 206.0,1493.8 206.3,1491.7 206.4,1490.0 204.0,1487.9 203.1,1487.3 202.2,1487.4 199.2,1487.6 197.1,1487.7 195.2,1488.5 195.7,1488.8 194.1,1490.3 192.8,1492.3 191.5,1494.6 190.4,1497.2 189.5,1499.9 188.7,1502.5 188.2,1505.0 187.8,1507.2 187.7,1509.0 187.9,1510.3 188.5,1511.1" fill="#1c7bd8"/>
<polyline points="194.0,1507.9 194.9,1505.8 195.8,1503.3 196.7,1500.7 197.6,1498.0 198.5,1495.4 199.4,1493.1 200.2,1491.0 201.0,1489.4" fill="none" stroke="#5aaaf0" stroke-width="3.6" opacity="0.7"/>
<polygon points="213.6,1511.6 215.6,1510.9 217.2,1509.7 218.4,1508.0 219.4,1505.8 220.3,1503.3 220.9,1500.6 221.3,1497.8 221.6,1495.0 221.7,1492.5 221.7,1490.2 221.5,1488.3 221.1,1487.0 220.4,1486.3 219.0,1486.2 216.0,1486.4 213.4,1486.8 211.6,1487.7 210.2,1489.1 209.1,1491.1 208.1,1493.4 207.4,1496.0 206.9,1498.8 206.5,1501.6 206.3,1504.3 206.2,1506.7 206.4,1508.8 206.6,1510.4 207.1,1511.5 208.1,1511.9" fill="#1c7bd8"/>
<polyline points="212.4,1508.4 212.8,1506.2 213.3,1503.8 213.7,1501.1 214.1,1498.3 214.5,1495.5 214.9,1492.9 215.4,1490.6 215.8,1488.7" fill="none" stroke="#5aaaf0" stroke-width="3.6" opacity="0.7"/>
<polygon points="229.3,1510.5 232.0,1510.0 233.7,1509.0 235.0,1507.4 236.1,1505.4 237.0,1503.0 237.7,1500.3 238.2,1497.5 238.5,1494.8 238.7,1492.1 238.7,1489.7 238.5,1487.7 238.2,1486.2 237.7,1485.3 236.5,1485.0 236.4,1485.2 233.4,1485.4 232.0,1485.3 229.7,1485.8 228.1,1486.9 226.8,1488.6 225.7,1490.6 224.8,1493.1 224.2,1495.8 223.7,1498.5 223.4,1501.3 223.2,1503.9 223.2,1506.3 223.4,1508.2 223.7,1509.7 224.3,1510.5 225.9,1510.7" fill="#1c7bd8"/>
<polyline points="229.7,1505.8 230.1,1503.5 230.5,1500.8 230.9,1498.0 231.3,1495.3 231.8,1492.6 232.2,1490.2 232.6,1488.1 233.1,1486.6" fill="none" stroke="#5aaaf0" stroke-width="3.6" opacity="0.7"/>
<polygon points="248.3,1509.1 250.1,1508.2 251.5,1506.8 252.7,1504.9 253.7,1502.7 254.4,1500.1 255.0,1497.3 255.4,1494.5 255.6,1491.8 255.7,1489.3 255.6,1487.2 255.3,1485.5 254.9,1484.4 254.0,1483.8 253.1,1483.9 250.1,1484.1 248.0,1484.2 246.0,1485.0 244.5,1486.2 243.3,1488.0 242.3,1490.2 241.6,1492.8 241.0,1495.5 240.5,1498.3 240.3,1501.0 240.2,1503.6 240.2,1505.8 240.4,1507.6 240.9,1508.8 241.6,1509.5" fill="#1c7bd8"/>
<polyline points="246.5,1505.4 246.9,1503.1 247.3,1500.6 247.7,1497.8 248.2,1495.0 248.6,1492.3 249.0,1489.8 249.5,1487.6 249.9,1485.9" fill="none" stroke="#5aaaf0" stroke-width="3.6" opacity="0.7"/>
<polygon points="264.4,1508.0 266.5,1507.4 268.1,1506.2 269.3,1504.4 270.3,1502.3 271.1,1499.8 271.8,1497.1 272.2,1494.3 272.5,1491.5 272.6,1489.0 272.6,1486.7 272.4,1484.8 272.0,1483.5 271.3,1482.8 269.9,1482.7 266.9,1482.9 264.2,1483.2 262.5,1484.2 261.1,1485.6 259.9,1487.6 259.0,1489.9 258.3,1492.5 257.8,1495.3 257.4,1498.1 257.2,1500.7 257.1,1503.2 257.2,1505.3 257.5,1506.9 258.0,1508.0 259.0,1508.4" fill="#1c7bd8"/>
<polyline points="263.3,1504.9 263.7,1502.7 264.2,1500.3 264.6,1497.6 265.0,1494.8 265.4,1492.0 265.8,1489.4 266.3,1487.1 266.7,1485.2" fill="none" stroke="#5aaaf0" stroke-width="3.6" opacity="0.7"/>
<polygon points="280.2,1507.0 282.9,1506.5 284.5,1505.5 285.9,1503.9 287.0,1501.9 287.8,1499.5 288.5,1496.8 289.0,1494.0 289.4,1491.3 289.5,1488.6 289.6,1486.2 289.4,1484.2 289.1,1482.7 288.6,1481.8 287.4,1481.5 287.2,1481.7 284.2,1481.9 282.9,1481.8 280.5,1482.3 278.9,1483.4 277.6,1485.0 276.6,1487.1 275.7,1489.6 275.1,1492.2 274.6,1495.0 274.3,1497.8 274.1,1500.4 274.1,1502.8 274.3,1504.7 274.6,1506.1 275.2,1507.0 276.8,1507.2" fill="#1c7bd8"/>
<polyline points="280.5,1502.3 281.0,1500.0 281.4,1497.3 281.8,1494.5 282.2,1491.7 282.6,1489.1 283.1,1486.7 283.5,1484.6 284.0,1483.1" fill="none" stroke="#5aaaf0" stroke-width="3.6" opacity="0.7"/>
<polygon points="299.2,1505.5 301.0,1504.7 302.4,1503.3 303.6,1501.4 304.5,1499.1 305.3,1496.6 305.8,1493.8 306.2,1491.0 306.5,1488.3 306.5,1485.8 306.4,1483.7 306.2,1482.0 305.7,1480.8 304.9,1480.3 304.0,1480.4 301.0,1480.6 298.9,1480.7 296.9,1481.5 295.4,1482.7 294.2,1484.5 293.2,1486.7 292.4,1489.3 291.8,1492.0 291.4,1494.8 291.1,1497.5 291.0,1500.1 291.1,1502.3 291.3,1504.1 291.7,1505.3 292.5,1506.0" fill="#1c7bd8"/>
<polyline points="297.3,1501.9 297.8,1499.6 298.2,1497.0 298.6,1494.3 299.0,1491.5 299.4,1488.8 299.9,1486.3 300.3,1484.1 300.8,1482.4" fill="none" stroke="#5aaaf0" stroke-width="3.6" opacity="0.7"/>
<polygon points="315.3,1504.5 317.4,1503.9 318.9,1502.7 320.2,1500.9 321.2,1498.8 322.0,1496.3 322.6,1493.6 323.1,1490.8 323.4,1488.0 323.5,1485.4 323.5,1483.2 323.3,1481.3 322.9,1480.0 322.2,1479.2 320.7,1479.2 317.7,1479.4 315.1,1479.7 313.3,1480.7 312.0,1482.1 310.8,1484.0 309.9,1486.4 309.2,1489.0 308.6,1491.8 308.3,1494.6 308.1,1497.2 308.0,1499.7 308.1,1501.8 308.4,1503.4 308.9,1504.5 309.8,1504.9" fill="#1c7bd8"/>
<polyline points="314.1,1501.4 314.6,1499.2 315.0,1496.8 315.5,1494.1 315.9,1491.3 316.3,1488.5 316.7,1485.9 317.1,1483.6 317.6,1481.7" fill="none" stroke="#5aaaf0" stroke-width="3.6" opacity="0.7"/>
<polygon points="331.1,1503.5 333.8,1503.0 335.4,1502.0 336.8,1500.4 337.8,1498.4 338.7,1496.0 339.4,1493.3 339.9,1490.5 340.3,1487.7 340.4,1485.1 340.4,1482.7 340.3,1480.7 340.0,1479.2 339.4,1478.3 338.2,1477.9 338.1,1478.2 335.1,1478.4 333.8,1478.3 331.4,1478.8 329.8,1479.9 328.5,1481.5 327.4,1483.6 326.6,1486.1 325.9,1488.7 325.5,1491.5 325.1,1494.3 325.0,1496.9 325.0,1499.3 325.1,1501.2 325.5,1502.6 326.1,1503.5 327.6,1503.7" fill="#1c7bd8"/>
<polyline points="331.4,1498.8 331.9,1496.4 332.3,1493.8 332.7,1491.0 333.1,1488.2 333.5,1485.6 333.9,1483.2 334.4,1481.1 334.9,1479.6" fill="none" stroke="#5aaaf0" stroke-width="3.6" opacity="0.7"/>
<polyline points="176.6,1526.5 177.2,1527.2 177.8,1528.6 178.4,1530.5 179.1,1532.8 179.7,1535.5 180.4,1538.4 181.0,1541.4 181.7,1544.3 182.3,1547.0 183.0,1549.3 183.6,1551.2 184.2,1552.5 184.8,1553.2 185.4,1553.2" fill="none" stroke="#0c4f9e" stroke-width="3.0" stroke-linecap="round"/>
<polyline points="193.4,1526.1 194.0,1526.6 194.6,1527.8 195.2,1529.5 195.9,1531.7 196.5,1534.3 197.2,1537.1 197.8,1540.1 198.5,1543.0 199.1,1545.8 199.8,1548.3 200.4,1550.3 201.0,1551.8 201.6,1552.7 202.2,1553.0" fill="none" stroke="#0c4f9e" stroke-width="3.0" stroke-linecap="round"/>
<polyline points="210.8,1526.1 211.4,1527.0 212.0,1528.5 212.6,1530.6 213.3,1533.1 213.9,1535.8 214.6,1538.8 215.2,1541.8 215.9,1544.6 216.5,1547.2 217.2,1549.4 217.8,1551.1 218.4,1552.2 219.0,1552.7 219.6,1552.5" fill="none" stroke="#0c4f9e" stroke-width="3.0" stroke-linecap="round"/>
<polyline points="227.6,1525.6 228.2,1526.3 228.8,1527.7 229.4,1529.6 230.1,1531.9 230.7,1534.6 231.4,1537.5 232.0,1540.5 232.7,1543.4 233.3,1546.1 234.0,1548.4 234.6,1550.3 235.2,1551.6 235.8,1552.3 236.4,1552.3" fill="none" stroke="#0c4f9e" stroke-width="3.0" stroke-linecap="round"/>
<polyline points="244.4,1525.2 245.0,1525.7 245.6,1526.9 246.2,1528.6 246.8,1530.8 247.5,1533.4 248.1,1536.2 248.8,1539.2 249.4,1542.1 250.1,1544.9 250.7,1547.4 251.4,1549.4 252.0,1550.9 252.6,1551.8 253.2,1552.1" fill="none" stroke="#0c4f9e" stroke-width="3.0" stroke-linecap="round"/>
<polyline points="261.8,1525.2 262.4,1526.1 263.0,1527.6 263.6,1529.7 264.3,1532.2 264.9,1534.9 265.6,1537.9 266.2,1540.9 266.9,1543.7 267.5,1546.3 268.2,1548.5 268.8,1550.2 269.4,1551.3 270.0,1551.8 270.6,1551.6" fill="none" stroke="#0c4f9e" stroke-width="3.0" stroke-linecap="round"/>
<polyline points="278.5,1524.7 279.2,1525.4 279.8,1526.8 280.4,1528.7 281.1,1531.0 281.7,1533.7 282.4,1536.6 283.0,1539.6 283.7,1542.5 284.3,1545.2 284.9,1547.5 285.6,1549.4 286.2,1550.7 286.8,1551.4 287.4,1551.4" fill="none" stroke="#0c4f9e" stroke-width="3.0" stroke-linecap="round"/>
<polyline points="295.3,1524.3 296.0,1524.8 296.6,1526.0 297.2,1527.7 297.8,1529.9 298.5,1532.5 299.1,1535.3 299.8,1538.3 300.4,1541.2 301.1,1544.0 301.7,1546.5 302.4,1548.5 303.0,1550.0 303.6,1550.9 304.2,1551.2" fill="none" stroke="#0c4f9e" stroke-width="3.0" stroke-linecap="round"/>
<polyline points="312.7,1524.3 313.4,1525.2 314.0,1526.7 314.6,1528.8 315.3,1531.3 315.9,1534.0 316.6,1537.0 317.2,1540.0 317.9,1542.8 318.5,1545.4 319.2,1547.6 319.8,1549.3 320.4,1550.4 321.0,1550.9 321.6,1550.7" fill="none" stroke="#0c4f9e" stroke-width="3.0" stroke-linecap="round"/>
<polyline points="329.5,1523.8 330.2,1524.5 330.8,1525.9 331.4,1527.8 332.1,1530.1 332.7,1532.8 333.3,1535.7 334.0,1538.7 334.7,1541.6 335.3,1544.3 335.9,1546.6 336.6,1548.5 337.2,1549.8 337.8,1550.5 338.4,1550.5" fill="none" stroke="#0c4f9e" stroke-width="3.0" stroke-linecap="round"/>
<polygon points="179.3,1540.8 179.8,1537.8 180.1,1534.9 180.3,1532.3 180.3,1530.0 180.1,1528.2 179.7,1527.0 178.8,1526.4 178.1,1526.5 175.1,1526.6 173.1,1526.5 171.0,1527.2 169.5,1528.4 168.1,1530.2 167.0,1532.5 166.1,1535.2 165.4,1538.1 164.8,1541.1" fill="#1c7bd8"/>
<polyline points="173.1,1535.1 173.7,1532.4 174.2,1530.1 174.8,1528.3 175.4,1527.1" fill="none" stroke="#5aaaf0" stroke-width="3.6" opacity="0.7"/>
<polygon points="188.3,1553.2 190.4,1552.5 192.0,1551.2 193.3,1549.4 194.4,1547.1 195.3,1544.4 196.0,1541.5 196.6,1538.5 197.0,1535.6 197.3,1532.8 197.3,1530.4 197.2,1528.5 196.9,1527.0 196.2,1526.3 194.9,1526.1 191.9,1526.2 189.3,1526.4 187.5,1527.2 186.0,1528.7 184.7,1530.6 183.7,1533.1 182.8,1535.8 182.1,1538.8 181.6,1541.8 181.3,1544.7 181.1,1547.3 181.1,1549.6 181.2,1551.4 181.7,1552.7 182.5,1553.3" fill="#1c7bd8"/>
<polyline points="187.2,1549.5 187.7,1547.2 188.3,1544.6 188.8,1541.7 189.4,1538.7 189.9,1535.7 190.5,1533.0 191.0,1530.5 191.6,1528.6" fill="none" stroke="#5aaaf0" stroke-width="3.6" opacity="0.7"/>
<polygon points="204.3,1552.9 206.8,1552.5 208.5,1551.4 209.9,1549.8 211.0,1547.6 212.0,1545.0 212.8,1542.2 213.4,1539.2 213.9,1536.2 214.2,1533.4 214.3,1530.9 214.3,1528.8 214.0,1527.2 213.5,1526.1 212.1,1525.8 212.3,1526.1 209.3,1526.1 208.2,1525.9 205.7,1526.3 204.0,1527.3 202.6,1529.0 201.4,1531.1 200.4,1533.7 199.6,1536.5 198.9,1539.5 198.5,1542.5 198.2,1545.3 198.1,1547.8 198.1,1550.0 198.4,1551.6 198.9,1552.6 200.2,1553.0" fill="#1c7bd8"/>
<polyline points="204.5,1547.7 205.1,1545.2 205.6,1542.3 206.2,1539.4 206.7,1536.4 207.3,1533.5 207.8,1531.0 208.4,1528.9 209.0,1527.2" fill="none" stroke="#5aaaf0" stroke-width="3.6" opacity="0.7"/>
<polygon points="223.1,1552.4 224.9,1551.5 226.4,1550.1 227.7,1548.1 228.7,1545.6 229.6,1542.9 230.2,1539.9 230.8,1536.9 231.1,1534.0 231.3,1531.4 231.3,1529.1 231.1,1527.3 230.7,1526.1 229.8,1525.5 229.1,1525.6 226.1,1525.7 224.1,1525.6 222.0,1526.3 220.5,1527.5 219.1,1529.3 218.0,1531.6 217.1,1534.3 216.3,1537.2 215.8,1540.2 215.4,1543.1 215.1,1545.9 215.0,1548.3 215.2,1550.3 215.5,1551.7 216.2,1552.5" fill="#1c7bd8"/>
<polyline points="221.4,1548.2 221.9,1545.8 222.5,1543.0 223.0,1540.1 223.6,1537.1 224.1,1534.2 224.7,1531.5 225.2,1529.2 225.8,1527.4" fill="none" stroke="#5aaaf0" stroke-width="3.6" opacity="0.7"/>
<polygon points="239.3,1552.3 241.4,1551.6 242.9,1550.3 244.3,1548.5 245.4,1546.2 246.3,1543.5 247.0,1540.6 247.6,1537.6 248.0,1534.7 248.2,1531.9 248.3,1529.5 248.2,1527.6 247.9,1526.1 247.2,1525.4 245.9,1525.2 242.9,1525.3 240.3,1525.5 238.5,1526.3 237.0,1527.8 235.7,1529.7 234.7,1532.2 233.8,1534.9 233.1,1537.9 232.6,1540.9 232.3,1543.8 232.1,1546.4 232.1,1548.7 232.2,1550.5 232.7,1551.8 233.5,1552.4" fill="#1c7bd8"/>
<polyline points="238.2,1548.6 238.7,1546.3 239.3,1543.7 239.8,1540.8 240.4,1537.8 240.9,1534.8 241.5,1532.1 242.0,1529.6 242.6,1527.7" fill="none" stroke="#5aaaf0" stroke-width="3.6" opacity="0.7"/>
<polygon points="255.3,1552.0 257.8,1551.6 259.5,1550.5 260.8,1548.9 262.0,1546.7 263.0,1544.1 263.8,1541.3 264.4,1538.3 264.9,1535.3 265.2,1532.5 265.3,1530.0 265.3,1527.9 265.0,1526.3 264.5,1525.2 263.1,1524.9 263.3,1525.2 260.3,1525.2 259.2,1525.0 256.6,1525.4 254.9,1526.4 253.5,1528.1 252.4,1530.2 251.4,1532.8 250.6,1535.6 249.9,1538.6 249.5,1541.6 249.2,1544.4 249.0,1546.9 249.1,1549.1 249.3,1550.7 249.9,1551.7 251.1,1552.1" fill="#1c7bd8"/>
<polyline points="255.5,1546.8 256.1,1544.3 256.6,1541.4 257.2,1538.5 257.7,1535.5 258.3,1532.6 258.8,1530.1 259.4,1528.0 260.0,1526.3" fill="none" stroke="#5aaaf0" stroke-width="3.6" opacity="0.7"/>
<polygon points="274.1,1551.5 275.9,1550.6 277.4,1549.2 278.6,1547.2 279.7,1544.7 280.6,1542.0 281.2,1539.0 281.8,1536.0 282.1,1533.1 282.3,1530.5 282.3,1528.2 282.1,1526.4 281.7,1525.2 280.8,1524.6 280.0,1524.7 277.0,1524.8 275.1,1524.7 273.0,1525.4 271.4,1526.6 270.1,1528.4 269.0,1530.7 268.1,1533.4 267.3,1536.3 266.8,1539.3 266.4,1542.2 266.1,1545.0 266.0,1547.4 266.2,1549.4 266.5,1550.8 267.1,1551.6" fill="#1c7bd8"/>
<polyline points="272.3,1547.3 272.9,1544.9 273.5,1542.1 274.0,1539.2 274.5,1536.2 275.1,1533.3 275.7,1530.6 276.2,1528.3 276.8,1526.5" fill="none" stroke="#5aaaf0" stroke-width="3.6" opacity="0.7"/>
<polygon points="290.3,1551.4 292.4,1550.7 293.9,1549.4 295.3,1547.6 296.4,1545.3 297.3,1542.6 298.0,1539.7 298.6,1536.7 299.0,1533.8 299.2,1531.0 299.3,1528.6 299.2,1526.7 298.9,1525.2 298.2,1524.5 296.8,1524.3 293.8,1524.4 291.3,1524.6 289.5,1525.4 288.0,1526.9 286.7,1528.8 285.7,1531.3 284.8,1534.0 284.1,1537.0 283.6,1540.0 283.3,1542.9 283.1,1545.5 283.1,1547.8 283.2,1549.6 283.7,1550.9 284.5,1551.5" fill="#1c7bd8"/>
<polyline points="289.2,1547.7 289.7,1545.4 290.3,1542.8 290.8,1539.9 291.4,1536.9 291.9,1533.9 292.5,1531.2 293.0,1528.7 293.6,1526.8" fill="none" stroke="#5aaaf0" stroke-width="3.6" opacity="0.7"/>
<polygon points="306.3,1551.1 308.8,1550.7 310.4,1549.6 311.8,1548.0 313.0,1545.8 314.0,1543.3 314.8,1540.4 315.4,1537.4 315.9,1534.4 316.2,1531.6 316.3,1529.1 316.2,1527.0 316.0,1525.4 315.5,1524.3 314.1,1524.0 314.2,1524.3 311.2,1524.3 310.2,1524.1 307.6,1524.5 305.9,1525.5 304.5,1527.2 303.4,1529.3 302.4,1531.9 301.6,1534.7 300.9,1537.7 300.5,1540.7 300.2,1543.5 300.0,1546.0 300.1,1548.2 300.3,1549.8 300.9,1550.8 302.1,1551.2" fill="#1c7bd8"/>
<polyline points="306.5,1545.9 307.1,1543.4 307.6,1540.5 308.2,1537.6 308.7,1534.6 309.3,1531.7 309.8,1529.2 310.4,1527.1 311.0,1525.4" fill="none" stroke="#5aaaf0" stroke-width="3.6" opacity="0.7"/>
<polygon points="325.1,1550.6 326.9,1549.7 328.4,1548.3 329.6,1546.3 330.7,1543.8 331.5,1541.1 332.2,1538.1 332.7,1535.1 333.1,1532.2 333.3,1529.6 333.3,1527.3 333.1,1525.5 332.7,1524.3 331.8,1523.7 331.0,1523.8 328.0,1523.9 326.1,1523.8 324.0,1524.5 322.4,1525.7 321.1,1527.5 320.0,1529.8 319.1,1532.5 318.3,1535.4 317.8,1538.4 317.3,1541.3 317.1,1544.1 317.0,1546.5 317.1,1548.5 317.5,1549.9 318.1,1550.7" fill="#1c7bd8"/>
<polyline points="323.3,1546.4 323.9,1544.0 324.4,1541.2 325.0,1538.3 325.5,1535.3 326.1,1532.4 326.6,1529.7 327.2,1527.4 327.8,1525.6" fill="none" stroke="#5aaaf0" stroke-width="3.6" opacity="0.7"/>
<polygon points="341.3,1550.5 343.4,1549.8 344.9,1548.5 346.2,1546.7 347.4,1544.4 348.3,1541.7 349.0,1538.8 334.6,1539.1 334.2,1542.0 334.1,1544.6 334.0,1546.9 334.2,1548.7 334.6,1550.0 335.5,1550.6" fill="#1c7bd8"/>
<polyline points="339.0,1549.9 339.6,1548.6 340.1,1546.8 340.7,1544.5 341.3,1541.9" fill="none" stroke="#5aaaf0" stroke-width="3.6" opacity="0.7"/>
<polygon points="346.9,1528.5 283.6,1493.8 285.5,1490.3 272.0,1492.0 277.8,1504.3 279.7,1500.8 343.1,1535.5" fill="#2e2e8c"/>
<polygon points="339.4,1545.3 263.7,1516.2 265.0,1512.9 252.0,1516.0 259.6,1526.9 260.8,1523.7 336.6,1552.7" fill="#3a3aa0"/>
<path d="M113 1500 c8 6 2 12 -6 14 c-8 2 -16 6 -16 12 c0 6 8 8 10 14 c2 8 4 12 12 14 c10 2 18 -4 28 -4 c8 0 14 4 18 10 c4 8 10 14 18 12" stroke="#1c7bd8" stroke-width="2.8" fill="none"/>
<path d="M113 1500 c8 6 2 12 -6 14 M101 1528 c4 4 8 10 10 16 M163 1525 c4 6 8 14 14 20 c6 4 12 4 18 2" stroke="#e01818" stroke-width="2.8" fill="none"/>
<path d="M133 1482 c2 4 4 8 2 12 M153 1474 c2 6 4 10 4 16" stroke="#e01818" stroke-width="2.5" fill="none"/>
<path d="M140 1480 c8 -8 16 -6 20 -2 c6 4 12 4 16 -2" stroke="#1c7bd8" stroke-width="2.2" fill="none"/>
<ellipse cx="217" cy="1534" rx="7" ry="5" fill="#e01818" transform="rotate(-10 217 1534)"/>
<ellipse cx="182" cy="1549" rx="8" ry="4" fill="#e01818" transform="rotate(-5 182 1549)"/>
<ellipse cx="290" cy="1549" rx="8" ry="4" fill="#e01818" transform="rotate(-5 290 1549)"/>
</g>
<line x1="113.0" y1="1429.0" x2="113.8" y2="1500.8" stroke="#fff" stroke-width="2.2"/>
<line x1="109.3" y1="1529.8" x2="106.3" y2="1554.9" stroke="#fff" stroke-width="2.2"/>
<line x1="160.9" y1="1546.4" x2="145.4" y2="1578.0" stroke="#fff" stroke-width="2.2"/>
<line x1="183.3" y1="1555.8" x2="200.8" y2="1578.6" stroke="#fff" stroke-width="2.2"/>
<line x1="222.7" y1="1539.3" x2="250.7" y2="1584.0" stroke="#fff" stroke-width="2.2"/>
<line x1="269.3" y1="1396.0" x2="165.0" y2="1466.7" stroke="#1a1a1a" stroke-width="2"/>
<line x1="278.6" y1="1429.5" x2="165.0" y2="1487.0" stroke="#1a1a1a" stroke-width="2"/>
<line x1="299.0" y1="1556.0" x2="312.0" y2="1574.7" stroke="#1a1a1a" stroke-width="2"/>
<text x="96.50" y="1423.5" font-size="19" fill="#fff">2</text>
<text x="107.07" y="1423.5" font-size="19" fill="#fff">8</text>
<text x="117.63" y="1423.5" font-size="19" fill="#fff">9</text>
<text x="274.50" y="1394.4" font-size="19" fill="#000">2</text>
<text x="285.07" y="1394.4" font-size="19" fill="#000">8</text>
<text x="295.63" y="1394.4" font-size="19" fill="#000">6</text>
<text x="278.50" y="1425.0" font-size="19" fill="#000">2</text>
<text x="289.07" y="1425.0" font-size="19" fill="#000">8</text>
<text x="299.63" y="1425.0" font-size="19" fill="#000">3</text>
<text x="89.80" y="1573.3" font-size="19" fill="#fff">2</text>
<text x="100.37" y="1573.3" font-size="19" fill="#fff">9</text>
<polygon points="116.55,1573.30 118.36,1573.30 118.36,1559.70 117.34,1559.70 116.87,1560.50 116.13,1561.33 115.20,1562.17 113.39,1563.32 113.39,1564.93 115.02,1564.12 116.55,1562.82" fill="#fff"/>
<text x="127.30" y="1594.4" font-size="19" fill="#fff">2</text>
<text x="137.87" y="1594.4" font-size="19" fill="#fff">9</text>
<text x="148.43" y="1594.4" font-size="19" fill="#fff">6</text>
<text x="189.30" y="1598.2" font-size="19" fill="#fff">2</text>
<text x="199.87" y="1598.2" font-size="19" fill="#fff">9</text>
<text x="210.43" y="1598.2" font-size="19" fill="#fff">7</text>
<text x="240.70" y="1600.7" font-size="19" fill="#fff">3</text>
<text x="251.27" y="1600.7" font-size="19" fill="#fff">0</text>
<text x="261.83" y="1600.7" font-size="19" fill="#fff">3</text>
<text x="297.60" y="1586.4" font-size="19" fill="#000">3</text>
<polygon points="313.78,1586.40 315.59,1586.40 315.59,1572.80 314.57,1572.80 314.10,1573.60 313.36,1574.43 312.43,1575.27 310.63,1576.42 310.63,1578.03 312.25,1577.22 313.78,1575.92" fill="#000"/>
<text x="318.73" y="1586.4" font-size="19" fill="#000">2</text>
<rect x="87.5" y="1358.8" width="248" height="247" fill="none" stroke="#e8232a" stroke-width="2.8" stroke-dasharray="7.5 4.2"/>
<polygon points="408.0,1377.0 419.4,1367.8 432.5,1363.8 453.6,1366.5 469.3,1365.1 486.0,1371.7 493.6,1380.9 494.9,1394.7 488.4,1410.4 483.0,1421.0 468.0,1440.0 456.8,1447.8 432.5,1453.0 411.5,1458.4 397.8,1448.8 390.0,1436.7 392.5,1418.3 400.4,1402.5 407.3,1388.8" fill="#505050"/>
<circle cx="431.5" cy="1364.8" r="3.0" fill="url(#gs2)"/>
<circle cx="464.2" cy="1365.7" r="2.3" fill="url(#gs2)"/>
<circle cx="439.2" cy="1366.3" r="2.9" fill="url(#gs2)"/>
<circle cx="444.0" cy="1366.2" r="2.6" fill="url(#gs2)"/>
<circle cx="470.0" cy="1365.4" r="2.5" fill="url(#gs2)"/>
<circle cx="459.8" cy="1366.0" r="3.0" fill="url(#gs2)"/>
<circle cx="467.7" cy="1366.2" r="2.4" fill="url(#gs2)"/>
<circle cx="448.2" cy="1366.9" r="2.8" fill="url(#gs2)"/>
<circle cx="465.5" cy="1368.0" r="2.6" fill="url(#gs2)"/>
<circle cx="430.4" cy="1367.0" r="2.6" fill="url(#gs2)"/>
<circle cx="433.5" cy="1369.5" r="2.4" fill="url(#gs2)"/>
<circle cx="454.2" cy="1369.5" r="3.1" fill="url(#gs2)"/>
<circle cx="442.4" cy="1368.1" r="3.1" fill="url(#gs2)"/>
<circle cx="475.7" cy="1368.5" r="2.5" fill="url(#gs2)"/>
<circle cx="423.8" cy="1369.9" r="3.0" fill="url(#gs2)"/>
<circle cx="435.7" cy="1365.7" r="2.9" fill="url(#gs2)"/>
<circle cx="451.6" cy="1366.3" r="2.6" fill="url(#gs2)"/>
<circle cx="421.4" cy="1371.4" r="2.6" fill="url(#gs2)"/>
<circle cx="447.8" cy="1370.4" r="3.0" fill="url(#gs2)"/>
<circle cx="426.9" cy="1370.1" r="2.4" fill="url(#gs2)"/>
<circle cx="451.0" cy="1369.6" r="2.6" fill="url(#gs2)"/>
<circle cx="462.7" cy="1369.1" r="3.0" fill="url(#gs2)"/>
<circle cx="484.2" cy="1372.6" r="2.4" fill="url(#gs2)"/>
<circle cx="421.1" cy="1368.0" r="2.9" fill="url(#gs2)"/>
<circle cx="439.2" cy="1369.4" r="2.5" fill="url(#gs2)"/>
<circle cx="472.5" cy="1368.0" r="2.9" fill="url(#gs2)"/>
<circle cx="424.5" cy="1372.0" r="2.6" fill="url(#gs2)"/>
<circle cx="431.8" cy="1371.9" r="2.6" fill="url(#gs2)"/>
<circle cx="426.6" cy="1366.1" r="2.5" fill="url(#gs2)"/>
<circle cx="456.7" cy="1369.0" r="2.6" fill="url(#gs2)"/>
<circle cx="477.1" cy="1372.8" r="2.5" fill="url(#gs2)"/>
<circle cx="460.3" cy="1369.4" r="2.8" fill="url(#gs2)"/>
<circle cx="452.5" cy="1371.4" r="2.4" fill="url(#gs2)"/>
<circle cx="455.8" cy="1372.2" r="2.7" fill="url(#gs2)"/>
<circle cx="463.1" cy="1371.7" r="3.0" fill="url(#gs2)"/>
<circle cx="424.7" cy="1366.9" r="2.8" fill="url(#gs2)"/>
<circle cx="433.2" cy="1366.8" r="2.4" fill="url(#gs2)"/>
<circle cx="453.5" cy="1373.1" r="2.5" fill="url(#gs2)"/>
<circle cx="412.4" cy="1373.5" r="2.4" fill="url(#gs2)"/>
<circle cx="445.2" cy="1371.2" r="2.3" fill="url(#gs2)"/>
<circle cx="419.3" cy="1372.4" r="2.4" fill="url(#gs2)"/>
<circle cx="419.3" cy="1375.2" r="2.4" fill="url(#gs2)"/>
<circle cx="435.8" cy="1368.3" r="2.5" fill="url(#gs2)"/>
<circle cx="478.9" cy="1369.7" r="2.9" fill="url(#gs2)"/>
<circle cx="453.7" cy="1375.2" r="2.5" fill="url(#gs2)"/>
<circle cx="461.3" cy="1374.9" r="3.1" fill="url(#gs2)"/>
<circle cx="429.4" cy="1370.4" r="2.8" fill="url(#gs2)"/>
<circle cx="429.2" cy="1374.0" r="3.0" fill="url(#gs2)"/>
<circle cx="432.4" cy="1374.8" r="3.0" fill="url(#gs2)"/>
<circle cx="478.9" cy="1375.1" r="2.6" fill="url(#gs2)"/>
<circle cx="436.6" cy="1375.3" r="3.1" fill="url(#gs2)"/>
<circle cx="441.2" cy="1375.5" r="2.7" fill="url(#gs2)"/>
<circle cx="422.3" cy="1373.9" r="2.4" fill="url(#gs2)"/>
<circle cx="437.2" cy="1369.7" r="2.4" fill="url(#gs2)"/>
<circle cx="487.1" cy="1376.6" r="2.7" fill="url(#gs2)"/>
<circle cx="481.2" cy="1373.8" r="3.0" fill="url(#gs2)"/>
<circle cx="481.2" cy="1376.7" r="2.5" fill="url(#gs2)"/>
<circle cx="442.1" cy="1373.7" r="2.4" fill="url(#gs2)"/>
<circle cx="472.0" cy="1374.3" r="2.5" fill="url(#gs2)"/>
<circle cx="435.8" cy="1371.2" r="2.8" fill="url(#gs2)"/>
<circle cx="470.9" cy="1377.6" r="2.8" fill="url(#gs2)"/>
<circle cx="443.2" cy="1371.1" r="2.7" fill="url(#gs2)"/>
<circle cx="466.7" cy="1375.5" r="2.6" fill="url(#gs2)"/>
<circle cx="449.9" cy="1371.6" r="2.6" fill="url(#gs2)"/>
<circle cx="417.6" cy="1371.1" r="2.6" fill="url(#gs2)"/>
<circle cx="444.1" cy="1377.4" r="2.6" fill="url(#gs2)"/>
<circle cx="436.1" cy="1378.1" r="2.4" fill="url(#gs2)"/>
<circle cx="451.0" cy="1376.7" r="2.7" fill="url(#gs2)"/>
<circle cx="469.3" cy="1373.9" r="2.6" fill="url(#gs2)"/>
<circle cx="446.3" cy="1376.4" r="2.6" fill="url(#gs2)"/>
<circle cx="414.8" cy="1374.0" r="2.5" fill="url(#gs2)"/>
<circle cx="427.4" cy="1373.2" r="2.5" fill="url(#gs2)"/>
<circle cx="485.9" cy="1379.0" r="2.4" fill="url(#gs2)"/>
<circle cx="438.7" cy="1372.0" r="3.0" fill="url(#gs2)"/>
<circle cx="452.5" cy="1379.7" r="3.0" fill="url(#gs2)"/>
<circle cx="482.6" cy="1379.2" r="2.5" fill="url(#gs2)"/>
<circle cx="417.6" cy="1373.8" r="2.8" fill="url(#gs2)"/>
<circle cx="411.4" cy="1379.9" r="2.7" fill="url(#gs2)"/>
<circle cx="455.3" cy="1377.9" r="3.0" fill="url(#gs2)"/>
<circle cx="435.7" cy="1373.2" r="2.6" fill="url(#gs2)"/>
<circle cx="488.1" cy="1379.5" r="2.5" fill="url(#gs2)"/>
<circle cx="414.0" cy="1380.2" r="2.9" fill="url(#gs2)"/>
<circle cx="419.0" cy="1377.4" r="2.6" fill="url(#gs2)"/>
<circle cx="475.9" cy="1374.6" r="2.5" fill="url(#gs2)"/>
<circle cx="468.7" cy="1379.3" r="2.6" fill="url(#gs2)"/>
<circle cx="413.1" cy="1377.7" r="2.5" fill="url(#gs2)"/>
<circle cx="424.6" cy="1380.5" r="2.8" fill="url(#gs2)"/>
<circle cx="421.1" cy="1378.0" r="3.0" fill="url(#gs2)"/>
<circle cx="463.4" cy="1376.1" r="2.8" fill="url(#gs2)"/>
<circle cx="448.6" cy="1374.8" r="2.5" fill="url(#gs2)"/>
<circle cx="466.1" cy="1378.0" r="3.0" fill="url(#gs2)"/>
<circle cx="433.1" cy="1377.0" r="2.5" fill="url(#gs2)"/>
<circle cx="486.7" cy="1374.0" r="3.0" fill="url(#gs2)"/>
<circle cx="483.8" cy="1376.7" r="2.6" fill="url(#gs2)"/>
<circle cx="463.2" cy="1379.4" r="2.8" fill="url(#gs2)"/>
<circle cx="429.0" cy="1377.5" r="3.1" fill="url(#gs2)"/>
<circle cx="466.2" cy="1381.0" r="2.9" fill="url(#gs2)"/>
<circle cx="450.3" cy="1381.6" r="3.1" fill="url(#gs2)"/>
<circle cx="439.0" cy="1378.2" r="2.5" fill="url(#gs2)"/>
<circle cx="419.4" cy="1380.6" r="2.9" fill="url(#gs2)"/>
<circle cx="482.6" cy="1382.4" r="2.3" fill="url(#gs2)"/>
<circle cx="434.0" cy="1379.3" r="2.5" fill="url(#gs2)"/>
<circle cx="408.4" cy="1377.2" r="2.6" fill="url(#gs2)"/>
<circle cx="486.6" cy="1381.7" r="3.0" fill="url(#gs2)"/>
<circle cx="430.4" cy="1380.6" r="2.4" fill="url(#gs2)"/>
<circle cx="474.5" cy="1380.2" r="2.6" fill="url(#gs2)"/>
<circle cx="483.8" cy="1380.9" r="3.1" fill="url(#gs2)"/>
<circle cx="439.8" cy="1382.0" r="2.3" fill="url(#gs2)"/>
<circle cx="412.2" cy="1375.7" r="3.0" fill="url(#gs2)"/>
<circle cx="458.0" cy="1376.5" r="2.9" fill="url(#gs2)"/>
<circle cx="413.0" cy="1383.0" r="3.0" fill="url(#gs2)"/>
<circle cx="426.8" cy="1377.0" r="2.8" fill="url(#gs2)"/>
<circle cx="448.1" cy="1379.4" r="2.6" fill="url(#gs2)"/>
<circle cx="470.7" cy="1380.5" r="3.1" fill="url(#gs2)"/>
<circle cx="416.9" cy="1376.0" r="2.4" fill="url(#gs2)"/>
<circle cx="473.6" cy="1377.7" r="2.5" fill="url(#gs2)"/>
<circle cx="478.4" cy="1378.7" r="3.0" fill="url(#gs2)"/>
<circle cx="431.6" cy="1378.2" r="2.5" fill="url(#gs2)"/>
<circle cx="454.2" cy="1381.8" r="2.3" fill="url(#gs2)"/>
<circle cx="441.5" cy="1383.5" r="2.6" fill="url(#gs2)"/>
<circle cx="480.2" cy="1383.9" r="2.4" fill="url(#gs2)"/>
<circle cx="416.6" cy="1381.6" r="2.8" fill="url(#gs2)"/>
<circle cx="425.0" cy="1378.3" r="3.0" fill="url(#gs2)"/>
<circle cx="410.9" cy="1384.9" r="3.0" fill="url(#gs2)"/>
<circle cx="476.1" cy="1382.4" r="2.5" fill="url(#gs2)"/>
<circle cx="460.5" cy="1385.2" r="2.8" fill="url(#gs2)"/>
<circle cx="436.7" cy="1383.6" r="2.3" fill="url(#gs2)"/>
<circle cx="440.4" cy="1380.2" r="2.7" fill="url(#gs2)"/>
<circle cx="468.7" cy="1381.5" r="2.8" fill="url(#gs2)"/>
<circle cx="445.6" cy="1381.6" r="3.0" fill="url(#gs2)"/>
<circle cx="410.4" cy="1382.5" r="3.0" fill="url(#gs2)"/>
<circle cx="416.3" cy="1378.4" r="2.9" fill="url(#gs2)"/>
<circle cx="471.1" cy="1384.2" r="2.6" fill="url(#gs2)"/>
<circle cx="427.7" cy="1380.8" r="2.7" fill="url(#gs2)"/>
<circle cx="459.8" cy="1380.4" r="2.4" fill="url(#gs2)"/>
<circle cx="448.2" cy="1385.8" r="2.7" fill="url(#gs2)"/>
<circle cx="487.8" cy="1383.3" r="2.3" fill="url(#gs2)"/>
<circle cx="468.9" cy="1384.1" r="2.6" fill="url(#gs2)"/>
<circle cx="424.0" cy="1383.6" r="2.5" fill="url(#gs2)"/>
<circle cx="434.1" cy="1386.0" r="2.7" fill="url(#gs2)"/>
<circle cx="475.5" cy="1385.1" r="3.0" fill="url(#gs2)"/>
<circle cx="493.3" cy="1383.9" r="2.4" fill="url(#gs2)"/>
<circle cx="491.7" cy="1380.9" r="2.6" fill="url(#gs2)"/>
<circle cx="489.7" cy="1381.9" r="2.9" fill="url(#gs2)"/>
<circle cx="445.7" cy="1384.9" r="2.3" fill="url(#gs2)"/>
<circle cx="437.3" cy="1380.2" r="2.9" fill="url(#gs2)"/>
<circle cx="480.2" cy="1380.9" r="3.0" fill="url(#gs2)"/>
<circle cx="462.9" cy="1385.8" r="2.6" fill="url(#gs2)"/>
<circle cx="435.0" cy="1387.7" r="2.4" fill="url(#gs2)"/>
<circle cx="412.8" cy="1386.6" r="3.1" fill="url(#gs2)"/>
<circle cx="485.9" cy="1387.6" r="2.6" fill="url(#gs2)"/>
<circle cx="455.5" cy="1385.1" r="2.4" fill="url(#gs2)"/>
<circle cx="418.5" cy="1385.4" r="2.9" fill="url(#gs2)"/>
<circle cx="483.2" cy="1384.6" r="2.9" fill="url(#gs2)"/>
<circle cx="464.8" cy="1382.5" r="2.5" fill="url(#gs2)"/>
<circle cx="430.9" cy="1383.5" r="2.6" fill="url(#gs2)"/>
<circle cx="439.7" cy="1384.5" r="2.4" fill="url(#gs2)"/>
<circle cx="474.2" cy="1387.5" r="2.6" fill="url(#gs2)"/>
<circle cx="433.1" cy="1389.3" r="2.5" fill="url(#gs2)"/>
<circle cx="467.0" cy="1385.4" r="2.4" fill="url(#gs2)"/>
<circle cx="478.1" cy="1382.4" r="2.4" fill="url(#gs2)"/>
<circle cx="426.4" cy="1386.5" r="2.4" fill="url(#gs2)"/>
<circle cx="419.9" cy="1388.6" r="2.6" fill="url(#gs2)"/>
<circle cx="488.4" cy="1386.1" r="2.5" fill="url(#gs2)"/>
<circle cx="469.4" cy="1387.2" r="2.5" fill="url(#gs2)"/>
<circle cx="418.5" cy="1390.2" r="2.4" fill="url(#gs2)"/>
<circle cx="442.6" cy="1386.3" r="3.0" fill="url(#gs2)"/>
<circle cx="433.5" cy="1383.3" r="2.6" fill="url(#gs2)"/>
<circle cx="493.0" cy="1389.0" r="2.5" fill="url(#gs2)"/>
<circle cx="458.8" cy="1383.6" r="2.8" fill="url(#gs2)"/>
<circle cx="421.4" cy="1383.9" r="2.7" fill="url(#gs2)"/>
<circle cx="459.2" cy="1387.2" r="3.1" fill="url(#gs2)"/>
<circle cx="452.7" cy="1383.3" r="2.7" fill="url(#gs2)"/>
<circle cx="407.8" cy="1388.7" r="2.4" fill="url(#gs2)"/>
<circle cx="411.5" cy="1390.1" r="2.9" fill="url(#gs2)"/>
<circle cx="414.8" cy="1388.2" r="2.4" fill="url(#gs2)"/>
<circle cx="441.9" cy="1390.6" r="2.9" fill="url(#gs2)"/>
<circle cx="483.6" cy="1387.1" r="3.0" fill="url(#gs2)"/>
<circle cx="467.5" cy="1389.2" r="3.0" fill="url(#gs2)"/>
<circle cx="438.0" cy="1389.4" r="2.7" fill="url(#gs2)"/>
<circle cx="472.2" cy="1391.4" r="2.6" fill="url(#gs2)"/>
<circle cx="430.7" cy="1386.0" r="2.7" fill="url(#gs2)"/>
<circle cx="477.1" cy="1391.1" r="2.5" fill="url(#gs2)"/>
<circle cx="462.2" cy="1388.7" r="2.8" fill="url(#gs2)"/>
<circle cx="474.2" cy="1389.9" r="2.5" fill="url(#gs2)"/>
<circle cx="428.0" cy="1385.2" r="2.7" fill="url(#gs2)"/>
<circle cx="422.3" cy="1387.9" r="2.9" fill="url(#gs2)"/>
<circle cx="444.1" cy="1390.1" r="2.6" fill="url(#gs2)"/>
<circle cx="491.9" cy="1385.7" r="2.8" fill="url(#gs2)"/>
<circle cx="480.0" cy="1386.5" r="2.9" fill="url(#gs2)"/>
<circle cx="453.1" cy="1388.6" r="2.4" fill="url(#gs2)"/>
<circle cx="470.5" cy="1390.6" r="2.4" fill="url(#gs2)"/>
<circle cx="413.6" cy="1390.2" r="2.4" fill="url(#gs2)"/>
<circle cx="433.8" cy="1391.4" r="2.7" fill="url(#gs2)"/>
<circle cx="456.9" cy="1387.1" r="2.8" fill="url(#gs2)"/>
<circle cx="415.7" cy="1385.7" r="2.7" fill="url(#gs2)"/>
<circle cx="435.9" cy="1392.1" r="2.6" fill="url(#gs2)"/>
<circle cx="479.8" cy="1389.1" r="2.4" fill="url(#gs2)"/>
<circle cx="417.6" cy="1392.7" r="2.3" fill="url(#gs2)"/>
<circle cx="425.7" cy="1393.1" r="2.7" fill="url(#gs2)"/>
<circle cx="490.4" cy="1390.0" r="2.8" fill="url(#gs2)"/>
<circle cx="485.2" cy="1389.6" r="2.3" fill="url(#gs2)"/>
<circle cx="429.6" cy="1388.2" r="2.9" fill="url(#gs2)"/>
<circle cx="449.6" cy="1387.8" r="2.4" fill="url(#gs2)"/>
<circle cx="437.6" cy="1393.4" r="2.9" fill="url(#gs2)"/>
<circle cx="430.9" cy="1390.7" r="3.1" fill="url(#gs2)"/>
<circle cx="451.1" cy="1392.9" r="2.8" fill="url(#gs2)"/>
<circle cx="482.7" cy="1391.5" r="2.3" fill="url(#gs2)"/>
<circle cx="457.0" cy="1389.9" r="2.7" fill="url(#gs2)"/>
<circle cx="464.0" cy="1391.2" r="2.4" fill="url(#gs2)"/>
<circle cx="444.5" cy="1387.8" r="2.7" fill="url(#gs2)"/>
<circle cx="407.9" cy="1393.5" r="2.4" fill="url(#gs2)"/>
<circle cx="410.0" cy="1392.2" r="2.3" fill="url(#gs2)"/>
<circle cx="447.1" cy="1388.2" r="2.5" fill="url(#gs2)"/>
<circle cx="450.2" cy="1391.0" r="2.4" fill="url(#gs2)"/>
<circle cx="475.6" cy="1394.8" r="2.4" fill="url(#gs2)"/>
<circle cx="420.6" cy="1393.6" r="2.5" fill="url(#gs2)"/>
<circle cx="471.8" cy="1387.6" r="2.6" fill="url(#gs2)"/>
<circle cx="452.8" cy="1390.6" r="3.0" fill="url(#gs2)"/>
<circle cx="416.1" cy="1395.3" r="2.7" fill="url(#gs2)"/>
<circle cx="455.4" cy="1394.5" r="2.8" fill="url(#gs2)"/>
<circle cx="456.8" cy="1392.7" r="2.3" fill="url(#gs2)"/>
<circle cx="426.6" cy="1389.8" r="3.1" fill="url(#gs2)"/>
<circle cx="423.5" cy="1394.3" r="3.1" fill="url(#gs2)"/>
<circle cx="445.6" cy="1394.0" r="3.0" fill="url(#gs2)"/>
<circle cx="449.1" cy="1395.6" r="2.4" fill="url(#gs2)"/>
<circle cx="443.4" cy="1392.3" r="2.5" fill="url(#gs2)"/>
<circle cx="447.7" cy="1391.4" r="2.9" fill="url(#gs2)"/>
<circle cx="459.2" cy="1392.7" r="2.6" fill="url(#gs2)"/>
<circle cx="439.7" cy="1392.5" r="2.9" fill="url(#gs2)"/>
<circle cx="441.9" cy="1395.4" r="2.5" fill="url(#gs2)"/>
<circle cx="490.3" cy="1392.6" r="3.1" fill="url(#gs2)"/>
<circle cx="459.1" cy="1390.8" r="2.4" fill="url(#gs2)"/>
<circle cx="487.7" cy="1392.9" r="2.8" fill="url(#gs2)"/>
<circle cx="470.3" cy="1393.0" r="2.9" fill="url(#gs2)"/>
<circle cx="446.0" cy="1396.9" r="2.9" fill="url(#gs2)"/>
<circle cx="493.4" cy="1394.2" r="2.9" fill="url(#gs2)"/>
<circle cx="422.7" cy="1391.4" r="2.8" fill="url(#gs2)"/>
<circle cx="408.6" cy="1395.8" r="2.5" fill="url(#gs2)"/>
<circle cx="483.3" cy="1395.1" r="2.4" fill="url(#gs2)"/>
<circle cx="417.1" cy="1398.6" r="2.4" fill="url(#gs2)"/>
<circle cx="479.4" cy="1393.2" r="3.0" fill="url(#gs2)"/>
<circle cx="413.7" cy="1397.4" r="2.5" fill="url(#gs2)"/>
<circle cx="474.3" cy="1398.7" r="2.8" fill="url(#gs2)"/>
<circle cx="448.2" cy="1393.4" r="2.3" fill="url(#gs2)"/>
<circle cx="436.0" cy="1396.6" r="2.8" fill="url(#gs2)"/>
<circle cx="405.6" cy="1394.4" r="2.8" fill="url(#gs2)"/>
<circle cx="477.6" cy="1397.0" r="2.8" fill="url(#gs2)"/>
<circle cx="458.2" cy="1396.9" r="2.9" fill="url(#gs2)"/>
<circle cx="482.0" cy="1399.7" r="2.3" fill="url(#gs2)"/>
<circle cx="408.4" cy="1398.0" r="3.1" fill="url(#gs2)"/>
<circle cx="414.0" cy="1395.1" r="2.5" fill="url(#gs2)"/>
<circle cx="426.8" cy="1398.2" r="2.9" fill="url(#gs2)"/>
<circle cx="422.9" cy="1399.2" r="2.9" fill="url(#gs2)"/>
<circle cx="405.7" cy="1400.1" r="2.8" fill="url(#gs2)"/>
<circle cx="492.4" cy="1398.3" r="2.6" fill="url(#gs2)"/>
<circle cx="465.1" cy="1397.9" r="2.3" fill="url(#gs2)"/>
<circle cx="486.9" cy="1396.3" r="2.4" fill="url(#gs2)"/>
<circle cx="434.5" cy="1399.7" r="3.0" fill="url(#gs2)"/>
<circle cx="484.9" cy="1393.8" r="2.5" fill="url(#gs2)"/>
<circle cx="465.5" cy="1400.7" r="2.6" fill="url(#gs2)"/>
<circle cx="414.6" cy="1399.4" r="2.9" fill="url(#gs2)"/>
<circle cx="429.2" cy="1394.1" r="2.5" fill="url(#gs2)"/>
<circle cx="471.6" cy="1396.6" r="3.0" fill="url(#gs2)"/>
<circle cx="480.4" cy="1400.9" r="3.0" fill="url(#gs2)"/>
<circle cx="491.8" cy="1401.3" r="2.8" fill="url(#gs2)"/>
<circle cx="456.3" cy="1400.5" r="2.7" fill="url(#gs2)"/>
<circle cx="410.7" cy="1394.3" r="2.8" fill="url(#gs2)"/>
<circle cx="492.2" cy="1396.2" r="2.6" fill="url(#gs2)"/>
<circle cx="484.5" cy="1398.3" r="2.7" fill="url(#gs2)"/>
<circle cx="458.5" cy="1399.8" r="3.1" fill="url(#gs2)"/>
<circle cx="421.5" cy="1401.9" r="3.1" fill="url(#gs2)"/>
<circle cx="430.2" cy="1396.5" r="2.8" fill="url(#gs2)"/>
<circle cx="405.5" cy="1397.0" r="2.9" fill="url(#gs2)"/>
<circle cx="465.8" cy="1395.3" r="3.1" fill="url(#gs2)"/>
<circle cx="419.2" cy="1400.1" r="2.6" fill="url(#gs2)"/>
<circle cx="432.5" cy="1395.0" r="2.6" fill="url(#gs2)"/>
<circle cx="471.0" cy="1399.4" r="2.6" fill="url(#gs2)"/>
<circle cx="455.3" cy="1398.1" r="2.6" fill="url(#gs2)"/>
<circle cx="420.4" cy="1397.8" r="2.5" fill="url(#gs2)"/>
<circle cx="449.8" cy="1397.8" r="2.6" fill="url(#gs2)"/>
<circle cx="468.5" cy="1398.6" r="2.8" fill="url(#gs2)"/>
<circle cx="487.1" cy="1398.6" r="2.7" fill="url(#gs2)"/>
<circle cx="450.8" cy="1402.4" r="2.8" fill="url(#gs2)"/>
<circle cx="462.5" cy="1398.5" r="2.4" fill="url(#gs2)"/>
<circle cx="432.0" cy="1398.6" r="2.6" fill="url(#gs2)"/>
<circle cx="463.5" cy="1402.0" r="2.5" fill="url(#gs2)"/>
<circle cx="451.5" cy="1396.7" r="2.5" fill="url(#gs2)"/>
<circle cx="407.3" cy="1403.2" r="2.7" fill="url(#gs2)"/>
<circle cx="481.2" cy="1397.5" r="2.8" fill="url(#gs2)"/>
<circle cx="428.4" cy="1402.9" r="2.4" fill="url(#gs2)"/>
<circle cx="412.2" cy="1400.9" r="2.5" fill="url(#gs2)"/>
<circle cx="451.6" cy="1400.0" r="3.1" fill="url(#gs2)"/>
<circle cx="426.2" cy="1403.0" r="3.0" fill="url(#gs2)"/>
<circle cx="411.8" cy="1397.1" r="2.3" fill="url(#gs2)"/>
<circle cx="436.9" cy="1404.2" r="2.4" fill="url(#gs2)"/>
<circle cx="428.9" cy="1398.1" r="2.4" fill="url(#gs2)"/>
<circle cx="478.8" cy="1402.7" r="2.5" fill="url(#gs2)"/>
<circle cx="467.2" cy="1404.4" r="3.1" fill="url(#gs2)"/>
<circle cx="483.1" cy="1404.0" r="2.9" fill="url(#gs2)"/>
<circle cx="484.5" cy="1402.3" r="2.4" fill="url(#gs2)"/>
<circle cx="438.4" cy="1400.4" r="2.5" fill="url(#gs2)"/>
<circle cx="442.0" cy="1398.6" r="3.0" fill="url(#gs2)"/>
<circle cx="489.7" cy="1398.7" r="2.5" fill="url(#gs2)"/>
<circle cx="403.3" cy="1402.2" r="2.5" fill="url(#gs2)"/>
<circle cx="476.3" cy="1403.7" r="2.8" fill="url(#gs2)"/>
<circle cx="476.3" cy="1398.4" r="2.3" fill="url(#gs2)"/>
<circle cx="439.5" cy="1404.8" r="2.7" fill="url(#gs2)"/>
<circle cx="410.3" cy="1399.0" r="2.7" fill="url(#gs2)"/>
<circle cx="467.5" cy="1401.8" r="2.7" fill="url(#gs2)"/>
<circle cx="487.0" cy="1402.4" r="2.6" fill="url(#gs2)"/>
<circle cx="461.0" cy="1399.9" r="2.8" fill="url(#gs2)"/>
<circle cx="471.3" cy="1401.6" r="2.4" fill="url(#gs2)"/>
<circle cx="444.9" cy="1401.9" r="3.0" fill="url(#gs2)"/>
<circle cx="444.6" cy="1405.5" r="2.5" fill="url(#gs2)"/>
<circle cx="405.2" cy="1403.4" r="2.4" fill="url(#gs2)"/>
<circle cx="428.6" cy="1406.5" r="3.0" fill="url(#gs2)"/>
<circle cx="407.2" cy="1407.5" r="3.0" fill="url(#gs2)"/>
<circle cx="489.4" cy="1403.3" r="2.7" fill="url(#gs2)"/>
<circle cx="414.6" cy="1405.2" r="2.8" fill="url(#gs2)"/>
<circle cx="404.7" cy="1407.0" r="2.7" fill="url(#gs2)"/>
<circle cx="431.3" cy="1405.2" r="2.4" fill="url(#gs2)"/>
<circle cx="487.7" cy="1404.9" r="2.3" fill="url(#gs2)"/>
<circle cx="475.7" cy="1401.7" r="2.4" fill="url(#gs2)"/>
<circle cx="410.4" cy="1404.7" r="2.5" fill="url(#gs2)"/>
<circle cx="485.3" cy="1406.5" r="3.0" fill="url(#gs2)"/>
<circle cx="441.8" cy="1403.1" r="2.8" fill="url(#gs2)"/>
<circle cx="409.0" cy="1401.3" r="2.7" fill="url(#gs2)"/>
<circle cx="416.2" cy="1401.0" r="2.7" fill="url(#gs2)"/>
<circle cx="399.8" cy="1405.6" r="2.4" fill="url(#gs2)"/>
<circle cx="418.6" cy="1405.3" r="2.8" fill="url(#gs2)"/>
<circle cx="425.6" cy="1405.4" r="2.8" fill="url(#gs2)"/>
<circle cx="458.8" cy="1402.3" r="2.4" fill="url(#gs2)"/>
<circle cx="420.6" cy="1407.6" r="3.1" fill="url(#gs2)"/>
<circle cx="470.8" cy="1405.9" r="2.6" fill="url(#gs2)"/>
<circle cx="447.9" cy="1402.7" r="3.0" fill="url(#gs2)"/>
<circle cx="419.1" cy="1402.2" r="2.5" fill="url(#gs2)"/>
<circle cx="401.5" cy="1404.1" r="2.6" fill="url(#gs2)"/>
<circle cx="453.7" cy="1408.7" r="3.0" fill="url(#gs2)"/>
<circle cx="412.1" cy="1405.7" r="2.4" fill="url(#gs2)"/>
<circle cx="451.1" cy="1405.5" r="2.5" fill="url(#gs2)"/>
<circle cx="455.6" cy="1404.0" r="2.6" fill="url(#gs2)"/>
<circle cx="460.6" cy="1404.7" r="2.5" fill="url(#gs2)"/>
<circle cx="402.1" cy="1409.1" r="2.7" fill="url(#gs2)"/>
<circle cx="434.6" cy="1403.3" r="2.6" fill="url(#gs2)"/>
<circle cx="475.8" cy="1406.0" r="2.3" fill="url(#gs2)"/>
<circle cx="414.3" cy="1408.7" r="2.5" fill="url(#gs2)"/>
<circle cx="432.7" cy="1406.8" r="2.5" fill="url(#gs2)"/>
<circle cx="474.5" cy="1408.5" r="3.1" fill="url(#gs2)"/>
<circle cx="434.7" cy="1409.2" r="2.4" fill="url(#gs2)"/>
<circle cx="482.8" cy="1406.9" r="3.1" fill="url(#gs2)"/>
<circle cx="487.3" cy="1408.9" r="2.7" fill="url(#gs2)"/>
<circle cx="431.9" cy="1402.8" r="2.9" fill="url(#gs2)"/>
<circle cx="477.6" cy="1408.8" r="2.4" fill="url(#gs2)"/>
<circle cx="477.8" cy="1406.1" r="2.8" fill="url(#gs2)"/>
<circle cx="420.2" cy="1409.8" r="2.7" fill="url(#gs2)"/>
<circle cx="437.1" cy="1406.5" r="2.7" fill="url(#gs2)"/>
<circle cx="473.1" cy="1406.0" r="2.5" fill="url(#gs2)"/>
<circle cx="458.0" cy="1409.7" r="2.9" fill="url(#gs2)"/>
<circle cx="454.3" cy="1411.5" r="2.7" fill="url(#gs2)"/>
<circle cx="479.8" cy="1410.5" r="2.8" fill="url(#gs2)"/>
<circle cx="442.7" cy="1410.9" r="2.8" fill="url(#gs2)"/>
<circle cx="421.7" cy="1411.3" r="2.3" fill="url(#gs2)"/>
<circle cx="444.8" cy="1407.5" r="2.5" fill="url(#gs2)"/>
<circle cx="428.1" cy="1409.7" r="2.4" fill="url(#gs2)"/>
<circle cx="485.2" cy="1412.1" r="3.0" fill="url(#gs2)"/>
<circle cx="438.2" cy="1408.3" r="2.4" fill="url(#gs2)"/>
<circle cx="399.4" cy="1409.8" r="2.9" fill="url(#gs2)"/>
<circle cx="442.6" cy="1408.3" r="2.4" fill="url(#gs2)"/>
<circle cx="466.5" cy="1410.1" r="2.5" fill="url(#gs2)"/>
<circle cx="423.6" cy="1408.6" r="2.4" fill="url(#gs2)"/>
<circle cx="480.2" cy="1405.0" r="2.4" fill="url(#gs2)"/>
<circle cx="465.4" cy="1411.9" r="2.4" fill="url(#gs2)"/>
<circle cx="423.1" cy="1405.8" r="2.3" fill="url(#gs2)"/>
<circle cx="464.5" cy="1408.6" r="2.9" fill="url(#gs2)"/>
<circle cx="463.5" cy="1412.4" r="3.0" fill="url(#gs2)"/>
<circle cx="446.8" cy="1410.6" r="2.8" fill="url(#gs2)"/>
<circle cx="448.6" cy="1406.8" r="2.7" fill="url(#gs2)"/>
<circle cx="406.5" cy="1411.9" r="2.4" fill="url(#gs2)"/>
<circle cx="397.5" cy="1413.1" r="2.6" fill="url(#gs2)"/>
<circle cx="404.1" cy="1411.4" r="2.7" fill="url(#gs2)"/>
<circle cx="417.0" cy="1407.8" r="2.4" fill="url(#gs2)"/>
<circle cx="455.9" cy="1407.7" r="3.1" fill="url(#gs2)"/>
<circle cx="449.4" cy="1412.0" r="2.5" fill="url(#gs2)"/>
<circle cx="410.8" cy="1413.8" r="2.5" fill="url(#gs2)"/>
<circle cx="427.8" cy="1411.9" r="2.5" fill="url(#gs2)"/>
<circle cx="450.5" cy="1408.1" r="2.6" fill="url(#gs2)"/>
<circle cx="441.5" cy="1412.7" r="2.4" fill="url(#gs2)"/>
<circle cx="418.1" cy="1412.3" r="3.1" fill="url(#gs2)"/>
<circle cx="411.3" cy="1408.3" r="3.1" fill="url(#gs2)"/>
<circle cx="453.1" cy="1415.7" r="2.4" fill="url(#gs2)"/>
<circle cx="481.7" cy="1409.2" r="3.0" fill="url(#gs2)"/>
<circle cx="482.4" cy="1415.9" r="2.7" fill="url(#gs2)"/>
<circle cx="408.7" cy="1415.5" r="2.7" fill="url(#gs2)"/>
<circle cx="470.5" cy="1413.1" r="2.5" fill="url(#gs2)"/>
<circle cx="442.6" cy="1415.8" r="2.9" fill="url(#gs2)"/>
<circle cx="436.7" cy="1411.2" r="2.3" fill="url(#gs2)"/>
<circle cx="416.3" cy="1415.2" r="2.5" fill="url(#gs2)"/>
<circle cx="414.0" cy="1416.8" r="3.0" fill="url(#gs2)"/>
<circle cx="471.2" cy="1410.7" r="2.7" fill="url(#gs2)"/>
<circle cx="406.3" cy="1409.6" r="2.7" fill="url(#gs2)"/>
<circle cx="430.8" cy="1409.5" r="2.3" fill="url(#gs2)"/>
<circle cx="449.9" cy="1414.2" r="2.9" fill="url(#gs2)"/>
<circle cx="395.1" cy="1414.7" r="2.6" fill="url(#gs2)"/>
<circle cx="455.2" cy="1414.2" r="2.3" fill="url(#gs2)"/>
<circle cx="454.9" cy="1417.4" r="2.5" fill="url(#gs2)"/>
<circle cx="451.8" cy="1412.9" r="2.3" fill="url(#gs2)"/>
<circle cx="412.8" cy="1414.3" r="3.0" fill="url(#gs2)"/>
<circle cx="433.7" cy="1414.3" r="2.5" fill="url(#gs2)"/>
<circle cx="408.9" cy="1411.2" r="2.3" fill="url(#gs2)"/>
<circle cx="480.7" cy="1414.3" r="2.7" fill="url(#gs2)"/>
<circle cx="423.3" cy="1412.6" r="2.7" fill="url(#gs2)"/>
<circle cx="477.9" cy="1414.7" r="2.4" fill="url(#gs2)"/>
<circle cx="460.2" cy="1411.5" r="3.0" fill="url(#gs2)"/>
<circle cx="430.1" cy="1412.9" r="2.8" fill="url(#gs2)"/>
<circle cx="412.1" cy="1412.2" r="2.4" fill="url(#gs2)"/>
<circle cx="482.7" cy="1413.6" r="2.5" fill="url(#gs2)"/>
<circle cx="474.1" cy="1412.4" r="2.5" fill="url(#gs2)"/>
<circle cx="422.8" cy="1416.5" r="2.9" fill="url(#gs2)"/>
<circle cx="482.8" cy="1411.7" r="2.3" fill="url(#gs2)"/>
<circle cx="459.6" cy="1415.1" r="2.9" fill="url(#gs2)"/>
<circle cx="434.0" cy="1412.2" r="2.9" fill="url(#gs2)"/>
<circle cx="457.2" cy="1412.5" r="2.6" fill="url(#gs2)"/>
<circle cx="402.1" cy="1415.4" r="2.3" fill="url(#gs2)"/>
<circle cx="430.4" cy="1418.3" r="2.9" fill="url(#gs2)"/>
<circle cx="437.7" cy="1413.1" r="2.7" fill="url(#gs2)"/>
<circle cx="402.6" cy="1413.3" r="2.9" fill="url(#gs2)"/>
<circle cx="445.8" cy="1413.8" r="2.7" fill="url(#gs2)"/>
<circle cx="482.5" cy="1419.5" r="2.4" fill="url(#gs2)"/>
<circle cx="463.2" cy="1415.3" r="2.7" fill="url(#gs2)"/>
<circle cx="400.3" cy="1413.8" r="2.4" fill="url(#gs2)"/>
<circle cx="394.8" cy="1417.1" r="2.4" fill="url(#gs2)"/>
<circle cx="449.5" cy="1419.7" r="3.1" fill="url(#gs2)"/>
<circle cx="400.6" cy="1418.3" r="3.1" fill="url(#gs2)"/>
<circle cx="471.7" cy="1417.6" r="2.3" fill="url(#gs2)"/>
<circle cx="403.7" cy="1418.5" r="2.4" fill="url(#gs2)"/>
<circle cx="456.9" cy="1420.3" r="2.7" fill="url(#gs2)"/>
<circle cx="432.7" cy="1417.4" r="3.0" fill="url(#gs2)"/>
<circle cx="437.3" cy="1417.4" r="2.9" fill="url(#gs2)"/>
<circle cx="458.1" cy="1418.2" r="3.0" fill="url(#gs2)"/>
<circle cx="467.0" cy="1415.5" r="2.9" fill="url(#gs2)"/>
<circle cx="439.6" cy="1416.0" r="2.7" fill="url(#gs2)"/>
<circle cx="473.3" cy="1418.5" r="2.4" fill="url(#gs2)"/>
<circle cx="425.5" cy="1420.7" r="2.6" fill="url(#gs2)"/>
<circle cx="475.5" cy="1414.6" r="2.7" fill="url(#gs2)"/>
<circle cx="416.9" cy="1417.7" r="2.8" fill="url(#gs2)"/>
<circle cx="484.2" cy="1418.6" r="2.5" fill="url(#gs2)"/>
<circle cx="400.3" cy="1422.3" r="3.0" fill="url(#gs2)"/>
<circle cx="462.3" cy="1418.1" r="2.5" fill="url(#gs2)"/>
<circle cx="412.5" cy="1422.3" r="2.9" fill="url(#gs2)"/>
<circle cx="460.5" cy="1417.6" r="2.3" fill="url(#gs2)"/>
<circle cx="443.5" cy="1421.6" r="2.9" fill="url(#gs2)"/>
<circle cx="392.9" cy="1417.6" r="2.5" fill="url(#gs2)"/>
<circle cx="465.0" cy="1420.4" r="2.3" fill="url(#gs2)"/>
<circle cx="432.8" cy="1419.5" r="2.3" fill="url(#gs2)"/>
<circle cx="399.7" cy="1415.6" r="2.4" fill="url(#gs2)"/>
<circle cx="439.4" cy="1423.3" r="2.4" fill="url(#gs2)"/>
<circle cx="411.5" cy="1416.7" r="2.4" fill="url(#gs2)"/>
<circle cx="457.3" cy="1416.1" r="2.4" fill="url(#gs2)"/>
<circle cx="406.4" cy="1418.9" r="2.7" fill="url(#gs2)"/>
<circle cx="451.5" cy="1417.3" r="2.7" fill="url(#gs2)"/>
<circle cx="479.1" cy="1417.9" r="2.3" fill="url(#gs2)"/>
<circle cx="438.9" cy="1418.7" r="2.4" fill="url(#gs2)"/>
<circle cx="415.8" cy="1421.6" r="2.6" fill="url(#gs2)"/>
<circle cx="434.8" cy="1417.8" r="2.6" fill="url(#gs2)"/>
<circle cx="460.1" cy="1424.0" r="3.0" fill="url(#gs2)"/>
<circle cx="430.3" cy="1424.1" r="2.9" fill="url(#gs2)"/>
<circle cx="413.3" cy="1425.2" r="2.6" fill="url(#gs2)"/>
<circle cx="406.1" cy="1423.1" r="2.5" fill="url(#gs2)"/>
<circle cx="431.2" cy="1420.6" r="2.7" fill="url(#gs2)"/>
<circle cx="468.0" cy="1421.0" r="2.8" fill="url(#gs2)"/>
<circle cx="447.5" cy="1417.7" r="2.4" fill="url(#gs2)"/>
<circle cx="425.5" cy="1417.6" r="2.6" fill="url(#gs2)"/>
<circle cx="433.6" cy="1421.4" r="2.8" fill="url(#gs2)"/>
<circle cx="450.0" cy="1424.7" r="2.3" fill="url(#gs2)"/>
<circle cx="447.0" cy="1423.0" r="2.3" fill="url(#gs2)"/>
<circle cx="473.7" cy="1424.9" r="2.9" fill="url(#gs2)"/>
<circle cx="438.2" cy="1421.2" r="2.5" fill="url(#gs2)"/>
<circle cx="462.5" cy="1425.9" r="2.5" fill="url(#gs2)"/>
<circle cx="451.7" cy="1420.3" r="2.6" fill="url(#gs2)"/>
<circle cx="463.5" cy="1422.6" r="3.0" fill="url(#gs2)"/>
<circle cx="398.4" cy="1420.2" r="2.9" fill="url(#gs2)"/>
<circle cx="453.8" cy="1419.2" r="2.8" fill="url(#gs2)"/>
<circle cx="394.5" cy="1420.1" r="3.1" fill="url(#gs2)"/>
<circle cx="393.2" cy="1421.7" r="2.5" fill="url(#gs2)"/>
<circle cx="436.2" cy="1420.7" r="2.6" fill="url(#gs2)"/>
<circle cx="444.9" cy="1419.5" r="2.6" fill="url(#gs2)"/>
<circle cx="452.6" cy="1426.0" r="3.0" fill="url(#gs2)"/>
<circle cx="423.2" cy="1423.3" r="2.4" fill="url(#gs2)"/>
<circle cx="476.6" cy="1421.9" r="2.4" fill="url(#gs2)"/>
<circle cx="420.7" cy="1420.4" r="2.6" fill="url(#gs2)"/>
<circle cx="454.5" cy="1422.7" r="2.7" fill="url(#gs2)"/>
<circle cx="441.1" cy="1421.7" r="3.0" fill="url(#gs2)"/>
<circle cx="398.3" cy="1427.2" r="2.3" fill="url(#gs2)"/>
<circle cx="461.1" cy="1420.8" r="2.3" fill="url(#gs2)"/>
<circle cx="411.8" cy="1427.3" r="2.4" fill="url(#gs2)"/>
<circle cx="478.6" cy="1421.0" r="2.9" fill="url(#gs2)"/>
<circle cx="395.2" cy="1427.7" r="2.7" fill="url(#gs2)"/>
<circle cx="422.6" cy="1421.3" r="2.3" fill="url(#gs2)"/>
<circle cx="459.7" cy="1426.7" r="2.8" fill="url(#gs2)"/>
<circle cx="410.7" cy="1421.0" r="2.4" fill="url(#gs2)"/>
<circle cx="420.0" cy="1423.4" r="3.0" fill="url(#gs2)"/>
<circle cx="408.6" cy="1423.0" r="2.6" fill="url(#gs2)"/>
<circle cx="481.0" cy="1421.8" r="2.6" fill="url(#gs2)"/>
<circle cx="408.5" cy="1426.3" r="2.8" fill="url(#gs2)"/>
<circle cx="479.1" cy="1424.8" r="2.8" fill="url(#gs2)"/>
<circle cx="403.9" cy="1422.9" r="2.9" fill="url(#gs2)"/>
<circle cx="474.2" cy="1421.1" r="2.9" fill="url(#gs2)"/>
<circle cx="417.7" cy="1425.4" r="2.9" fill="url(#gs2)"/>
<circle cx="466.8" cy="1425.6" r="2.3" fill="url(#gs2)"/>
<circle cx="452.2" cy="1423.5" r="2.9" fill="url(#gs2)"/>
<circle cx="415.1" cy="1426.9" r="2.9" fill="url(#gs2)"/>
<circle cx="438.4" cy="1427.1" r="2.6" fill="url(#gs2)"/>
<circle cx="428.2" cy="1428.2" r="2.7" fill="url(#gs2)"/>
<circle cx="477.8" cy="1427.2" r="2.6" fill="url(#gs2)"/>
<circle cx="394.8" cy="1423.5" r="2.3" fill="url(#gs2)"/>
<circle cx="400.7" cy="1429.6" r="2.5" fill="url(#gs2)"/>
<circle cx="427.7" cy="1423.5" r="2.5" fill="url(#gs2)"/>
<circle cx="452.0" cy="1428.3" r="2.4" fill="url(#gs2)"/>
<circle cx="400.8" cy="1427.3" r="2.4" fill="url(#gs2)"/>
<circle cx="436.9" cy="1423.9" r="2.9" fill="url(#gs2)"/>
<circle cx="431.9" cy="1426.3" r="2.3" fill="url(#gs2)"/>
<circle cx="441.3" cy="1428.6" r="2.4" fill="url(#gs2)"/>
<circle cx="468.5" cy="1428.3" r="2.8" fill="url(#gs2)"/>
<circle cx="446.6" cy="1425.2" r="3.0" fill="url(#gs2)"/>
<circle cx="467.1" cy="1431.1" r="2.8" fill="url(#gs2)"/>
<circle cx="400.7" cy="1425.2" r="2.8" fill="url(#gs2)"/>
<circle cx="471.2" cy="1425.2" r="2.8" fill="url(#gs2)"/>
<circle cx="391.8" cy="1428.4" r="2.9" fill="url(#gs2)"/>
<circle cx="456.7" cy="1427.5" r="2.7" fill="url(#gs2)"/>
<circle cx="433.3" cy="1424.0" r="2.9" fill="url(#gs2)"/>
<circle cx="403.7" cy="1426.5" r="2.7" fill="url(#gs2)"/>
<circle cx="468.6" cy="1425.2" r="3.0" fill="url(#gs2)"/>
<circle cx="438.0" cy="1430.2" r="2.7" fill="url(#gs2)"/>
<circle cx="416.4" cy="1431.9" r="2.4" fill="url(#gs2)"/>
<circle cx="396.3" cy="1425.0" r="2.9" fill="url(#gs2)"/>
<circle cx="391.2" cy="1430.8" r="2.5" fill="url(#gs2)"/>
<circle cx="421.6" cy="1429.0" r="2.9" fill="url(#gs2)"/>
<circle cx="444.0" cy="1430.9" r="3.0" fill="url(#gs2)"/>
<circle cx="434.1" cy="1431.9" r="2.4" fill="url(#gs2)"/>
<circle cx="392.9" cy="1426.6" r="2.4" fill="url(#gs2)"/>
<circle cx="405.7" cy="1425.2" r="3.0" fill="url(#gs2)"/>
<circle cx="475.0" cy="1428.4" r="2.9" fill="url(#gs2)"/>
<circle cx="444.4" cy="1426.0" r="2.5" fill="url(#gs2)"/>
<circle cx="424.4" cy="1426.7" r="2.4" fill="url(#gs2)"/>
<circle cx="471.3" cy="1428.5" r="2.5" fill="url(#gs2)"/>
<circle cx="421.8" cy="1425.8" r="2.6" fill="url(#gs2)"/>
<circle cx="414.3" cy="1430.5" r="2.6" fill="url(#gs2)"/>
<circle cx="454.1" cy="1431.9" r="2.5" fill="url(#gs2)"/>
<circle cx="460.0" cy="1429.8" r="2.3" fill="url(#gs2)"/>
<circle cx="419.3" cy="1427.5" r="2.9" fill="url(#gs2)"/>
<circle cx="425.2" cy="1431.3" r="2.3" fill="url(#gs2)"/>
<circle cx="396.6" cy="1429.4" r="2.6" fill="url(#gs2)"/>
<circle cx="449.0" cy="1428.5" r="2.9" fill="url(#gs2)"/>
<circle cx="405.5" cy="1428.5" r="2.7" fill="url(#gs2)"/>
<circle cx="450.2" cy="1431.9" r="2.8" fill="url(#gs2)"/>
<circle cx="399.2" cy="1433.2" r="2.9" fill="url(#gs2)"/>
<circle cx="438.7" cy="1433.9" r="2.4" fill="url(#gs2)"/>
<circle cx="434.4" cy="1428.1" r="2.7" fill="url(#gs2)"/>
<circle cx="463.0" cy="1434.0" r="2.3" fill="url(#gs2)"/>
<circle cx="462.1" cy="1428.8" r="2.9" fill="url(#gs2)"/>
<circle cx="452.7" cy="1434.4" r="2.7" fill="url(#gs2)"/>
<circle cx="431.9" cy="1431.0" r="3.0" fill="url(#gs2)"/>
<circle cx="419.2" cy="1430.5" r="2.7" fill="url(#gs2)"/>
<circle cx="423.0" cy="1431.9" r="2.5" fill="url(#gs2)"/>
<circle cx="417.2" cy="1429.2" r="2.6" fill="url(#gs2)"/>
<circle cx="405.5" cy="1430.7" r="3.1" fill="url(#gs2)"/>
<circle cx="390.8" cy="1434.3" r="2.5" fill="url(#gs2)"/>
<circle cx="398.8" cy="1435.4" r="2.5" fill="url(#gs2)"/>
<circle cx="416.7" cy="1434.2" r="2.5" fill="url(#gs2)"/>
<circle cx="409.1" cy="1430.6" r="2.7" fill="url(#gs2)"/>
<circle cx="398.2" cy="1431.0" r="2.8" fill="url(#gs2)"/>
<circle cx="416.5" cy="1436.6" r="2.6" fill="url(#gs2)"/>
<circle cx="465.3" cy="1429.7" r="2.8" fill="url(#gs2)"/>
<circle cx="457.7" cy="1431.8" r="2.5" fill="url(#gs2)"/>
<circle cx="445.7" cy="1437.4" r="2.8" fill="url(#gs2)"/>
<circle cx="466.9" cy="1437.2" r="2.6" fill="url(#gs2)"/>
<circle cx="403.4" cy="1430.4" r="2.5" fill="url(#gs2)"/>
<circle cx="406.8" cy="1436.5" r="2.5" fill="url(#gs2)"/>
<circle cx="427.8" cy="1432.4" r="3.0" fill="url(#gs2)"/>
<circle cx="447.2" cy="1430.0" r="2.3" fill="url(#gs2)"/>
<circle cx="461.2" cy="1431.9" r="3.1" fill="url(#gs2)"/>
<circle cx="414.3" cy="1436.3" r="2.3" fill="url(#gs2)"/>
<circle cx="431.7" cy="1437.6" r="2.6" fill="url(#gs2)"/>
<circle cx="394.1" cy="1434.1" r="2.7" fill="url(#gs2)"/>
<circle cx="470.8" cy="1432.3" r="2.7" fill="url(#gs2)"/>
<circle cx="461.8" cy="1436.3" r="3.0" fill="url(#gs2)"/>
<circle cx="411.1" cy="1431.5" r="2.3" fill="url(#gs2)"/>
<circle cx="420.8" cy="1434.2" r="2.9" fill="url(#gs2)"/>
<circle cx="436.1" cy="1431.3" r="2.9" fill="url(#gs2)"/>
<circle cx="418.0" cy="1438.9" r="2.6" fill="url(#gs2)"/>
<circle cx="396.1" cy="1439.6" r="2.7" fill="url(#gs2)"/>
<circle cx="413.6" cy="1433.0" r="2.7" fill="url(#gs2)"/>
<circle cx="405.0" cy="1433.9" r="2.8" fill="url(#gs2)"/>
<circle cx="455.2" cy="1436.3" r="2.5" fill="url(#gs2)"/>
<circle cx="458.8" cy="1434.0" r="3.0" fill="url(#gs2)"/>
<circle cx="445.6" cy="1432.5" r="2.7" fill="url(#gs2)"/>
<circle cx="470.7" cy="1434.6" r="2.4" fill="url(#gs2)"/>
<circle cx="464.7" cy="1432.6" r="2.8" fill="url(#gs2)"/>
<circle cx="467.7" cy="1439.6" r="2.7" fill="url(#gs2)"/>
<circle cx="460.2" cy="1439.1" r="2.9" fill="url(#gs2)"/>
<circle cx="399.4" cy="1439.5" r="2.7" fill="url(#gs2)"/>
<circle cx="424.8" cy="1434.2" r="2.5" fill="url(#gs2)"/>
<circle cx="408.7" cy="1439.7" r="3.0" fill="url(#gs2)"/>
<circle cx="470.0" cy="1436.7" r="3.0" fill="url(#gs2)"/>
<circle cx="422.5" cy="1437.1" r="2.9" fill="url(#gs2)"/>
<circle cx="449.1" cy="1436.3" r="2.7" fill="url(#gs2)"/>
<circle cx="464.9" cy="1438.3" r="2.8" fill="url(#gs2)"/>
<circle cx="435.3" cy="1434.4" r="2.5" fill="url(#gs2)"/>
<circle cx="407.6" cy="1433.7" r="2.6" fill="url(#gs2)"/>
<circle cx="440.4" cy="1436.6" r="2.9" fill="url(#gs2)"/>
<circle cx="410.6" cy="1435.8" r="2.8" fill="url(#gs2)"/>
<circle cx="401.4" cy="1434.8" r="2.9" fill="url(#gs2)"/>
<circle cx="467.4" cy="1433.7" r="2.6" fill="url(#gs2)"/>
<circle cx="432.8" cy="1433.9" r="2.9" fill="url(#gs2)"/>
<circle cx="396.5" cy="1434.3" r="2.9" fill="url(#gs2)"/>
<circle cx="454.5" cy="1441.6" r="2.8" fill="url(#gs2)"/>
<circle cx="394.0" cy="1438.3" r="2.5" fill="url(#gs2)"/>
<circle cx="428.1" cy="1434.4" r="2.4" fill="url(#gs2)"/>
<circle cx="402.2" cy="1440.5" r="2.8" fill="url(#gs2)"/>
<circle cx="434.5" cy="1438.4" r="2.8" fill="url(#gs2)"/>
<circle cx="407.2" cy="1442.0" r="2.9" fill="url(#gs2)"/>
<circle cx="451.6" cy="1441.0" r="2.4" fill="url(#gs2)"/>
<circle cx="393.0" cy="1436.4" r="2.8" fill="url(#gs2)"/>
<circle cx="401.9" cy="1438.3" r="2.7" fill="url(#gs2)"/>
<circle cx="457.7" cy="1441.6" r="2.9" fill="url(#gs2)"/>
<circle cx="442.6" cy="1436.7" r="2.7" fill="url(#gs2)"/>
<circle cx="438.3" cy="1443.1" r="2.5" fill="url(#gs2)"/>
<circle cx="428.2" cy="1436.7" r="2.3" fill="url(#gs2)"/>
<circle cx="452.3" cy="1437.1" r="2.4" fill="url(#gs2)"/>
<circle cx="445.3" cy="1441.8" r="2.4" fill="url(#gs2)"/>
<circle cx="404.8" cy="1438.5" r="2.5" fill="url(#gs2)"/>
<circle cx="427.2" cy="1438.4" r="3.0" fill="url(#gs2)"/>
<circle cx="396.7" cy="1442.3" r="3.0" fill="url(#gs2)"/>
<circle cx="417.6" cy="1441.5" r="2.5" fill="url(#gs2)"/>
<circle cx="453.8" cy="1443.8" r="3.0" fill="url(#gs2)"/>
<circle cx="425.0" cy="1440.1" r="2.9" fill="url(#gs2)"/>
<circle cx="394.2" cy="1442.0" r="2.3" fill="url(#gs2)"/>
<circle cx="414.5" cy="1440.6" r="2.9" fill="url(#gs2)"/>
<circle cx="391.3" cy="1438.0" r="2.3" fill="url(#gs2)"/>
<circle cx="436.8" cy="1438.1" r="3.0" fill="url(#gs2)"/>
<circle cx="423.0" cy="1440.8" r="2.5" fill="url(#gs2)"/>
<circle cx="430.6" cy="1441.6" r="3.1" fill="url(#gs2)"/>
<circle cx="447.7" cy="1443.6" r="3.0" fill="url(#gs2)"/>
<circle cx="448.5" cy="1445.9" r="2.6" fill="url(#gs2)"/>
<circle cx="462.5" cy="1442.7" r="2.5" fill="url(#gs2)"/>
<circle cx="459.6" cy="1445.4" r="2.9" fill="url(#gs2)"/>
<circle cx="437.4" cy="1441.1" r="2.8" fill="url(#gs2)"/>
<circle cx="447.3" cy="1439.4" r="2.4" fill="url(#gs2)"/>
<circle cx="399.2" cy="1445.7" r="2.4" fill="url(#gs2)"/>
<circle cx="440.6" cy="1442.2" r="2.5" fill="url(#gs2)"/>
<circle cx="435.9" cy="1443.5" r="2.8" fill="url(#gs2)"/>
<circle cx="443.5" cy="1439.1" r="2.3" fill="url(#gs2)"/>
<circle cx="415.8" cy="1443.3" r="2.4" fill="url(#gs2)"/>
<circle cx="459.3" cy="1443.1" r="2.4" fill="url(#gs2)"/>
<circle cx="450.9" cy="1439.2" r="3.1" fill="url(#gs2)"/>
<circle cx="431.1" cy="1444.4" r="2.3" fill="url(#gs2)"/>
<circle cx="456.8" cy="1445.4" r="2.4" fill="url(#gs2)"/>
<circle cx="400.0" cy="1442.3" r="2.6" fill="url(#gs2)"/>
<circle cx="427.1" cy="1448.0" r="2.9" fill="url(#gs2)"/>
<circle cx="412.0" cy="1444.7" r="2.6" fill="url(#gs2)"/>
<circle cx="419.6" cy="1448.9" r="2.3" fill="url(#gs2)"/>
<circle cx="414.0" cy="1445.9" r="2.5" fill="url(#gs2)"/>
<circle cx="428.3" cy="1442.2" r="3.0" fill="url(#gs2)"/>
<circle cx="413.8" cy="1448.2" r="2.5" fill="url(#gs2)"/>
<circle cx="418.4" cy="1444.0" r="3.1" fill="url(#gs2)"/>
<circle cx="401.2" cy="1445.7" r="2.6" fill="url(#gs2)"/>
<circle cx="432.7" cy="1442.8" r="2.9" fill="url(#gs2)"/>
<circle cx="412.6" cy="1442.5" r="2.5" fill="url(#gs2)"/>
<circle cx="404.3" cy="1443.0" r="2.6" fill="url(#gs2)"/>
<circle cx="454.3" cy="1446.9" r="2.4" fill="url(#gs2)"/>
<circle cx="422.4" cy="1449.1" r="2.8" fill="url(#gs2)"/>
<circle cx="402.9" cy="1450.1" r="2.6" fill="url(#gs2)"/>
<circle cx="397.3" cy="1444.9" r="2.7" fill="url(#gs2)"/>
<circle cx="398.8" cy="1448.6" r="2.5" fill="url(#gs2)"/>
<circle cx="410.0" cy="1444.3" r="2.3" fill="url(#gs2)"/>
<circle cx="436.4" cy="1446.2" r="2.9" fill="url(#gs2)"/>
<circle cx="421.1" cy="1446.0" r="2.3" fill="url(#gs2)"/>
<circle cx="427.5" cy="1445.7" r="2.8" fill="url(#gs2)"/>
<circle cx="443.5" cy="1444.7" r="2.8" fill="url(#gs2)"/>
<circle cx="418.2" cy="1446.9" r="3.1" fill="url(#gs2)"/>
<circle cx="423.5" cy="1445.4" r="2.5" fill="url(#gs2)"/>
<circle cx="431.4" cy="1446.4" r="2.4" fill="url(#gs2)"/>
<circle cx="439.6" cy="1446.3" r="2.4" fill="url(#gs2)"/>
<circle cx="406.8" cy="1446.0" r="3.0" fill="url(#gs2)"/>
<circle cx="425.9" cy="1449.7" r="2.5" fill="url(#gs2)"/>
<circle cx="421.9" cy="1450.9" r="2.3" fill="url(#gs2)"/>
<circle cx="445.1" cy="1446.7" r="2.6" fill="url(#gs2)"/>
<circle cx="411.5" cy="1447.3" r="2.5" fill="url(#gs2)"/>
<circle cx="416.6" cy="1449.6" r="2.4" fill="url(#gs2)"/>
<circle cx="434.1" cy="1448.0" r="3.1" fill="url(#gs2)"/>
<circle cx="428.9" cy="1450.1" r="3.0" fill="url(#gs2)"/>
<circle cx="408.7" cy="1452.6" r="3.0" fill="url(#gs2)"/>
<circle cx="437.8" cy="1451.1" r="2.9" fill="url(#gs2)"/>
<circle cx="441.8" cy="1447.7" r="2.4" fill="url(#gs2)"/>
<circle cx="405.2" cy="1451.5" r="2.5" fill="url(#gs2)"/>
<circle cx="452.6" cy="1448.7" r="2.7" fill="url(#gs2)"/>
<circle cx="423.8" cy="1452.1" r="2.7" fill="url(#gs2)"/>
<circle cx="401.2" cy="1447.5" r="2.3" fill="url(#gs2)"/>
<circle cx="445.8" cy="1448.7" r="2.6" fill="url(#gs2)"/>
<circle cx="437.2" cy="1448.3" r="2.4" fill="url(#gs2)"/>
<circle cx="418.3" cy="1451.6" r="3.0" fill="url(#gs2)"/>
<circle cx="434.1" cy="1451.2" r="2.8" fill="url(#gs2)"/>
<circle cx="411.7" cy="1451.9" r="2.9" fill="url(#gs2)"/>
<circle cx="430.2" cy="1453.3" r="2.6" fill="url(#gs2)"/>
<circle cx="426.7" cy="1452.1" r="3.0" fill="url(#gs2)"/>
<circle cx="411.8" cy="1456.4" r="2.9" fill="url(#gs2)"/>
<circle cx="432.3" cy="1449.5" r="2.6" fill="url(#gs2)"/>
<circle cx="415.4" cy="1451.1" r="2.7" fill="url(#gs2)"/>
<circle cx="418.7" cy="1456.4" r="3.0" fill="url(#gs2)"/>
<circle cx="410.3" cy="1453.9" r="2.5" fill="url(#gs2)"/>
<circle cx="414.2" cy="1457.7" r="2.7" fill="url(#gs2)"/>
<circle cx="427.1" cy="1454.2" r="2.6" fill="url(#gs2)"/>
<circle cx="417.0" cy="1454.3" r="2.7" fill="url(#gs2)"/>
<circle cx="424.4" cy="1454.6" r="2.9" fill="url(#gs2)"/>
<circle cx="416.5" cy="1457.1" r="2.6" fill="url(#gs2)"/>
<polygon points="447.7,1465.6 455.6,1449.2 485.0,1447.0 506.0,1455.0 525.0,1465.0 530.4,1473.5 525.0,1494.5 512.0,1508.3 493.0,1516.2 466.7,1514.8 458.2,1505.6 450.3,1486.6" fill="#161616"/>
<circle cx="466.7" cy="1449.1" r="2.4" fill="url(#bs2)"/>
<circle cx="468.6" cy="1448.3" r="2.4" fill="url(#bs2)"/>
<circle cx="471.5" cy="1449.3" r="2.6" fill="url(#bs2)"/>
<circle cx="483.1" cy="1450.4" r="2.4" fill="url(#bs2)"/>
<circle cx="475.8" cy="1448.0" r="3.1" fill="url(#bs2)"/>
<circle cx="470.4" cy="1451.5" r="2.7" fill="url(#bs2)"/>
<circle cx="480.5" cy="1448.5" r="2.8" fill="url(#bs2)"/>
<circle cx="477.6" cy="1451.1" r="2.8" fill="url(#bs2)"/>
<circle cx="494.1" cy="1450.6" r="2.5" fill="url(#bs2)"/>
<circle cx="456.0" cy="1449.6" r="3.0" fill="url(#bs2)"/>
<circle cx="496.8" cy="1454.8" r="2.5" fill="url(#bs2)"/>
<circle cx="464.2" cy="1451.5" r="2.9" fill="url(#bs2)"/>
<circle cx="473.5" cy="1451.8" r="2.4" fill="url(#bs2)"/>
<circle cx="473.9" cy="1449.2" r="2.4" fill="url(#bs2)"/>
<circle cx="459.6" cy="1450.6" r="2.4" fill="url(#bs2)"/>
<circle cx="491.2" cy="1452.4" r="2.7" fill="url(#bs2)"/>
<circle cx="460.6" cy="1455.3" r="2.7" fill="url(#bs2)"/>
<circle cx="482.0" cy="1453.8" r="2.4" fill="url(#bs2)"/>
<circle cx="497.8" cy="1452.5" r="2.9" fill="url(#bs2)"/>
<circle cx="479.9" cy="1454.0" r="2.8" fill="url(#bs2)"/>
<circle cx="455.7" cy="1456.2" r="2.7" fill="url(#bs2)"/>
<circle cx="463.9" cy="1454.2" r="2.7" fill="url(#bs2)"/>
<circle cx="487.1" cy="1450.2" r="2.4" fill="url(#bs2)"/>
<circle cx="486.0" cy="1454.6" r="2.6" fill="url(#bs2)"/>
<circle cx="454.9" cy="1453.6" r="2.9" fill="url(#bs2)"/>
<circle cx="506.7" cy="1455.9" r="3.0" fill="url(#bs2)"/>
<circle cx="474.7" cy="1453.7" r="2.6" fill="url(#bs2)"/>
<circle cx="466.0" cy="1456.5" r="2.6" fill="url(#bs2)"/>
<circle cx="472.1" cy="1453.9" r="2.4" fill="url(#bs2)"/>
<circle cx="509.7" cy="1458.1" r="3.0" fill="url(#bs2)"/>
<circle cx="486.0" cy="1452.3" r="3.0" fill="url(#bs2)"/>
<circle cx="465.0" cy="1459.4" r="2.3" fill="url(#bs2)"/>
<circle cx="502.9" cy="1455.5" r="3.0" fill="url(#bs2)"/>
<circle cx="498.9" cy="1456.4" r="2.4" fill="url(#bs2)"/>
<circle cx="452.4" cy="1457.6" r="2.5" fill="url(#bs2)"/>
<circle cx="478.3" cy="1459.6" r="2.8" fill="url(#bs2)"/>
<circle cx="491.8" cy="1455.2" r="2.9" fill="url(#bs2)"/>
<circle cx="474.5" cy="1458.3" r="2.4" fill="url(#bs2)"/>
<circle cx="496.4" cy="1457.4" r="2.9" fill="url(#bs2)"/>
<circle cx="458.3" cy="1454.8" r="3.0" fill="url(#bs2)"/>
<circle cx="488.6" cy="1456.9" r="2.3" fill="url(#bs2)"/>
<circle cx="494.2" cy="1454.6" r="2.5" fill="url(#bs2)"/>
<circle cx="482.3" cy="1458.5" r="3.0" fill="url(#bs2)"/>
<circle cx="452.2" cy="1461.3" r="3.0" fill="url(#bs2)"/>
<circle cx="451.3" cy="1459.5" r="2.4" fill="url(#bs2)"/>
<circle cx="498.8" cy="1459.7" r="2.5" fill="url(#bs2)"/>
<circle cx="472.2" cy="1456.4" r="2.7" fill="url(#bs2)"/>
<circle cx="479.7" cy="1456.5" r="3.0" fill="url(#bs2)"/>
<circle cx="487.8" cy="1460.5" r="2.6" fill="url(#bs2)"/>
<circle cx="476.8" cy="1454.2" r="2.8" fill="url(#bs2)"/>
<circle cx="493.3" cy="1460.6" r="2.6" fill="url(#bs2)"/>
<circle cx="463.0" cy="1459.7" r="2.4" fill="url(#bs2)"/>
<circle cx="486.3" cy="1457.1" r="2.8" fill="url(#bs2)"/>
<circle cx="484.3" cy="1456.2" r="2.6" fill="url(#bs2)"/>
<circle cx="501.8" cy="1457.6" r="2.7" fill="url(#bs2)"/>
<circle cx="468.0" cy="1455.6" r="3.0" fill="url(#bs2)"/>
<circle cx="507.4" cy="1458.0" r="2.4" fill="url(#bs2)"/>
<circle cx="492.6" cy="1462.7" r="2.9" fill="url(#bs2)"/>
<circle cx="472.9" cy="1462.1" r="2.5" fill="url(#bs2)"/>
<circle cx="506.9" cy="1463.1" r="2.7" fill="url(#bs2)"/>
<circle cx="469.9" cy="1462.0" r="2.5" fill="url(#bs2)"/>
<circle cx="456.4" cy="1463.0" r="2.6" fill="url(#bs2)"/>
<circle cx="515.9" cy="1463.6" r="2.4" fill="url(#bs2)"/>
<circle cx="494.5" cy="1464.0" r="2.6" fill="url(#bs2)"/>
<circle cx="505.5" cy="1458.8" r="3.0" fill="url(#bs2)"/>
<circle cx="456.2" cy="1460.8" r="2.9" fill="url(#bs2)"/>
<circle cx="489.5" cy="1462.2" r="2.9" fill="url(#bs2)"/>
<circle cx="503.7" cy="1461.8" r="2.6" fill="url(#bs2)"/>
<circle cx="462.8" cy="1462.7" r="2.8" fill="url(#bs2)"/>
<circle cx="496.2" cy="1460.2" r="2.4" fill="url(#bs2)"/>
<circle cx="511.2" cy="1460.5" r="2.6" fill="url(#bs2)"/>
<circle cx="505.8" cy="1461.4" r="2.4" fill="url(#bs2)"/>
<circle cx="522.6" cy="1466.3" r="2.7" fill="url(#bs2)"/>
<circle cx="455.2" cy="1466.0" r="3.0" fill="url(#bs2)"/>
<circle cx="486.2" cy="1459.3" r="2.5" fill="url(#bs2)"/>
<circle cx="505.7" cy="1465.0" r="2.4" fill="url(#bs2)"/>
<circle cx="467.9" cy="1459.9" r="2.3" fill="url(#bs2)"/>
<circle cx="462.6" cy="1464.7" r="2.4" fill="url(#bs2)"/>
<circle cx="472.7" cy="1467.5" r="2.9" fill="url(#bs2)"/>
<circle cx="465.1" cy="1461.9" r="2.9" fill="url(#bs2)"/>
<circle cx="500.2" cy="1467.2" r="3.0" fill="url(#bs2)"/>
<circle cx="450.0" cy="1464.6" r="2.3" fill="url(#bs2)"/>
<circle cx="525.0" cy="1465.5" r="2.9" fill="url(#bs2)"/>
<circle cx="493.8" cy="1466.5" r="3.0" fill="url(#bs2)"/>
<circle cx="448.3" cy="1468.2" r="2.4" fill="url(#bs2)"/>
<circle cx="526.9" cy="1468.8" r="2.7" fill="url(#bs2)"/>
<circle cx="520.3" cy="1464.9" r="2.9" fill="url(#bs2)"/>
<circle cx="513.2" cy="1463.0" r="2.6" fill="url(#bs2)"/>
<circle cx="489.2" cy="1466.7" r="2.9" fill="url(#bs2)"/>
<circle cx="485.9" cy="1468.6" r="3.0" fill="url(#bs2)"/>
<circle cx="479.6" cy="1461.5" r="2.4" fill="url(#bs2)"/>
<circle cx="460.2" cy="1461.8" r="2.6" fill="url(#bs2)"/>
<circle cx="503.1" cy="1465.2" r="2.7" fill="url(#bs2)"/>
<circle cx="501.1" cy="1464.2" r="2.8" fill="url(#bs2)"/>
<circle cx="482.6" cy="1461.8" r="2.8" fill="url(#bs2)"/>
<circle cx="476.1" cy="1462.8" r="2.7" fill="url(#bs2)"/>
<circle cx="498.4" cy="1466.1" r="2.5" fill="url(#bs2)"/>
<circle cx="519.4" cy="1462.4" r="3.0" fill="url(#bs2)"/>
<circle cx="481.8" cy="1463.9" r="3.0" fill="url(#bs2)"/>
<circle cx="508.5" cy="1467.0" r="3.0" fill="url(#bs2)"/>
<circle cx="497.8" cy="1463.4" r="3.1" fill="url(#bs2)"/>
<circle cx="448.1" cy="1465.4" r="3.0" fill="url(#bs2)"/>
<circle cx="460.4" cy="1465.2" r="3.0" fill="url(#bs2)"/>
<circle cx="517.4" cy="1467.5" r="2.4" fill="url(#bs2)"/>
<circle cx="449.8" cy="1466.8" r="2.4" fill="url(#bs2)"/>
<circle cx="474.5" cy="1464.7" r="2.7" fill="url(#bs2)"/>
<circle cx="466.5" cy="1463.8" r="2.9" fill="url(#bs2)"/>
<circle cx="448.7" cy="1471.4" r="2.7" fill="url(#bs2)"/>
<circle cx="455.0" cy="1469.8" r="2.8" fill="url(#bs2)"/>
<circle cx="483.5" cy="1469.5" r="2.9" fill="url(#bs2)"/>
<circle cx="472.7" cy="1470.0" r="2.8" fill="url(#bs2)"/>
<circle cx="506.8" cy="1468.2" r="2.4" fill="url(#bs2)"/>
<circle cx="461.1" cy="1469.0" r="2.4" fill="url(#bs2)"/>
<circle cx="477.7" cy="1468.5" r="2.7" fill="url(#bs2)"/>
<circle cx="464.5" cy="1469.3" r="2.5" fill="url(#bs2)"/>
<circle cx="469.5" cy="1472.6" r="3.1" fill="url(#bs2)"/>
<circle cx="478.7" cy="1465.1" r="2.7" fill="url(#bs2)"/>
<circle cx="493.2" cy="1469.7" r="2.5" fill="url(#bs2)"/>
<circle cx="517.7" cy="1469.5" r="2.7" fill="url(#bs2)"/>
<circle cx="466.9" cy="1466.4" r="2.9" fill="url(#bs2)"/>
<circle cx="523.6" cy="1469.1" r="2.5" fill="url(#bs2)"/>
<circle cx="508.3" cy="1469.9" r="2.4" fill="url(#bs2)"/>
<circle cx="479.7" cy="1472.0" r="2.8" fill="url(#bs2)"/>
<circle cx="458.5" cy="1466.1" r="2.3" fill="url(#bs2)"/>
<circle cx="484.0" cy="1465.9" r="2.8" fill="url(#bs2)"/>
<circle cx="470.5" cy="1469.0" r="2.9" fill="url(#bs2)"/>
<circle cx="499.0" cy="1469.6" r="2.4" fill="url(#bs2)"/>
<circle cx="467.5" cy="1468.3" r="2.3" fill="url(#bs2)"/>
<circle cx="481.0" cy="1469.7" r="2.6" fill="url(#bs2)"/>
<circle cx="513.3" cy="1466.8" r="2.4" fill="url(#bs2)"/>
<circle cx="519.0" cy="1471.8" r="3.0" fill="url(#bs2)"/>
<circle cx="504.1" cy="1467.6" r="3.1" fill="url(#bs2)"/>
<circle cx="487.9" cy="1470.4" r="2.6" fill="url(#bs2)"/>
<circle cx="474.9" cy="1470.8" r="2.8" fill="url(#bs2)"/>
<circle cx="505.8" cy="1473.3" r="3.0" fill="url(#bs2)"/>
<circle cx="517.4" cy="1473.1" r="2.5" fill="url(#bs2)"/>
<circle cx="458.0" cy="1470.1" r="2.9" fill="url(#bs2)"/>
<circle cx="487.0" cy="1475.2" r="2.4" fill="url(#bs2)"/>
<circle cx="491.4" cy="1474.1" r="2.5" fill="url(#bs2)"/>
<circle cx="465.3" cy="1473.0" r="2.4" fill="url(#bs2)"/>
<circle cx="502.9" cy="1474.5" r="3.1" fill="url(#bs2)"/>
<circle cx="490.3" cy="1471.7" r="2.4" fill="url(#bs2)"/>
<circle cx="471.8" cy="1471.9" r="2.4" fill="url(#bs2)"/>
<circle cx="481.2" cy="1475.3" r="2.7" fill="url(#bs2)"/>
<circle cx="493.7" cy="1475.1" r="2.3" fill="url(#bs2)"/>
<circle cx="527.7" cy="1470.9" r="2.9" fill="url(#bs2)"/>
<circle cx="514.9" cy="1470.6" r="2.5" fill="url(#bs2)"/>
<circle cx="451.3" cy="1473.8" r="3.0" fill="url(#bs2)"/>
<circle cx="524.8" cy="1472.8" r="3.0" fill="url(#bs2)"/>
<circle cx="521.1" cy="1470.3" r="2.7" fill="url(#bs2)"/>
<circle cx="489.7" cy="1475.5" r="2.4" fill="url(#bs2)"/>
<circle cx="463.7" cy="1471.3" r="2.6" fill="url(#bs2)"/>
<circle cx="515.2" cy="1476.2" r="3.0" fill="url(#bs2)"/>
<circle cx="509.6" cy="1476.0" r="2.8" fill="url(#bs2)"/>
<circle cx="483.6" cy="1474.2" r="2.5" fill="url(#bs2)"/>
<circle cx="460.7" cy="1472.0" r="2.8" fill="url(#bs2)"/>
<circle cx="458.1" cy="1473.1" r="2.6" fill="url(#bs2)"/>
<circle cx="495.7" cy="1472.1" r="2.8" fill="url(#bs2)"/>
<circle cx="468.9" cy="1474.9" r="2.8" fill="url(#bs2)"/>
<circle cx="454.5" cy="1478.2" r="2.9" fill="url(#bs2)"/>
<circle cx="525.6" cy="1475.3" r="2.4" fill="url(#bs2)"/>
<circle cx="470.7" cy="1477.0" r="2.7" fill="url(#bs2)"/>
<circle cx="513.0" cy="1472.4" r="2.5" fill="url(#bs2)"/>
<circle cx="463.5" cy="1473.7" r="2.9" fill="url(#bs2)"/>
<circle cx="500.7" cy="1475.5" r="2.7" fill="url(#bs2)"/>
<circle cx="518.5" cy="1478.2" r="2.6" fill="url(#bs2)"/>
<circle cx="455.3" cy="1473.1" r="2.5" fill="url(#bs2)"/>
<circle cx="520.1" cy="1474.4" r="2.9" fill="url(#bs2)"/>
<circle cx="484.7" cy="1472.3" r="3.0" fill="url(#bs2)"/>
<circle cx="462.2" cy="1477.4" r="2.5" fill="url(#bs2)"/>
<circle cx="487.9" cy="1477.4" r="2.6" fill="url(#bs2)"/>
<circle cx="511.4" cy="1479.5" r="2.4" fill="url(#bs2)"/>
<circle cx="458.3" cy="1476.5" r="2.7" fill="url(#bs2)"/>
<circle cx="496.0" cy="1476.8" r="2.9" fill="url(#bs2)"/>
<circle cx="473.4" cy="1474.3" r="2.7" fill="url(#bs2)"/>
<circle cx="486.8" cy="1472.7" r="2.6" fill="url(#bs2)"/>
<circle cx="528.3" cy="1473.9" r="2.6" fill="url(#bs2)"/>
<circle cx="466.3" cy="1475.9" r="3.0" fill="url(#bs2)"/>
<circle cx="520.5" cy="1479.1" r="2.3" fill="url(#bs2)"/>
<circle cx="495.6" cy="1479.3" r="2.4" fill="url(#bs2)"/>
<circle cx="522.0" cy="1477.2" r="2.7" fill="url(#bs2)"/>
<circle cx="478.2" cy="1478.2" r="2.6" fill="url(#bs2)"/>
<circle cx="453.2" cy="1475.8" r="3.0" fill="url(#bs2)"/>
<circle cx="454.1" cy="1481.3" r="2.9" fill="url(#bs2)"/>
<circle cx="482.3" cy="1478.9" r="2.4" fill="url(#bs2)"/>
<circle cx="517.2" cy="1482.3" r="3.1" fill="url(#bs2)"/>
<circle cx="474.6" cy="1478.7" r="2.8" fill="url(#bs2)"/>
<circle cx="493.8" cy="1477.6" r="3.0" fill="url(#bs2)"/>
<circle cx="513.2" cy="1475.6" r="2.4" fill="url(#bs2)"/>
<circle cx="490.5" cy="1478.8" r="2.9" fill="url(#bs2)"/>
<circle cx="450.3" cy="1477.1" r="3.1" fill="url(#bs2)"/>
<circle cx="500.4" cy="1479.1" r="2.6" fill="url(#bs2)"/>
<circle cx="513.5" cy="1479.4" r="2.6" fill="url(#bs2)"/>
<circle cx="456.4" cy="1480.8" r="2.8" fill="url(#bs2)"/>
<circle cx="464.1" cy="1482.0" r="2.9" fill="url(#bs2)"/>
<circle cx="472.7" cy="1480.5" r="2.6" fill="url(#bs2)"/>
<circle cx="525.5" cy="1482.3" r="2.8" fill="url(#bs2)"/>
<circle cx="486.1" cy="1483.3" r="2.9" fill="url(#bs2)"/>
<circle cx="518.2" cy="1484.9" r="2.8" fill="url(#bs2)"/>
<circle cx="487.5" cy="1480.7" r="2.7" fill="url(#bs2)"/>
<circle cx="467.5" cy="1479.6" r="2.9" fill="url(#bs2)"/>
<circle cx="485.0" cy="1481.2" r="2.6" fill="url(#bs2)"/>
<circle cx="524.6" cy="1484.9" r="2.6" fill="url(#bs2)"/>
<circle cx="465.6" cy="1478.3" r="2.8" fill="url(#bs2)"/>
<circle cx="484.7" cy="1477.5" r="2.7" fill="url(#bs2)"/>
<circle cx="515.1" cy="1483.6" r="2.6" fill="url(#bs2)"/>
<circle cx="458.4" cy="1480.1" r="2.4" fill="url(#bs2)"/>
<circle cx="497.7" cy="1478.4" r="2.6" fill="url(#bs2)"/>
<circle cx="459.2" cy="1484.0" r="2.6" fill="url(#bs2)"/>
<circle cx="451.9" cy="1480.3" r="2.6" fill="url(#bs2)"/>
<circle cx="524.3" cy="1479.6" r="2.5" fill="url(#bs2)"/>
<circle cx="508.1" cy="1483.6" r="2.5" fill="url(#bs2)"/>
<circle cx="516.7" cy="1479.7" r="2.7" fill="url(#bs2)"/>
<circle cx="471.7" cy="1483.4" r="3.0" fill="url(#bs2)"/>
<circle cx="492.6" cy="1479.7" r="2.4" fill="url(#bs2)"/>
<circle cx="479.3" cy="1484.9" r="2.3" fill="url(#bs2)"/>
<circle cx="520.2" cy="1481.4" r="3.0" fill="url(#bs2)"/>
<circle cx="503.7" cy="1480.1" r="2.6" fill="url(#bs2)"/>
<circle cx="483.0" cy="1482.5" r="2.7" fill="url(#bs2)"/>
<circle cx="497.9" cy="1484.8" r="3.0" fill="url(#bs2)"/>
<circle cx="503.1" cy="1484.0" r="3.1" fill="url(#bs2)"/>
<circle cx="512.9" cy="1487.1" r="2.9" fill="url(#bs2)"/>
<circle cx="512.5" cy="1482.6" r="2.7" fill="url(#bs2)"/>
<circle cx="480.4" cy="1482.7" r="2.8" fill="url(#bs2)"/>
<circle cx="454.9" cy="1486.6" r="2.4" fill="url(#bs2)"/>
<circle cx="480.8" cy="1480.1" r="2.6" fill="url(#bs2)"/>
<circle cx="505.8" cy="1485.3" r="2.9" fill="url(#bs2)"/>
<circle cx="520.9" cy="1483.8" r="3.0" fill="url(#bs2)"/>
<circle cx="497.8" cy="1482.2" r="2.6" fill="url(#bs2)"/>
<circle cx="510.0" cy="1483.7" r="2.4" fill="url(#bs2)"/>
<circle cx="511.9" cy="1484.9" r="2.6" fill="url(#bs2)"/>
<circle cx="481.5" cy="1486.2" r="2.5" fill="url(#bs2)"/>
<circle cx="477.6" cy="1481.1" r="3.1" fill="url(#bs2)"/>
<circle cx="461.2" cy="1487.3" r="2.5" fill="url(#bs2)"/>
<circle cx="476.7" cy="1484.5" r="2.5" fill="url(#bs2)"/>
<circle cx="501.7" cy="1485.2" r="2.3" fill="url(#bs2)"/>
<circle cx="497.4" cy="1487.4" r="3.0" fill="url(#bs2)"/>
<circle cx="456.0" cy="1483.0" r="2.7" fill="url(#bs2)"/>
<circle cx="461.7" cy="1481.7" r="2.3" fill="url(#bs2)"/>
<circle cx="470.5" cy="1486.3" r="2.8" fill="url(#bs2)"/>
<circle cx="504.8" cy="1482.1" r="2.4" fill="url(#bs2)"/>
<circle cx="462.1" cy="1485.2" r="2.7" fill="url(#bs2)"/>
<circle cx="458.8" cy="1486.2" r="2.9" fill="url(#bs2)"/>
<circle cx="465.7" cy="1483.0" r="2.3" fill="url(#bs2)"/>
<circle cx="477.3" cy="1486.7" r="2.5" fill="url(#bs2)"/>
<circle cx="484.0" cy="1484.7" r="2.6" fill="url(#bs2)"/>
<circle cx="502.9" cy="1487.3" r="2.4" fill="url(#bs2)"/>
<circle cx="510.6" cy="1487.9" r="2.8" fill="url(#bs2)"/>
<circle cx="451.1" cy="1485.8" r="2.4" fill="url(#bs2)"/>
<circle cx="491.9" cy="1488.3" r="3.1" fill="url(#bs2)"/>
<circle cx="467.3" cy="1488.3" r="2.4" fill="url(#bs2)"/>
<circle cx="459.2" cy="1488.2" r="2.3" fill="url(#bs2)"/>
<circle cx="524.1" cy="1488.6" r="2.6" fill="url(#bs2)"/>
<circle cx="467.5" cy="1484.1" r="3.1" fill="url(#bs2)"/>
<circle cx="507.1" cy="1488.3" r="2.5" fill="url(#bs2)"/>
<circle cx="484.3" cy="1491.2" r="2.9" fill="url(#bs2)"/>
<circle cx="515.5" cy="1487.2" r="2.5" fill="url(#bs2)"/>
<circle cx="512.7" cy="1490.2" r="2.9" fill="url(#bs2)"/>
<circle cx="473.2" cy="1486.5" r="2.4" fill="url(#bs2)"/>
<circle cx="496.9" cy="1489.8" r="2.3" fill="url(#bs2)"/>
<circle cx="487.2" cy="1485.9" r="2.9" fill="url(#bs2)"/>
<circle cx="469.6" cy="1491.1" r="2.9" fill="url(#bs2)"/>
<circle cx="476.4" cy="1489.6" r="2.7" fill="url(#bs2)"/>
<circle cx="463.1" cy="1488.0" r="2.7" fill="url(#bs2)"/>
<circle cx="458.5" cy="1492.4" r="2.3" fill="url(#bs2)"/>
<circle cx="522.7" cy="1486.3" r="2.8" fill="url(#bs2)"/>
<circle cx="499.0" cy="1491.0" r="2.4" fill="url(#bs2)"/>
<circle cx="510.0" cy="1491.2" r="3.0" fill="url(#bs2)"/>
<circle cx="518.8" cy="1487.6" r="2.9" fill="url(#bs2)"/>
<circle cx="494.5" cy="1486.8" r="2.9" fill="url(#bs2)"/>
<circle cx="466.3" cy="1493.5" r="2.6" fill="url(#bs2)"/>
<circle cx="484.2" cy="1488.1" r="2.9" fill="url(#bs2)"/>
<circle cx="503.6" cy="1489.6" r="2.5" fill="url(#bs2)"/>
<circle cx="455.4" cy="1494.1" r="2.4" fill="url(#bs2)"/>
<circle cx="465.6" cy="1486.5" r="2.5" fill="url(#bs2)"/>
<circle cx="522.6" cy="1494.4" r="2.7" fill="url(#bs2)"/>
<circle cx="501.7" cy="1492.4" r="2.6" fill="url(#bs2)"/>
<circle cx="460.1" cy="1494.7" r="2.8" fill="url(#bs2)"/>
<circle cx="453.1" cy="1490.5" r="2.7" fill="url(#bs2)"/>
<circle cx="484.4" cy="1494.0" r="2.5" fill="url(#bs2)"/>
<circle cx="474.2" cy="1488.9" r="3.0" fill="url(#bs2)"/>
<circle cx="470.9" cy="1488.9" r="2.9" fill="url(#bs2)"/>
<circle cx="512.6" cy="1492.4" r="2.6" fill="url(#bs2)"/>
<circle cx="462.7" cy="1491.4" r="2.3" fill="url(#bs2)"/>
<circle cx="507.6" cy="1492.1" r="3.0" fill="url(#bs2)"/>
<circle cx="486.1" cy="1490.0" r="2.6" fill="url(#bs2)"/>
<circle cx="451.5" cy="1489.4" r="2.3" fill="url(#bs2)"/>
<circle cx="517.9" cy="1496.1" r="2.9" fill="url(#bs2)"/>
<circle cx="475.1" cy="1494.5" r="2.6" fill="url(#bs2)"/>
<circle cx="489.8" cy="1489.1" r="2.5" fill="url(#bs2)"/>
<circle cx="487.9" cy="1494.7" r="2.5" fill="url(#bs2)"/>
<circle cx="498.6" cy="1495.9" r="2.9" fill="url(#bs2)"/>
<circle cx="496.1" cy="1493.1" r="3.1" fill="url(#bs2)"/>
<circle cx="508.0" cy="1494.7" r="2.9" fill="url(#bs2)"/>
<circle cx="473.6" cy="1491.9" r="2.6" fill="url(#bs2)"/>
<circle cx="477.1" cy="1495.4" r="2.7" fill="url(#bs2)"/>
<circle cx="518.8" cy="1493.8" r="2.4" fill="url(#bs2)"/>
<circle cx="504.7" cy="1492.0" r="2.7" fill="url(#bs2)"/>
<circle cx="471.1" cy="1493.3" r="2.9" fill="url(#bs2)"/>
<circle cx="466.3" cy="1491.3" r="3.1" fill="url(#bs2)"/>
<circle cx="472.0" cy="1496.9" r="2.5" fill="url(#bs2)"/>
<circle cx="478.3" cy="1490.7" r="2.4" fill="url(#bs2)"/>
<circle cx="489.4" cy="1491.4" r="2.9" fill="url(#bs2)"/>
<circle cx="496.0" cy="1495.5" r="3.0" fill="url(#bs2)"/>
<circle cx="482.6" cy="1493.0" r="2.4" fill="url(#bs2)"/>
<circle cx="469.6" cy="1498.0" r="2.5" fill="url(#bs2)"/>
<circle cx="502.2" cy="1495.9" r="2.8" fill="url(#bs2)"/>
<circle cx="500.4" cy="1494.2" r="2.4" fill="url(#bs2)"/>
<circle cx="486.4" cy="1492.6" r="3.0" fill="url(#bs2)"/>
<circle cx="515.0" cy="1497.4" r="2.4" fill="url(#bs2)"/>
<circle cx="512.5" cy="1494.8" r="2.4" fill="url(#bs2)"/>
<circle cx="513.9" cy="1500.3" r="2.6" fill="url(#bs2)"/>
<circle cx="472.0" cy="1494.9" r="2.4" fill="url(#bs2)"/>
<circle cx="484.2" cy="1499.6" r="2.4" fill="url(#bs2)"/>
<circle cx="493.7" cy="1493.5" r="3.0" fill="url(#bs2)"/>
<circle cx="466.8" cy="1495.9" r="2.5" fill="url(#bs2)"/>
<circle cx="461.2" cy="1499.3" r="2.9" fill="url(#bs2)"/>
<circle cx="480.2" cy="1494.7" r="2.8" fill="url(#bs2)"/>
<circle cx="456.2" cy="1499.2" r="2.7" fill="url(#bs2)"/>
<circle cx="492.2" cy="1498.4" r="2.9" fill="url(#bs2)"/>
<circle cx="488.6" cy="1498.2" r="2.8" fill="url(#bs2)"/>
<circle cx="521.6" cy="1496.8" r="2.5" fill="url(#bs2)"/>
<circle cx="495.8" cy="1499.0" r="2.8" fill="url(#bs2)"/>
<circle cx="500.6" cy="1499.5" r="2.4" fill="url(#bs2)"/>
<circle cx="483.3" cy="1497.3" r="2.6" fill="url(#bs2)"/>
<circle cx="463.2" cy="1497.5" r="3.1" fill="url(#bs2)"/>
<circle cx="490.6" cy="1495.8" r="3.0" fill="url(#bs2)"/>
<circle cx="498.0" cy="1499.6" r="2.6" fill="url(#bs2)"/>
<circle cx="510.7" cy="1495.8" r="2.4" fill="url(#bs2)"/>
<circle cx="503.1" cy="1497.6" r="2.3" fill="url(#bs2)"/>
<circle cx="479.7" cy="1497.8" r="2.9" fill="url(#bs2)"/>
<circle cx="481.5" cy="1500.6" r="2.4" fill="url(#bs2)"/>
<circle cx="463.8" cy="1500.9" r="2.9" fill="url(#bs2)"/>
<circle cx="460.9" cy="1497.0" r="2.8" fill="url(#bs2)"/>
<circle cx="507.5" cy="1499.6" r="2.5" fill="url(#bs2)"/>
<circle cx="458.5" cy="1496.8" r="3.1" fill="url(#bs2)"/>
<circle cx="519.6" cy="1499.1" r="2.5" fill="url(#bs2)"/>
<circle cx="488.6" cy="1500.9" r="2.8" fill="url(#bs2)"/>
<circle cx="472.5" cy="1502.4" r="2.4" fill="url(#bs2)"/>
<circle cx="501.7" cy="1503.2" r="2.4" fill="url(#bs2)"/>
<circle cx="508.4" cy="1502.0" r="2.6" fill="url(#bs2)"/>
<circle cx="470.3" cy="1500.1" r="2.7" fill="url(#bs2)"/>
<circle cx="478.7" cy="1502.5" r="2.5" fill="url(#bs2)"/>
<circle cx="499.8" cy="1501.6" r="2.9" fill="url(#bs2)"/>
<circle cx="477.1" cy="1498.1" r="2.8" fill="url(#bs2)"/>
<circle cx="505.6" cy="1501.7" r="2.6" fill="url(#bs2)"/>
<circle cx="479.6" cy="1505.3" r="2.6" fill="url(#bs2)"/>
<circle cx="491.2" cy="1502.0" r="2.3" fill="url(#bs2)"/>
<circle cx="458.7" cy="1501.5" r="3.1" fill="url(#bs2)"/>
<circle cx="482.6" cy="1502.2" r="2.7" fill="url(#bs2)"/>
<circle cx="460.5" cy="1504.5" r="3.0" fill="url(#bs2)"/>
<circle cx="511.9" cy="1506.3" r="2.5" fill="url(#bs2)"/>
<circle cx="510.6" cy="1499.2" r="2.7" fill="url(#bs2)"/>
<circle cx="467.0" cy="1499.0" r="2.9" fill="url(#bs2)"/>
<circle cx="475.1" cy="1505.3" r="2.8" fill="url(#bs2)"/>
<circle cx="485.7" cy="1505.1" r="2.7" fill="url(#bs2)"/>
<circle cx="514.6" cy="1505.4" r="2.7" fill="url(#bs2)"/>
<circle cx="492.8" cy="1505.5" r="3.1" fill="url(#bs2)"/>
<circle cx="517.5" cy="1499.9" r="2.6" fill="url(#bs2)"/>
<circle cx="506.3" cy="1507.5" r="2.9" fill="url(#bs2)"/>
<circle cx="485.8" cy="1501.1" r="2.9" fill="url(#bs2)"/>
<circle cx="472.5" cy="1500.3" r="2.7" fill="url(#bs2)"/>
<circle cx="492.8" cy="1507.6" r="2.4" fill="url(#bs2)"/>
<circle cx="501.8" cy="1507.6" r="3.0" fill="url(#bs2)"/>
<circle cx="474.5" cy="1502.0" r="2.8" fill="url(#bs2)"/>
<circle cx="488.6" cy="1504.2" r="2.9" fill="url(#bs2)"/>
<circle cx="470.4" cy="1503.7" r="2.7" fill="url(#bs2)"/>
<circle cx="488.8" cy="1507.9" r="2.9" fill="url(#bs2)"/>
<circle cx="466.0" cy="1508.4" r="2.5" fill="url(#bs2)"/>
<circle cx="495.1" cy="1508.0" r="2.8" fill="url(#bs2)"/>
<circle cx="468.8" cy="1509.3" r="3.1" fill="url(#bs2)"/>
<circle cx="515.3" cy="1503.0" r="2.7" fill="url(#bs2)"/>
<circle cx="512.4" cy="1502.5" r="2.5" fill="url(#bs2)"/>
<circle cx="500.2" cy="1504.8" r="3.0" fill="url(#bs2)"/>
<circle cx="498.5" cy="1506.9" r="2.4" fill="url(#bs2)"/>
<circle cx="473.3" cy="1508.2" r="2.5" fill="url(#bs2)"/>
<circle cx="507.6" cy="1504.9" r="3.0" fill="url(#bs2)"/>
<circle cx="462.8" cy="1503.7" r="2.7" fill="url(#bs2)"/>
<circle cx="463.3" cy="1509.2" r="2.4" fill="url(#bs2)"/>
<circle cx="471.1" cy="1508.5" r="2.9" fill="url(#bs2)"/>
<circle cx="484.0" cy="1504.0" r="2.3" fill="url(#bs2)"/>
<circle cx="475.3" cy="1511.0" r="3.1" fill="url(#bs2)"/>
<circle cx="466.2" cy="1504.4" r="2.4" fill="url(#bs2)"/>
<circle cx="496.3" cy="1506.0" r="3.0" fill="url(#bs2)"/>
<circle cx="468.6" cy="1506.2" r="2.8" fill="url(#bs2)"/>
<circle cx="510.5" cy="1507.6" r="2.3" fill="url(#bs2)"/>
<circle cx="462.7" cy="1507.0" r="3.1" fill="url(#bs2)"/>
<circle cx="491.0" cy="1510.0" r="2.9" fill="url(#bs2)"/>
<circle cx="493.4" cy="1512.2" r="2.5" fill="url(#bs2)"/>
<circle cx="472.4" cy="1510.2" r="2.6" fill="url(#bs2)"/>
<circle cx="496.0" cy="1512.4" r="3.0" fill="url(#bs2)"/>
<circle cx="483.2" cy="1507.3" r="2.9" fill="url(#bs2)"/>
<circle cx="498.6" cy="1511.3" r="3.1" fill="url(#bs2)"/>
<circle cx="483.2" cy="1511.8" r="2.6" fill="url(#bs2)"/>
<circle cx="488.7" cy="1511.8" r="2.8" fill="url(#bs2)"/>
<circle cx="500.6" cy="1509.5" r="2.4" fill="url(#bs2)"/>
<circle cx="494.2" cy="1514.0" r="2.4" fill="url(#bs2)"/>
<circle cx="486.2" cy="1513.1" r="2.5" fill="url(#bs2)"/>
<circle cx="487.4" cy="1514.7" r="3.1" fill="url(#bs2)"/>
<circle cx="505.9" cy="1510.6" r="2.8" fill="url(#bs2)"/>
<circle cx="466.1" cy="1511.0" r="2.7" fill="url(#bs2)"/>
<circle cx="473.0" cy="1514.4" r="2.5" fill="url(#bs2)"/>
<circle cx="484.3" cy="1509.7" r="2.7" fill="url(#bs2)"/>
<circle cx="486.3" cy="1511.1" r="3.0" fill="url(#bs2)"/>
<circle cx="476.8" cy="1512.6" r="2.6" fill="url(#bs2)"/>
<circle cx="501.0" cy="1511.4" r="2.6" fill="url(#bs2)"/>
<circle cx="477.3" cy="1515.0" r="3.0" fill="url(#bs2)"/>
<circle cx="466.4" cy="1514.3" r="3.0" fill="url(#bs2)"/>
<circle cx="485.0" cy="1514.9" r="2.8" fill="url(#bs2)"/>
<circle cx="496.5" cy="1514.6" r="2.4" fill="url(#bs2)"/>
<circle cx="471.7" cy="1512.5" r="3.0" fill="url(#bs2)"/>
<circle cx="480.6" cy="1512.8" r="3.0" fill="url(#bs2)"/>
<circle cx="469.4" cy="1513.8" r="2.9" fill="url(#bs2)"/>
<ellipse cx="492" cy="1399" rx="4" ry="4.5" fill="none" stroke="#a9acd9" stroke-width="2.2"/>
<path d="M482 1408 c6 -6 14 -6 20 0 c4 6 10 6 14 0 M500 1402 c4 -4 8 -4 10 -8" stroke="#a9acd9" stroke-width="2" fill="none"/>
<ellipse cx="498" cy="1405" rx="3" ry="3" fill="#a9acd9"/>
<g stroke="#2e2e8c" fill="none" stroke-width="1.1"><path d="M548 1436 c10 -6 22 -2 30 6 c8 8 4 20 -4 26 c-8 6 -4 18 6 22 c10 4 20 -2 24 -10"/><path d="M556 1450 c-6 10 -2 22 8 28 c8 4 14 14 10 20 M565 1460 c10 -4 18 0 22 -8"/><path d="M618 1408 c4 -8 10 -10 16 -8 c6 -10 16 -14 24 -6 c8 6 6 16 10 20 c6 6 2 14 -6 16"/><path d="M640 1398 c10 0 14 8 10 14 M658 1422 c6 10 2 22 -8 26 c-8 6 -16 12 -20 22 M615 1478 c10 4 18 0 24 -8"/><path d="M570 1492 c8 4 14 4 20 -2 M610 1488 c6 6 14 4 18 -4"/></g>
<polygon points="584.6,1456.3 591.9,1438.8 599.2,1435.9 606.5,1424.2 618.2,1428.6 615.3,1450.5 612.3,1465.1 606.5,1476.8 594.8,1479.7 584.6,1468.0" fill="#35359c" stroke="#35359c" stroke-width="2" stroke-linejoin="round" opacity="0.72"/>
<polygon points="619.6,1409.6 631.3,1414.0 638.6,1424.2 641.5,1435.9 648.8,1446.1 650.3,1453.4 643.0,1465.1 632.8,1463.6 625.5,1457.8 621.1,1446.1 625.5,1431.5 621.1,1416.9" fill="#35359c" stroke="#35359c" stroke-width="2" stroke-linejoin="round" opacity="0.72"/>
<polyline points="583.5,1457.9 585.7,1458.4 588.9,1459.5 591.5,1460.2 592.1,1459.9" fill="none" stroke="#1c1c5e" stroke-width="1.5" stroke-linecap="round"/>
<polyline points="585.5,1453.5 587.2,1453.8 590.3,1454.8 593.2,1455.7 594.5,1455.7 593.8,1454.6" fill="none" stroke="#1c1c5e" stroke-width="1.5" stroke-linecap="round"/>
<polyline points="588.8,1449.2 591.6,1450.0 594.7,1451.0 596.7,1451.4 596.6,1450.7" fill="none" stroke="#1c1c5e" stroke-width="1.5" stroke-linecap="round"/>
<polyline points="590.7,1444.7 592.9,1445.3 596.1,1446.3 598.7,1447.0 599.3,1446.7" fill="none" stroke="#1c1c5e" stroke-width="1.5" stroke-linecap="round"/>
<polyline points="592.7,1440.4 594.4,1440.6 597.4,1441.6 600.4,1442.5 601.7,1442.6" fill="none" stroke="#1c1c5e" stroke-width="1.5" stroke-linecap="round"/>
<polygon points="590.3,1462.4 588.6,1460.2 585.9,1458.1 583.9,1457.0 583.8,1457.2 583.1,1458.5 582.4,1459.8 583.9,1461.9 586.5,1464.1 588.6,1465.4" fill="#33339a"/>
<polygon points="592.8,1458.6 591.7,1456.6 589.2,1454.4 586.9,1452.8 585.9,1452.9 585.2,1454.2 585.1,1456.1 587.1,1458.3 589.7,1460.3 591.5,1461.1" fill="#33339a"/>
<polygon points="594.7,1452.9 592.5,1450.7 589.9,1448.8 588.4,1448.3 589.2,1448.5 588.5,1449.9 587.3,1450.4 588.0,1452.4 590.4,1454.6 592.8,1456.3" fill="#33339a"/>
<polygon points="597.5,1449.2 595.8,1447.0 593.1,1445.0 591.1,1443.9 591.0,1444.1 590.3,1445.4 589.6,1446.6 591.0,1448.8 593.6,1450.9 595.8,1452.2" fill="#33339a"/>
<polygon points="600.0,1445.5 598.9,1443.4 596.4,1441.2 594.0,1439.7 593.1,1439.7 592.4,1441.0 592.3,1442.9 594.3,1445.1 596.9,1447.1 598.6,1447.9" fill="#33339a"/>
<polyline points="589.2,1472.1 591.5,1472.5 594.8,1473.3 597.3,1473.9 598.0,1473.5" fill="none" stroke="#1c1c5e" stroke-width="1.5" stroke-linecap="round"/>
<polyline points="591.0,1467.6 592.7,1467.7 595.8,1468.5 598.8,1469.2 600.1,1469.2 599.3,1468.1" fill="none" stroke="#1c1c5e" stroke-width="1.5" stroke-linecap="round"/>
<polyline points="594.0,1463.0 596.8,1463.7 600.0,1464.5 602.0,1464.8 601.9,1464.1" fill="none" stroke="#1c1c5e" stroke-width="1.5" stroke-linecap="round"/>
<polyline points="595.6,1458.5 597.9,1458.9 601.1,1459.7 603.7,1460.3 604.3,1459.9" fill="none" stroke="#1c1c5e" stroke-width="1.5" stroke-linecap="round"/>
<polyline points="597.3,1454.0 599.0,1454.1 602.1,1454.9 605.1,1455.6 606.5,1455.6 605.6,1454.6" fill="none" stroke="#1c1c5e" stroke-width="1.5" stroke-linecap="round"/>
<polyline points="600.4,1449.4 603.2,1450.1 606.4,1450.9 608.4,1451.2 608.3,1450.5" fill="none" stroke="#1c1c5e" stroke-width="1.5" stroke-linecap="round"/>
<polyline points="601.9,1444.9 604.2,1445.3" fill="none" stroke="#1c1c5e" stroke-width="1.5" stroke-linecap="round"/>
<polygon points="596.3,1476.1 594.5,1474.1 591.7,1472.1 589.6,1471.2 589.5,1471.4 588.9,1472.7 588.3,1474.0 589.9,1476.1 592.6,1478.0 594.9,1479.2" fill="#33339a"/>
<polygon points="598.6,1472.2 597.4,1470.2 594.7,1468.2 592.3,1466.8 591.3,1466.9 590.7,1468.3 590.7,1470.2 592.8,1472.2 595.6,1474.0 597.4,1474.8" fill="#33339a"/>
<polygon points="600.1,1466.4 597.8,1464.3 595.1,1462.6 593.5,1462.2 594.3,1462.4 593.7,1463.7 592.5,1464.3 593.4,1466.3 595.9,1468.4 598.5,1469.9" fill="#33339a"/>
<polygon points="602.6,1462.5 600.8,1460.5 598.0,1458.6 596.0,1457.6 595.9,1457.8 595.2,1459.1 594.7,1460.4 596.2,1462.5 598.9,1464.5 601.2,1465.6" fill="#33339a"/>
<polygon points="604.9,1458.6 603.7,1456.6 601.1,1454.6 598.6,1453.2 597.7,1453.3 597.0,1454.7 597.1,1456.6 599.2,1458.6 601.9,1460.4 603.7,1461.2" fill="#33339a"/>
<polygon points="606.5,1452.8 604.1,1450.7 601.4,1449.0 599.9,1448.6 600.7,1448.8 600.0,1450.1 598.9,1450.7 599.7,1452.7 602.2,1454.8 604.8,1456.3" fill="#33339a"/>
<polygon points="609.0,1448.9 607.1,1446.9 604.4,1445.0 602.3,1444.0 602.2,1444.2 601.6,1445.5 601.0,1446.8 602.6,1448.9 605.3,1450.9 607.5,1452.0" fill="#33339a"/>
<polyline points="598.7,1466.5 601.1,1466.6 604.4,1467.0 607.0,1467.2 607.6,1466.7" fill="none" stroke="#1c1c5e" stroke-width="1.5" stroke-linecap="round"/>
<polyline points="599.9,1461.8 601.6,1461.7 604.8,1462.1 607.8,1462.4 609.2,1462.2 608.2,1461.3" fill="none" stroke="#1c1c5e" stroke-width="1.5" stroke-linecap="round"/>
<polyline points="602.3,1456.9 605.2,1457.2 608.4,1457.6 610.5,1457.6 610.3,1456.9" fill="none" stroke="#1c1c5e" stroke-width="1.5" stroke-linecap="round"/>
<polyline points="603.2,1452.1 605.6,1452.3 608.9,1452.7 611.5,1452.9 612.1,1452.4" fill="none" stroke="#1c1c5e" stroke-width="1.5" stroke-linecap="round"/>
<polyline points="604.4,1447.5 606.1,1447.4 609.3,1447.8 612.3,1448.1 613.7,1447.9 612.7,1447.0" fill="none" stroke="#1c1c5e" stroke-width="1.5" stroke-linecap="round"/>
<polyline points="606.8,1442.6 609.7,1442.9 613.0,1443.3 615.0,1443.3 614.8,1442.6" fill="none" stroke="#1c1c5e" stroke-width="1.5" stroke-linecap="round"/>
<polyline points="607.8,1437.8 610.1,1438.0 613.4,1438.4 616.1,1438.6 616.6,1438.1" fill="none" stroke="#1c1c5e" stroke-width="1.5" stroke-linecap="round"/>
<polyline points="608.9,1433.2 610.6,1433.1 613.8,1433.5 616.9,1433.8 618.2,1433.6" fill="none" stroke="#1c1c5e" stroke-width="1.5" stroke-linecap="round"/>
<polygon points="606.3,1469.6 604.2,1467.7 601.2,1466.2 599.0,1465.5 599.0,1465.7 598.5,1467.2 598.1,1468.5 599.9,1470.3 602.9,1472.0 605.2,1472.8" fill="#33339a"/>
<polygon points="608.0,1465.4 606.6,1463.6 603.7,1461.9 601.1,1460.9 600.1,1461.1 599.7,1462.5 600.0,1464.4 602.3,1466.2 605.3,1467.6 607.2,1468.1" fill="#33339a"/>
<polygon points="608.8,1459.4 606.2,1457.6 603.3,1456.3 601.7,1456.1 602.5,1456.2 602.1,1457.6 601.0,1458.3 602.1,1460.2 604.9,1461.9 607.6,1463.1" fill="#33339a"/>
<polygon points="610.8,1455.3 608.7,1453.4 605.7,1451.9 603.5,1451.2 603.5,1451.4 603.0,1452.9 602.6,1454.2 604.4,1456.0 607.4,1457.6 609.8,1458.5" fill="#33339a"/>
<polygon points="612.5,1451.1 611.1,1449.3 608.2,1447.6 605.6,1446.6 604.7,1446.8 604.2,1448.2 604.5,1450.1 606.9,1451.9 609.8,1453.3 611.7,1453.8" fill="#33339a"/>
<polygon points="613.3,1445.1 610.7,1443.3 607.8,1442.0 606.2,1441.8 607.1,1441.9 606.6,1443.3 605.5,1444.0 606.6,1445.9 609.4,1447.6 612.1,1448.8" fill="#33339a"/>
<polygon points="615.3,1440.9 613.2,1439.1 610.2,1437.6 608.1,1436.9 608.0,1437.1 607.5,1438.6 607.1,1439.9 608.9,1441.7 611.9,1443.3 614.3,1444.2" fill="#33339a"/>
<polygon points="617.1,1436.8 615.6,1435.0 612.7,1433.3 610.1,1432.2 609.2,1432.5 608.7,1433.9 609.0,1435.8 611.4,1437.6 614.3,1439.0 616.2,1439.5" fill="#33339a"/>
<polyline points="593.2,1448.1 595.5,1448.5 598.8,1449.3 601.3,1449.8 602.0,1449.5" fill="none" stroke="#1c1c5e" stroke-width="1.5" stroke-linecap="round"/>
<polyline points="595.0,1443.6 596.7,1443.7 599.8,1444.5 602.7,1445.2 604.1,1445.2 603.3,1444.1" fill="none" stroke="#1c1c5e" stroke-width="1.5" stroke-linecap="round"/>
<polyline points="598.0,1439.0 600.8,1439.7 604.0,1440.5 606.0,1440.8 605.9,1440.0" fill="none" stroke="#1c1c5e" stroke-width="1.5" stroke-linecap="round"/>
<polyline points="599.5,1434.4 601.8,1434.8 605.0,1435.7 607.6,1436.2 608.3,1435.9" fill="none" stroke="#1c1c5e" stroke-width="1.5" stroke-linecap="round"/>
<polyline points="601.2,1430.0 602.9,1430.1 606.1,1430.9 609.0,1431.6 610.4,1431.5 609.5,1430.5" fill="none" stroke="#1c1c5e" stroke-width="1.5" stroke-linecap="round"/>
<polyline points="604.3,1425.4 607.0,1426.0" fill="none" stroke="#1c1c5e" stroke-width="1.5" stroke-linecap="round"/>
<polygon points="600.3,1452.1 598.4,1450.0 595.7,1448.1 593.6,1447.2 593.5,1447.4 592.9,1448.7 592.3,1450.0 593.9,1452.1 596.6,1454.0 598.9,1455.2" fill="#33339a"/>
<polygon points="602.6,1448.2 601.3,1446.2 598.7,1444.2 596.2,1442.8 595.3,1442.9 594.6,1444.3 594.7,1446.2 596.8,1448.2 599.6,1450.0 601.4,1450.7" fill="#33339a"/>
<polygon points="604.1,1442.4 601.7,1440.3 599.0,1438.6 597.5,1438.2 598.3,1438.4 597.7,1439.7 596.5,1440.3 597.3,1442.3 599.9,1444.4 602.4,1445.9" fill="#33339a"/>
<polygon points="606.6,1438.5 604.7,1436.4 602.0,1434.5 599.9,1433.6 599.8,1433.8 599.2,1435.1 598.6,1436.4 600.2,1438.5 602.9,1440.4 605.2,1441.6" fill="#33339a"/>
<polygon points="608.8,1434.6 607.6,1432.6 605.0,1430.6 602.5,1429.2 601.6,1429.3 600.9,1430.7 601.0,1432.5 603.1,1434.6 605.9,1436.4 607.7,1437.1" fill="#33339a"/>
<polygon points="610.4,1428.7 608.0,1426.7 605.3,1425.0 603.8,1424.5 604.6,1424.7 603.9,1426.1 602.8,1426.7 603.6,1428.7 606.1,1430.7 608.7,1432.3" fill="#33339a"/>
<polyline points="629.0,1420.9 627.8,1421.9 625.1,1423.4 622.4,1425.0 621.3,1426.0 622.4,1426.2" fill="none" stroke="#1c1c5e" stroke-width="1.5" stroke-linecap="round"/>
<polyline points="630.0,1426.2 627.7,1427.6 624.7,1429.2 623.0,1430.5 623.4,1431.0" fill="none" stroke="#1c1c5e" stroke-width="1.5" stroke-linecap="round"/>
<polyline points="632.0,1430.6 630.2,1431.9 627.3,1433.5 624.9,1434.9 624.6,1435.6" fill="none" stroke="#1c1c5e" stroke-width="1.5" stroke-linecap="round"/>
<polyline points="633.8,1435.1 632.6,1436.1 629.8,1437.7 627.1,1439.2 626.0,1440.2 627.2,1440.4" fill="none" stroke="#1c1c5e" stroke-width="1.5" stroke-linecap="round"/>
<polyline points="634.8,1440.4 632.4,1441.9 629.5,1443.5 627.7,1444.7 628.1,1445.2" fill="none" stroke="#1c1c5e" stroke-width="1.5" stroke-linecap="round"/>
<polyline points="636.8,1444.8 634.9,1446.1 632.0,1447.7 629.7,1449.1 629.3,1449.9" fill="none" stroke="#1c1c5e" stroke-width="1.5" stroke-linecap="round"/>
<polygon points="620.2,1422.6 622.4,1423.4 625.7,1423.1 628.5,1422.4 629.3,1421.6 628.8,1420.1 627.3,1418.8 624.3,1418.8 621.1,1419.4 619.4,1420.1" fill="#33339a"/>
<polygon points="623.1,1428.0 626.1,1428.0 629.3,1427.4 630.9,1426.6 630.3,1426.9 629.8,1425.5 630.1,1424.2 628.0,1423.5 624.7,1423.7 621.8,1424.4" fill="#33339a"/>
<polygon points="623.9,1432.5 626.6,1432.8 629.9,1432.3 632.2,1431.6 632.3,1431.3 631.8,1429.9 631.2,1428.5 628.5,1428.2 625.2,1428.7 622.9,1429.4" fill="#33339a"/>
<polygon points="625.0,1436.9 627.1,1437.6 630.4,1437.3 633.2,1436.6 634.0,1435.8 633.5,1434.4 632.0,1433.0 629.0,1433.0 625.8,1433.7 624.1,1434.4" fill="#33339a"/>
<polygon points="627.8,1442.2 630.9,1442.2 634.0,1441.6 635.6,1440.9 635.0,1441.1 634.6,1439.7 634.8,1438.4 632.7,1437.7 629.4,1438.0 626.6,1438.6" fill="#33339a"/>
<polygon points="628.7,1446.8 631.3,1447.1 634.7,1446.6 636.9,1445.9 637.0,1445.5 636.5,1444.1 635.9,1442.8 633.3,1442.4 629.9,1442.9 627.6,1443.6" fill="#33339a"/>
<polygon points="629.7,1451.1 631.9,1451.8 635.2,1451.5 633.7,1447.3 630.6,1447.9 628.9,1448.6" fill="#33339a"/>
<polyline points="635.1,1412.4 634.0,1413.6 631.4,1415.3 628.8,1417.1 627.8,1418.2 629.0,1418.3" fill="none" stroke="#1c1c5e" stroke-width="1.5" stroke-linecap="round"/>
<polyline points="636.5,1417.7 634.3,1419.3 631.5,1421.1 629.8,1422.5 630.3,1423.0" fill="none" stroke="#1c1c5e" stroke-width="1.5" stroke-linecap="round"/>
<polyline points="638.9,1421.9 637.2,1423.3 634.4,1425.1 632.2,1426.7 631.9,1427.5" fill="none" stroke="#1c1c5e" stroke-width="1.5" stroke-linecap="round"/>
<polyline points="641.0,1426.2 639.9,1427.3 637.3,1429.1 634.7,1430.9 633.7,1432.0 634.9,1432.1" fill="none" stroke="#1c1c5e" stroke-width="1.5" stroke-linecap="round"/>
<polyline points="642.4,1431.5 640.2,1433.1 637.4,1434.9 635.7,1436.3 636.2,1436.8" fill="none" stroke="#1c1c5e" stroke-width="1.5" stroke-linecap="round"/>
<polyline points="644.8,1435.7 643.1,1437.1 640.3,1438.9 638.1,1440.5 637.8,1441.3" fill="none" stroke="#1c1c5e" stroke-width="1.5" stroke-linecap="round"/>
<polygon points="626.5,1414.9 628.7,1415.5 631.9,1414.9 634.7,1414.0 635.4,1413.1 634.8,1411.7 633.2,1410.5 630.2,1410.8 627.0,1411.7 625.4,1412.5" fill="#33339a"/>
<polygon points="629.7,1420.1 632.8,1419.8 635.9,1418.9 637.4,1418.0 636.8,1418.4 636.2,1417.0 636.4,1415.7 634.3,1415.1 631.0,1415.7 628.2,1416.6" fill="#33339a"/>
<polygon points="631.0,1424.5 633.6,1424.6 636.9,1423.8 639.1,1422.9 639.2,1422.6 638.6,1421.2 637.8,1419.9 635.2,1419.8 631.9,1420.5 629.6,1421.4" fill="#33339a"/>
<polygon points="632.4,1428.7 634.6,1429.3 637.8,1428.7 640.6,1427.8 641.3,1426.9 640.7,1425.5 639.1,1424.3 636.1,1424.6 632.9,1425.5 631.3,1426.3" fill="#33339a"/>
<polygon points="635.6,1433.9 638.7,1433.6 641.8,1432.7 643.3,1431.8 642.7,1432.2 642.2,1430.8 642.3,1429.5 640.2,1428.9 636.9,1429.4 634.1,1430.4" fill="#33339a"/>
<polygon points="636.9,1438.3 639.5,1438.4 642.8,1437.6 645.0,1436.7 645.1,1436.4 644.5,1435.0 643.8,1433.7 641.1,1433.6 637.8,1434.3 635.6,1435.2" fill="#33339a"/>
<polyline points="638.9,1442.5 638.3,1444.0 636.5,1446.6 634.8,1449.2 634.2,1450.6 635.4,1450.2" fill="none" stroke="#1c1c5e" stroke-width="1.5" stroke-linecap="round"/>
<polyline points="642.2,1446.8 640.7,1449.2 638.8,1451.9 637.8,1453.8 638.3,1454.1" fill="none" stroke="#1c1c5e" stroke-width="1.5" stroke-linecap="round"/>
<polyline points="645.9,1449.9 644.8,1451.8 642.9,1454.6 641.5,1456.9 641.5,1457.7" fill="none" stroke="#1c1c5e" stroke-width="1.5" stroke-linecap="round"/>
<polyline points="649.5,1453.1 648.9,1454.6 647.1,1457.2 645.4,1459.8" fill="none" stroke="#1c1c5e" stroke-width="1.5" stroke-linecap="round"/>
<polygon points="631.8,1448.1 634.1,1447.7 636.9,1446.0 639.1,1444.1 639.4,1443.1 638.3,1442.0 636.4,1441.5 633.7,1442.8 631.1,1444.8 629.9,1446.2" fill="#33339a"/>
<polygon points="636.7,1451.6 639.5,1450.2 642.0,1448.2 643.1,1446.9 642.7,1447.4 641.7,1446.3 641.3,1445.1 639.1,1445.3 636.3,1447.0 634.0,1448.9" fill="#33339a"/>
<polygon points="639.5,1455.3 642.0,1454.3 644.8,1452.4 646.5,1450.7 646.5,1450.4 645.4,1449.4 644.2,1448.4 641.7,1449.3 639.0,1451.2 637.2,1452.9" fill="#33339a"/>
<polygon points="642.4,1458.7 644.7,1458.3 647.5,1456.6 649.7,1454.7 650.0,1453.7 648.9,1452.6 647.0,1452.1 644.3,1453.4 641.7,1455.4 640.6,1456.8" fill="#33339a"/>
<polyline points="629.0,1441.0 627.8,1442.0 625.0,1443.5 622.2,1444.9 621.1,1445.9 622.3,1446.2" fill="none" stroke="#1c1c5e" stroke-width="1.5" stroke-linecap="round"/>
<polyline points="629.9,1446.4 627.4,1447.7 624.5,1449.3 622.6,1450.4 623.1,1450.9" fill="none" stroke="#1c1c5e" stroke-width="1.5" stroke-linecap="round"/>
<polyline points="631.7,1450.8 629.8,1452.0 626.8,1453.6 624.5,1454.9 624.1,1455.6" fill="none" stroke="#1c1c5e" stroke-width="1.5" stroke-linecap="round"/>
<polyline points="633.3,1455.4 632.1,1456.4 629.3,1457.8 626.5,1459.3 625.4,1460.3 626.6,1460.5" fill="none" stroke="#1c1c5e" stroke-width="1.5" stroke-linecap="round"/>
<polygon points="620.2,1442.5 622.3,1443.3 625.6,1443.1 628.4,1442.5 629.2,1441.7 628.8,1440.3 627.3,1438.9 624.3,1438.8 621.1,1439.3 619.4,1440.0" fill="#33339a"/>
<polygon points="622.8,1448.0 625.9,1448.0 629.1,1447.5 630.7,1446.8 630.1,1447.1 629.6,1445.7 629.9,1444.4 627.9,1443.6 624.6,1443.7 621.7,1444.3" fill="#33339a"/>
<polygon points="623.5,1452.5 626.2,1452.9 629.5,1452.5 631.8,1451.9 631.9,1451.6 631.5,1450.1 630.9,1448.8 628.3,1448.3 624.9,1448.7 622.6,1449.3" fill="#33339a"/>
<polygon points="624.5,1456.9 626.6,1457.7 629.9,1457.5 632.7,1456.9 633.5,1456.1 633.1,1454.7 631.6,1453.3 628.6,1453.2 625.4,1453.7 623.7,1454.4" fill="#33339a"/>
<g stroke="#fff" stroke-width="1.2" fill="none" opacity="0.85"><path d="M590 1450 l8 -4 M594 1462 l10 -5 M600 1440 l8 -4 M588 1470 l6 -3 M604 1456 l8 -4 M608 1434 l6 -3 M598 1472 l8 -3"/><path d="M628 1422 l6 3 M630 1436 l8 2 M626 1448 l8 4 M636 1454 l8 2 M632 1430 l4 6 M640 1444 l6 3"/><ellipse cx="627" cy="1437" rx="2" ry="4"/><ellipse cx="593" cy="1459" rx="2.5" ry="3"/></g>
<g fill="none" stroke="#35359c" stroke-width="2.5"><ellipse cx="606" cy="1426" rx="4" ry="3.5"/><ellipse cx="622" cy="1410" rx="3.5" ry="3"/><path d="M634 1466 c4 4 10 2 12 -6"/></g>
<ellipse cx="533" cy="1418" rx="3.5" ry="4.5" fill="none" stroke="#2e2e8c" stroke-width="2.5"/>
<ellipse cx="620" cy="1408" rx="3" ry="4" fill="none" stroke="#2e2e8c" stroke-width="2.2"/>
<polyline points="435.7,1427.8 436.3,1427.0" fill="none" stroke="#0c4f9e" stroke-width="1.6" stroke-linecap="round"/>
<polyline points="439.9,1418.7 440.4,1420.4 440.8,1423.0 441.2,1425.7 441.7,1427.7 442.2,1428.2" fill="none" stroke="#0c4f9e" stroke-width="1.6" stroke-linecap="round"/>
<polyline points="446.5,1419.4 447.0,1421.2 447.4,1423.9 447.8,1426.6 448.3,1428.3 448.8,1428.6" fill="none" stroke="#0c4f9e" stroke-width="1.6" stroke-linecap="round"/>
<polyline points="453.1,1420.1 453.5,1422.1 453.9,1424.8 454.3,1427.4 454.8,1428.9 455.4,1429.0" fill="none" stroke="#0c4f9e" stroke-width="1.6" stroke-linecap="round"/>
<polyline points="459.1,1419.8 459.6,1420.8 460.1,1423.0 460.5,1425.8 460.9,1428.2 461.4,1429.5 462.0,1429.3" fill="none" stroke="#0c4f9e" stroke-width="1.6" stroke-linecap="round"/>
<polyline points="465.7,1420.3 466.2,1421.5 466.6,1423.9 467.0,1426.7 467.5,1429.0 468.0,1430.1 468.6,1429.6" fill="none" stroke="#0c4f9e" stroke-width="1.6" stroke-linecap="round"/>
<polyline points="472.2,1420.9 472.7,1422.3 473.2,1424.8 473.6,1427.6 474.0,1429.7 474.6,1430.5" fill="none" stroke="#0c4f9e" stroke-width="1.6" stroke-linecap="round"/>
<polyline points="478.8,1421.5 479.3,1423.1 479.7,1425.7 480.1,1428.5 480.6,1430.4 481.1,1431.0" fill="none" stroke="#0c4f9e" stroke-width="1.6" stroke-linecap="round"/>
<polyline points="485.4,1422.1 485.9,1424.0 486.3,1426.7 486.7,1429.3 487.2,1431.1 487.7,1431.4" fill="none" stroke="#0c4f9e" stroke-width="1.6" stroke-linecap="round"/>
<polyline points="492.0,1422.8 492.4,1424.9 492.8,1427.6 493.2,1430.2 493.7,1431.7 494.3,1431.7" fill="none" stroke="#0c4f9e" stroke-width="1.6" stroke-linecap="round"/>
<polyline points="498.0,1422.6 498.5,1423.5 499.0,1425.8 499.4,1428.5 499.8,1431.0 500.3,1432.3 500.9,1432.1" fill="none" stroke="#0c4f9e" stroke-width="1.6" stroke-linecap="round"/>
<polyline points="504.6,1423.1 505.1,1424.3 505.5,1426.7 505.9,1429.4 506.4,1431.7 506.9,1432.8 507.5,1432.3" fill="none" stroke="#0c4f9e" stroke-width="1.6" stroke-linecap="round"/>
<polyline points="511.1,1423.6 511.6,1425.1 512.1,1427.6 512.5,1430.3 512.9,1432.5 513.5,1433.3 514.1,1432.6" fill="none" stroke="#0c4f9e" stroke-width="1.6" stroke-linecap="round"/>
<polyline points="517.7,1424.2 518.2,1425.9 518.6,1428.5 519.0,1431.2 519.5,1433.2 520.1,1433.7" fill="none" stroke="#0c4f9e" stroke-width="1.6" stroke-linecap="round"/>
<polyline points="524.3,1424.9 524.8,1426.7 525.2,1429.4 525.6,1432.1 526.1,1433.8 526.6,1434.1" fill="none" stroke="#0c4f9e" stroke-width="1.6" stroke-linecap="round"/>
<polyline points="530.9,1425.6 531.3,1427.6 531.7,1430.4 532.1,1432.9 532.6,1434.5 533.2,1434.5" fill="none" stroke="#0c4f9e" stroke-width="1.6" stroke-linecap="round"/>
<polyline points="536.9,1425.3 537.4,1426.3 537.9,1428.5 538.3,1431.3 538.7,1433.7 539.2,1435.0 539.8,1434.8" fill="none" stroke="#0c4f9e" stroke-width="1.6" stroke-linecap="round"/>
<polyline points="543.5,1425.8 544.0,1427.0 544.4,1429.4 544.8,1432.2 545.3,1434.5 545.8,1435.6 546.4,1435.1" fill="none" stroke="#0c4f9e" stroke-width="1.6" stroke-linecap="round"/>
<polygon points="438.3,1427.2 439.5,1425.2 440.3,1422.5 440.8,1420.1 440.8,1418.7 440.7,1418.8 439.1,1418.7 437.8,1418.5 436.4,1419.8 435.4,1422.1 434.7,1424.8 434.3,1426.9" fill="#1c7bd8"/>
<polygon points="443.5,1428.3 445.0,1427.4 446.1,1425.2 446.9,1422.5 447.4,1420.2 447.2,1419.0 447.3,1419.4 445.7,1419.3 444.6,1418.8 443.1,1419.9 442.0,1422.2 441.2,1424.9 440.8,1427.1 441.0,1428.1" fill="#1c7bd8"/>
<polygon points="450.3,1428.7 451.7,1427.6 452.8,1425.2 453.5,1422.5 453.9,1420.4 453.6,1419.4 453.8,1420.1 452.3,1420.0 451.4,1419.3 449.8,1420.1 448.7,1422.2 447.8,1424.9 447.4,1427.2 447.4,1428.5" fill="#1c7bd8"/>
<polygon points="457.0,1429.1 458.4,1427.7 459.4,1425.2 460.1,1422.6 460.4,1420.6 459.9,1419.9 458.3,1419.8 456.5,1420.3 455.3,1422.2 454.4,1424.9 453.9,1427.4 453.8,1428.9" fill="#1c7bd8"/>
<polygon points="463.8,1429.4 465.0,1427.8 466.0,1425.2 466.6,1422.6 466.8,1420.8 466.5,1420.4 464.9,1420.3 463.2,1420.6 462.0,1422.3 461.0,1424.9 460.4,1427.5 460.3,1429.2" fill="#1c7bd8"/>
<polygon points="470.5,1429.7 471.7,1427.9 472.6,1425.2 473.2,1422.7 473.3,1421.1 473.0,1420.9 471.4,1420.8 470.0,1420.9 468.6,1422.4 467.6,1424.9 467.0,1427.5 466.7,1429.4" fill="#1c7bd8"/>
<polygon points="475.4,1430.6 477.2,1429.9 478.4,1427.9 479.2,1425.3 479.7,1422.8 479.7,1421.4 479.6,1421.5 478.0,1421.4 476.7,1421.2 475.3,1422.5 474.3,1424.9 473.6,1427.6 473.2,1429.7 473.8,1430.5" fill="#1c7bd8"/>
<polygon points="482.4,1431.1 483.9,1430.1 485.0,1428.0 485.8,1425.3 486.3,1423.0 486.1,1421.8 486.2,1422.2 484.6,1422.1 483.5,1421.6 482.0,1422.7 480.9,1424.9 480.1,1427.6 479.7,1429.8 479.9,1430.9" fill="#1c7bd8"/>
<polygon points="489.2,1431.5 490.6,1430.3 491.7,1428.0 492.4,1425.3 492.8,1423.1 492.5,1422.2 492.8,1422.9 491.2,1422.8 490.3,1422.0 488.7,1422.8 487.6,1424.9 486.7,1427.6 486.3,1430.0 486.3,1431.3" fill="#1c7bd8"/>
<polygon points="495.9,1431.9 497.3,1430.4 498.3,1428.0 499.0,1425.3 499.3,1423.3 498.8,1422.6 497.2,1422.5 495.4,1423.1 494.2,1425.0 493.3,1427.6 492.8,1430.1 492.7,1431.6" fill="#1c7bd8"/>
<polygon points="502.7,1432.2 503.9,1430.5 504.9,1428.0 505.5,1425.4 505.7,1423.6 505.4,1423.1 503.8,1423.0 502.1,1423.3 500.9,1425.1 499.9,1427.6 499.3,1430.2 499.2,1431.9" fill="#1c7bd8"/>
<polygon points="509.4,1432.5 510.6,1430.6 511.5,1428.0 512.1,1425.5 512.2,1423.9 511.9,1423.7 510.3,1423.6 508.9,1423.6 507.5,1425.1 506.6,1427.6 505.9,1430.3 505.7,1432.2" fill="#1c7bd8"/>
<polygon points="516.1,1432.7 517.3,1430.7 518.1,1428.0 518.6,1425.6 518.6,1424.2 518.5,1424.3 516.9,1424.2 515.6,1424.0 514.2,1425.3 513.2,1427.7 512.5,1430.3 512.1,1432.4" fill="#1c7bd8"/>
<polygon points="521.3,1433.8 522.8,1432.9 523.9,1430.7 524.7,1428.0 525.2,1425.7 525.0,1424.5 525.1,1424.9 523.5,1424.8 522.4,1424.4 520.9,1425.4 519.8,1427.7 519.0,1430.4 518.6,1432.6 518.8,1433.7" fill="#1c7bd8"/>
<polygon points="528.1,1434.2 529.5,1433.1 530.6,1430.7 531.3,1428.0 531.7,1425.9 531.4,1424.9 531.7,1425.6 530.1,1425.5 529.2,1424.8 527.6,1425.6 526.5,1427.7 525.6,1430.4 525.2,1432.8 525.2,1434.0" fill="#1c7bd8"/>
<polygon points="534.8,1434.6 536.2,1433.2 537.2,1430.7 537.9,1428.1 538.2,1426.1 537.7,1425.4 536.1,1425.3 534.3,1425.8 533.1,1427.7 532.2,1430.4 531.7,1432.9 531.6,1434.4" fill="#1c7bd8"/>
<polygon points="541.6,1434.9 542.9,1433.3 543.8,1430.7 544.4,1428.1 544.6,1426.3 544.3,1425.9 542.7,1425.8 541.0,1426.1 539.8,1427.8 538.8,1430.4 538.2,1433.0 538.1,1434.7" fill="#1c7bd8"/>
<polygon points="548.3,1435.2 549.5,1433.4 550.4,1430.8 551.0,1428.2 546.4,1427.9 545.5,1430.4 544.8,1433.0 544.6,1434.9" fill="#1c7bd8"/>
<polyline points="438.7,1427.5 439.2,1428.7 439.7,1431.2 440.1,1433.9 440.5,1436.2 441.0,1437.2 441.7,1436.6" fill="none" stroke="#0c4f9e" stroke-width="1.6" stroke-linecap="round"/>
<polyline points="445.3,1428.0 445.8,1429.6 446.2,1432.1 446.6,1434.8 447.1,1436.9 447.6,1437.7" fill="none" stroke="#0c4f9e" stroke-width="1.6" stroke-linecap="round"/>
<polyline points="451.9,1428.7 452.4,1430.4 452.8,1433.0 453.2,1435.7 453.6,1437.6 454.2,1438.1" fill="none" stroke="#0c4f9e" stroke-width="1.6" stroke-linecap="round"/>
<polyline points="458.5,1429.3 458.9,1431.3 459.3,1434.0 459.7,1436.6 460.2,1438.3 460.8,1438.5" fill="none" stroke="#0c4f9e" stroke-width="1.6" stroke-linecap="round"/>
<polyline points="465.0,1430.0 465.5,1432.2 465.9,1434.9 466.3,1437.4 466.8,1438.9 467.4,1438.8" fill="none" stroke="#0c4f9e" stroke-width="1.6" stroke-linecap="round"/>
<polyline points="471.1,1429.8 471.6,1430.8 472.0,1433.1 472.4,1435.8 472.8,1438.2 473.4,1439.5 474.0,1439.2" fill="none" stroke="#0c4f9e" stroke-width="1.6" stroke-linecap="round"/>
<polyline points="477.6,1430.3 478.1,1431.6 478.6,1434.0 479.0,1436.8 479.4,1439.0 479.9,1440.0 480.6,1439.4" fill="none" stroke="#0c4f9e" stroke-width="1.6" stroke-linecap="round"/>
<polyline points="484.2,1430.9 484.7,1432.4 485.1,1434.9 485.5,1437.7 486.0,1439.7 486.5,1440.5" fill="none" stroke="#0c4f9e" stroke-width="1.6" stroke-linecap="round"/>
<polyline points="490.8,1431.5 491.3,1433.2 491.7,1435.9 492.1,1438.6 492.5,1440.4 493.1,1440.9" fill="none" stroke="#0c4f9e" stroke-width="1.6" stroke-linecap="round"/>
<polyline points="497.3,1432.2 497.8,1434.1 498.2,1436.8 498.6,1439.4 499.1,1441.1 499.7,1441.3" fill="none" stroke="#0c4f9e" stroke-width="1.6" stroke-linecap="round"/>
<polyline points="503.9,1432.9 504.4,1435.0 504.8,1437.7 505.2,1440.3 505.7,1441.7 506.3,1441.7" fill="none" stroke="#0c4f9e" stroke-width="1.6" stroke-linecap="round"/>
<polyline points="510.0,1432.6 510.5,1433.6 510.9,1435.9 511.3,1438.7 511.7,1441.1 512.3,1442.3 512.9,1442.0" fill="none" stroke="#0c4f9e" stroke-width="1.6" stroke-linecap="round"/>
<polyline points="516.5,1433.1 517.0,1434.4 517.5,1436.8 517.9,1439.6 518.3,1441.8 518.8,1442.8 519.5,1442.3" fill="none" stroke="#0c4f9e" stroke-width="1.6" stroke-linecap="round"/>
<polyline points="523.1,1433.7 523.6,1435.2 524.0,1437.7 524.4,1440.5 524.9,1442.6 525.4,1443.3" fill="none" stroke="#0c4f9e" stroke-width="1.6" stroke-linecap="round"/>
<polyline points="529.7,1434.3 530.2,1436.1 530.6,1438.7 531.0,1441.4 531.4,1443.3 532.0,1443.8" fill="none" stroke="#0c4f9e" stroke-width="1.6" stroke-linecap="round"/>
<polyline points="536.2,1435.0 536.7,1436.9 537.1,1439.6 537.5,1442.2 538.0,1443.9 538.6,1444.2" fill="none" stroke="#0c4f9e" stroke-width="1.6" stroke-linecap="round"/>
<polyline points="542.8,1435.7 543.3,1437.8 543.7,1440.6 544.1,1443.1 544.6,1444.6 545.2,1444.5" fill="none" stroke="#0c4f9e" stroke-width="1.6" stroke-linecap="round"/>
<polygon points="438.1,1434.8 439.1,1432.2 439.7,1429.6 439.9,1427.9 439.5,1427.5 437.9,1427.4 436.4,1427.6 435.1,1429.3 434.1,1431.8 433.5,1434.4" fill="#1c7bd8"/>
<polygon points="443.6,1436.7 444.8,1434.8 445.7,1432.2 446.3,1429.7 446.3,1428.2 446.1,1428.1 444.5,1428.0 443.1,1427.9 441.7,1429.4 440.7,1431.8 440.0,1434.5 439.8,1436.5" fill="#1c7bd8"/>
<polygon points="448.6,1437.7 450.3,1437.0 451.5,1434.9 452.3,1432.2 452.8,1429.8 452.8,1428.5 452.7,1428.7 451.1,1428.6 449.8,1428.3 448.4,1429.5 447.4,1431.9 446.6,1434.5 446.3,1436.7 446.6,1437.6" fill="#1c7bd8"/>
<polygon points="455.5,1438.2 457.0,1437.2 458.1,1434.9 458.9,1432.2 459.3,1430.0 459.1,1428.9 459.3,1429.4 457.7,1429.3 456.6,1428.7 455.1,1429.7 454.0,1431.9 453.2,1434.6 452.8,1436.9 452.9,1438.0" fill="#1c7bd8"/>
<polygon points="462.3,1438.6 463.7,1437.3 464.7,1435.0 465.5,1432.3 465.8,1430.2 465.4,1429.3 465.8,1430.1 464.2,1430.0 463.5,1429.2 461.8,1429.9 460.6,1431.9 459.8,1434.6 459.3,1437.0 459.3,1438.4" fill="#1c7bd8"/>
<polygon points="469.0,1439.0 470.4,1437.5 471.4,1435.0 472.0,1432.3 472.3,1430.4 471.9,1429.8 470.3,1429.7 468.5,1430.1 467.3,1432.0 466.4,1434.6 465.8,1437.1 465.7,1438.7" fill="#1c7bd8"/>
<polygon points="475.8,1439.3 477.0,1437.6 478.0,1435.0 478.6,1432.4 478.8,1430.7 478.4,1430.3 476.8,1430.2 475.3,1430.4 474.0,1432.1 473.0,1434.6 472.4,1437.2 472.2,1439.0" fill="#1c7bd8"/>
<polygon points="482.5,1439.6 483.7,1437.7 484.6,1435.0 485.1,1432.5 485.2,1431.0 485.0,1430.9 483.4,1430.8 482.0,1430.8 480.6,1432.2 479.6,1434.7 478.9,1437.3 478.7,1439.3" fill="#1c7bd8"/>
<polygon points="487.5,1440.6 489.2,1439.8 490.4,1437.7 491.2,1435.0 491.7,1432.7 491.7,1431.3 491.6,1431.6 490.0,1431.4 488.7,1431.1 487.3,1432.3 486.3,1434.7 485.5,1437.4 485.2,1439.5 485.5,1440.4" fill="#1c7bd8"/>
<polygon points="494.4,1441.0 495.9,1440.0 497.0,1437.8 497.8,1435.1 498.2,1432.8 498.0,1431.7 498.1,1432.2 496.6,1432.1 495.5,1431.5 494.0,1432.5 492.9,1434.7 492.1,1437.4 491.7,1439.7 491.8,1440.8" fill="#1c7bd8"/>
<polygon points="501.2,1441.4 502.6,1440.2 503.6,1437.8 504.4,1435.1 504.7,1433.0 504.3,1432.2 504.7,1432.9 503.1,1432.8 502.4,1432.0 500.7,1432.7 499.5,1434.8 498.7,1437.4 498.2,1439.9 498.2,1441.2" fill="#1c7bd8"/>
<polygon points="507.9,1441.8 509.3,1440.3 510.3,1437.8 510.9,1435.2 511.2,1433.2 510.8,1432.6 509.2,1432.5 507.4,1433.0 506.2,1434.8 505.3,1437.5 504.7,1440.0 504.6,1441.6" fill="#1c7bd8"/>
<polygon points="514.7,1442.1 515.9,1440.4 516.9,1437.8 517.5,1435.3 517.7,1433.5 517.3,1433.2 515.7,1433.1 514.1,1433.3 512.9,1434.9 511.9,1437.5 511.3,1440.1 511.1,1441.9" fill="#1c7bd8"/>
<polygon points="521.4,1442.4 522.6,1440.5 523.5,1437.9 524.0,1435.4 524.1,1433.8 523.9,1433.8 522.3,1433.6 520.9,1433.6 519.5,1435.0 518.5,1437.5 517.8,1440.1 517.6,1442.1" fill="#1c7bd8"/>
<polygon points="526.4,1443.4 528.1,1442.6 529.3,1440.6 530.1,1437.9 530.6,1435.5 530.6,1434.2 530.5,1434.4 528.9,1434.3 527.6,1434.0 526.2,1435.2 525.2,1437.5 524.4,1440.2 524.1,1442.3 524.4,1443.2" fill="#1c7bd8"/>
<polygon points="533.3,1443.8 534.8,1442.8 535.9,1440.6 536.7,1437.9 537.1,1435.6 536.9,1434.6 537.0,1435.1 535.4,1434.9 534.4,1434.4 532.9,1435.3 531.8,1437.5 531.0,1440.2 530.6,1442.5 530.7,1443.7" fill="#1c7bd8"/>
<polygon points="540.1,1444.3 541.5,1443.0 542.5,1440.6 543.3,1437.9 543.6,1435.8 543.2,1435.0 543.6,1435.8 542.0,1435.6 541.3,1434.8 539.6,1435.5 538.4,1437.6 537.6,1440.3 537.1,1442.7 537.1,1444.0" fill="#1c7bd8"/>
<line x1="526" y1="1434" x2="563" y2="1456" stroke="#2e2e8c" stroke-width="3"/>
<polyline points="465.3,1440.4 465.8,1441.9 466.2,1444.5 466.7,1447.4 467.1,1449.6 467.7,1450.4" fill="none" stroke="#0c4f9e" stroke-width="1.6" stroke-linecap="round"/>
<polyline points="471.9,1440.9 472.4,1442.7 472.8,1445.4 473.2,1448.2 473.7,1450.2 474.3,1450.7" fill="none" stroke="#0c4f9e" stroke-width="1.6" stroke-linecap="round"/>
<polyline points="478.4,1441.5 478.9,1443.5 479.4,1446.3 479.8,1449.0 480.3,1450.8 480.9,1451.1" fill="none" stroke="#0c4f9e" stroke-width="1.6" stroke-linecap="round"/>
<polyline points="485.0,1442.1 485.5,1444.3 485.9,1447.2 486.4,1449.8 486.9,1451.3 487.5,1451.3" fill="none" stroke="#0c4f9e" stroke-width="1.6" stroke-linecap="round"/>
<polyline points="491.1,1441.8 491.6,1442.8 492.0,1445.1 492.5,1448.0 492.9,1450.5 493.4,1451.9 494.1,1451.6" fill="none" stroke="#0c4f9e" stroke-width="1.6" stroke-linecap="round"/>
<polyline points="497.6,1442.2 498.2,1443.5 498.6,1446.0 499.0,1448.9 499.5,1451.3 500.0,1452.3 500.7,1451.8" fill="none" stroke="#0c4f9e" stroke-width="1.6" stroke-linecap="round"/>
<polyline points="504.2,1442.7 504.7,1444.3 505.2,1446.9 505.6,1449.8 506.1,1451.9 506.6,1452.7" fill="none" stroke="#0c4f9e" stroke-width="1.6" stroke-linecap="round"/>
<polyline points="510.8,1443.3 511.3,1445.1 511.7,1447.8 512.2,1450.6 512.6,1452.6 513.2,1453.1" fill="none" stroke="#0c4f9e" stroke-width="1.6" stroke-linecap="round"/>
<polyline points="517.4,1443.9 517.9,1445.9 518.3,1448.7 518.7,1451.4 519.2,1453.2 519.8,1453.4" fill="none" stroke="#0c4f9e" stroke-width="1.6" stroke-linecap="round"/>
<polyline points="523.9,1444.5 524.4,1446.7 524.8,1449.5 525.3,1452.2 525.8,1453.7 526.4,1453.7" fill="none" stroke="#0c4f9e" stroke-width="1.6" stroke-linecap="round"/>
<polyline points="530.0,1444.2 530.5,1445.2 531.0,1447.5 531.4,1450.4 531.8,1452.9 532.4,1454.3 533.0,1454.0" fill="none" stroke="#0c4f9e" stroke-width="1.6" stroke-linecap="round"/>
<polyline points="536.6,1444.6 537.1,1445.9 537.5,1448.4 538.0,1451.3 538.4,1453.6 538.9,1454.7 539.6,1454.2" fill="none" stroke="#0c4f9e" stroke-width="1.6" stroke-linecap="round"/>
<polyline points="543.1,1445.1 543.7,1446.7 544.1,1449.3 544.5,1452.1 545.0,1454.3 545.5,1455.1" fill="none" stroke="#0c4f9e" stroke-width="1.6" stroke-linecap="round"/>
<polyline points="549.7,1445.7 550.2,1447.4 550.7,1450.2 551.1,1453.0 551.6,1455.0 552.1,1455.5" fill="none" stroke="#0c4f9e" stroke-width="1.6" stroke-linecap="round"/>
<polyline points="556.3,1446.3 556.8,1448.2 557.2,1451.1 557.6,1453.8 558.1,1455.6 558.7,1455.8" fill="none" stroke="#0c4f9e" stroke-width="1.6" stroke-linecap="round"/>
<polyline points="562.9,1446.9 563.3,1449.1 563.8,1451.9 564.2,1454.6 564.7,1456.1 565.3,1456.1" fill="none" stroke="#0c4f9e" stroke-width="1.6" stroke-linecap="round"/>
<polyline points="568.9,1446.6 569.4,1447.6 569.9,1449.9 570.3,1452.8 570.8,1455.3 571.3,1456.6 571.9,1456.4" fill="none" stroke="#0c4f9e" stroke-width="1.6" stroke-linecap="round"/>
<polyline points="575.5,1447.0 576.0,1448.3" fill="none" stroke="#0c4f9e" stroke-width="1.6" stroke-linecap="round"/>
<polygon points="463.6,1449.5 464.8,1447.5 465.7,1444.8 466.3,1442.2 466.3,1440.5 466.1,1440.4 464.5,1440.3 463.0,1440.3 461.7,1441.9 460.7,1444.5 460.1,1447.2 459.8,1449.3" fill="#1c7bd8"/>
<polygon points="468.6,1450.4 470.3,1449.7 471.5,1447.5 472.3,1444.7 472.8,1442.2 472.8,1440.8 472.7,1441.0 471.1,1440.9 469.8,1440.6 468.4,1441.9 467.4,1444.4 466.7,1447.2 466.3,1449.4 466.7,1450.3" fill="#1c7bd8"/>
<polygon points="475.5,1450.8 477.0,1449.8 478.1,1447.5 478.9,1444.6 479.3,1442.3 479.2,1441.1 479.2,1441.6 477.6,1441.5 476.6,1440.9 475.1,1442.0 474.0,1444.3 473.2,1447.2 472.8,1449.5 473.0,1450.7" fill="#1c7bd8"/>
<polygon points="482.3,1451.1 483.7,1449.9 484.8,1447.4 485.5,1444.6 485.8,1442.4 485.5,1441.4 485.8,1442.2 484.2,1442.1 483.5,1441.3 481.8,1442.1 480.7,1444.3 479.8,1447.1 479.4,1449.6 479.4,1451.0" fill="#1c7bd8"/>
<polygon points="489.1,1451.4 490.4,1449.9 491.4,1447.3 492.1,1444.6 492.3,1442.5 491.9,1441.8 490.3,1441.7 488.5,1442.3 487.3,1444.3 486.4,1447.0 485.9,1449.6 485.8,1451.2" fill="#1c7bd8"/>
<polygon points="495.8,1451.7 497.1,1449.9 498.0,1447.2 498.6,1444.5 498.8,1442.7 498.4,1442.3 496.8,1442.2 495.2,1442.5 494.0,1444.2 493.0,1446.9 492.4,1449.6 492.3,1451.5" fill="#1c7bd8"/>
<polygon points="502.5,1451.9 503.8,1449.9 504.6,1447.2 505.2,1444.5 505.3,1442.9 505.0,1442.8 503.4,1442.7 502.0,1442.7 500.6,1444.3 499.7,1446.9 499.0,1449.6 498.8,1451.7" fill="#1c7bd8"/>
<polygon points="507.6,1452.8 509.3,1452.0 510.4,1449.9 511.2,1447.1 511.7,1444.6 511.7,1443.2 511.6,1443.3 510.0,1443.3 508.7,1443.0 507.3,1444.3 506.3,1446.8 505.6,1449.6 505.3,1451.8 505.7,1452.7" fill="#1c7bd8"/>
<polygon points="514.5,1453.2 516.0,1452.2 517.1,1449.8 517.8,1447.0 518.2,1444.6 518.1,1443.5 518.2,1443.9 516.6,1443.8 515.5,1443.3 514.0,1444.4 512.9,1446.7 512.2,1449.5 511.8,1451.9 511.9,1453.0" fill="#1c7bd8"/>
<polygon points="521.3,1453.5 522.7,1452.3 523.7,1449.8 524.4,1447.0 524.8,1444.8 524.4,1443.8 524.7,1444.6 523.1,1444.5 522.4,1443.7 520.7,1444.5 519.6,1446.7 518.8,1449.5 518.3,1452.0 518.3,1453.4" fill="#1c7bd8"/>
<polygon points="528.0,1453.8 529.3,1452.3 530.3,1449.7 531.0,1446.9 531.2,1444.9 530.8,1444.2 529.2,1444.1 527.4,1444.7 526.2,1446.6 525.4,1449.4 524.8,1452.0 524.8,1453.6" fill="#1c7bd8"/>
<polygon points="534.8,1454.1 536.0,1452.3 537.0,1449.6 537.6,1446.9 537.7,1445.1 537.4,1444.7 535.8,1444.6 534.2,1444.9 532.9,1446.6 532.0,1449.3 531.4,1452.0 531.2,1453.9" fill="#1c7bd8"/>
<polygon points="541.5,1454.3 542.7,1452.3 543.6,1449.6 544.1,1446.9 544.2,1445.3 543.9,1445.2 542.3,1445.1 540.9,1445.1 539.6,1446.7 538.6,1449.3 537.9,1452.0 537.7,1454.0" fill="#1c7bd8"/>
<polygon points="546.5,1455.2 548.2,1454.4 549.3,1452.3 550.2,1449.5 550.6,1447.0 550.6,1445.6 550.5,1445.7 548.9,1445.6 547.6,1445.4 546.3,1446.7 545.2,1449.2 544.5,1452.0 544.2,1454.2 544.6,1455.1" fill="#1c7bd8"/>
<polygon points="553.4,1455.6 554.9,1454.6 556.0,1452.2 556.8,1449.4 557.2,1447.0 557.0,1445.9 557.1,1446.3 555.5,1446.2 554.4,1445.7 552.9,1446.8 551.9,1449.1 551.1,1451.9 550.7,1454.3 550.9,1455.4" fill="#1c7bd8"/>
<polygon points="560.2,1455.9 561.6,1454.6 562.6,1452.2 563.3,1449.4 563.7,1447.1 563.3,1446.2 563.7,1447.0 562.1,1446.9 561.3,1446.1 559.6,1446.9 558.5,1449.1 557.7,1451.9 557.2,1454.4 557.3,1455.7" fill="#1c7bd8"/>
<polygon points="566.9,1456.2 568.3,1454.7 569.3,1452.1 569.9,1449.3 570.2,1447.3 569.7,1446.6 568.1,1446.5 566.4,1447.0 565.2,1449.0 564.3,1451.8 563.8,1454.4 563.7,1456.0" fill="#1c7bd8"/>
<polygon points="573.7,1456.5 574.9,1454.7 575.9,1452.0 576.5,1449.3 576.7,1447.5 576.3,1447.1 574.7,1447.0 573.1,1447.2 571.8,1449.0 570.9,1451.7 570.3,1454.4 570.1,1456.2" fill="#1c7bd8"/>
<path d="M448 1426 c-6 -2 -10 2 -14 -2 M448 1434 c-4 4 -8 6 -12 4 M470 1446 c-6 4 -12 2 -18 6" stroke="#1c7bd8" stroke-width="1" fill="none"/>
<rect x="462" y="1391.5" width="84" height="82.5" fill="none" stroke="#e8232a" stroke-width="2.4" stroke-dasharray="6 3.5"/>
<text x="555.0" y="1408.5" font-size="21.5" text-anchor="start" fill="#3a7bc4" >STAT2</text>
<text x="381.0" y="1536.8" font-size="22" text-anchor="start" fill="#000" >ZIKV NS5</text>
<rect x="10.5" y="1618.8" width="244.5" height="27.4" rx="7" fill="#c5c0e1" stroke="#222" stroke-width="1.6"/>
<rect x="255.3" y="1618.8" width="342" height="27.4" rx="7" fill="#5b8fcc" stroke="#222" stroke-width="1.6"/>
<text transform="translate(132,1642.4) scale(0.85,1)" font-size="27" text-anchor="middle">ND</text>
<text transform="translate(426.8,1642.4) scale(0.85,1)" font-size="27" text-anchor="middle">CCD</text>
<line x1="107.3" y1="1646.5" x2="107.3" y2="1666.8" stroke="#222" stroke-width="1.5"/>
<text x="98.40" y="1680.5" font-size="16" fill="#000">5</text>
<text x="107.30" y="1680.5" font-size="16" fill="#000">3</text>
<line x1="188.9" y1="1646.5" x2="188.9" y2="1666.8" stroke="#222" stroke-width="1.5"/>
<text x="180.00" y="1680.5" font-size="16" fill="#000">9</text>
<text x="188.90" y="1680.5" font-size="16" fill="#000">7</text>
<line x1="245.3" y1="1646.5" x2="245.3" y2="1666.8" stroke="#222" stroke-width="1.5"/>
<polygon points="236.68,1680.50 238.20,1680.50 238.20,1669.05 237.34,1669.05 236.95,1669.72 236.33,1670.42 235.55,1671.12 234.02,1672.09 234.02,1673.45 235.39,1672.77 236.68,1671.67" fill="#000"/>
<text x="240.85" y="1680.5" font-size="16" fill="#000">2</text>
<text x="249.75" y="1680.5" font-size="16" fill="#000">7</text>
<line x1="338.5" y1="1646.5" x2="338.5" y2="1666.8" stroke="#222" stroke-width="1.5"/>
<polygon points="329.88,1680.50 331.40,1680.50 331.40,1669.05 330.54,1669.05 330.15,1669.72 329.53,1670.42 328.75,1671.12 327.22,1672.09 327.22,1673.45 328.59,1672.77 329.88,1671.67" fill="#000"/>
<text x="334.05" y="1680.5" font-size="16" fill="#000">8</text>
<text x="342.95" y="1680.5" font-size="16" fill="#000">2</text>
<text x="366.95" y="1680.5" font-size="16" fill="#000">2</text>
<text x="375.85" y="1680.5" font-size="16" fill="#000">5</text>
<polygon points="389.48,1680.50 391.00,1680.50 391.00,1669.05 390.14,1669.05 389.75,1669.72 389.12,1670.42 388.34,1671.12 386.82,1672.09 386.82,1673.45 388.19,1672.77 389.48,1671.67" fill="#000"/>
<text x="402.15" y="1680.5" font-size="16" fill="#000">2</text>
<text x="411.05" y="1680.5" font-size="16" fill="#000">5</text>
<text x="419.95" y="1680.5" font-size="16" fill="#000">3</text>
<text x="436.45" y="1680.5" font-size="16" fill="#000">2</text>
<text x="445.35" y="1680.5" font-size="16" fill="#000">5</text>
<text x="454.25" y="1680.5" font-size="16" fill="#000">6</text>
<text x="471.15" y="1680.5" font-size="16" fill="#000">2</text>
<text x="480.05" y="1680.5" font-size="16" fill="#000">5</text>
<text x="488.95" y="1680.5" font-size="16" fill="#000">8</text>
<text x="505.45" y="1680.5" font-size="16" fill="#000">2</text>
<text x="514.35" y="1680.5" font-size="16" fill="#000">7</text>
<polygon points="527.98,1680.50 529.50,1680.50 529.50,1669.05 528.64,1669.05 528.25,1669.72 527.62,1670.42 526.84,1671.12 525.32,1672.09 525.32,1673.45 526.69,1672.77 527.98,1671.67" fill="#000"/>
<text x="540.65" y="1680.5" font-size="16" fill="#000">2</text>
<text x="549.55" y="1680.5" font-size="16" fill="#000">8</text>
<text x="558.45" y="1680.5" font-size="16" fill="#000">6</text>
<line x1="541.0" y1="1685.0" x2="567.0" y2="1685.0" stroke="#222" stroke-width="1.3"/>
<text x="575.95" y="1680.5" font-size="16" fill="#000">2</text>
<text x="584.85" y="1680.5" font-size="16" fill="#000">9</text>
<polygon points="598.48,1680.50 600.00,1680.50 600.00,1669.05 599.14,1669.05 598.75,1669.72 598.12,1670.42 597.34,1671.12 595.82,1672.09 595.82,1673.45 597.19,1672.77 598.48,1671.67" fill="#000"/>
<line x1="576.3" y1="1685.0" x2="602.3" y2="1685.0" stroke="#222" stroke-width="1.3"/>
<text x="610.15" y="1680.5" font-size="16" fill="#000">2</text>
<text x="619.05" y="1680.5" font-size="16" fill="#000">9</text>
<text x="627.95" y="1680.5" font-size="16" fill="#000">7</text>
<line x1="610.5" y1="1685.0" x2="636.5" y2="1685.0" stroke="#222" stroke-width="1.3"/>
<text x="645.45" y="1680.5" font-size="16" fill="#000">3</text>
<text x="654.35" y="1680.5" font-size="16" fill="#000">0</text>
<polygon points="667.98,1680.50 669.50,1680.50 669.50,1669.05 668.64,1669.05 668.25,1669.72 667.62,1670.42 666.84,1671.12 665.32,1672.09 665.32,1673.45 666.69,1672.77 667.98,1671.67" fill="#000"/>
<polyline points="379.0,1667.0 469.5,1646.5" fill="none" stroke="#222" stroke-width="1.4"/>
<polyline points="413.4,1667.0 476.2,1650.5 476.2,1646.5" fill="none" stroke="#222" stroke-width="1.4"/>
<polyline points="449.0,1667.0 485.5,1652.0 485.5,1646.5" fill="none" stroke="#222" stroke-width="1.4"/>
<polyline points="484.0,1667.0 491.4,1652.0 491.4,1646.5" fill="none" stroke="#222" stroke-width="1.4"/>
<polyline points="518.3,1646.5 518.3,1667.0" fill="none" stroke="#222" stroke-width="1.4"/>
<polyline points="477.5,1598.4 540.6,1616.3 540.6,1654.4 555.4,1665.6" fill="none" stroke="#222" stroke-width="1.4"/>
<polyline points="542.7,1598.4 549.8,1609.7 549.8,1653.0 589.1,1665.6" fill="none" stroke="#222" stroke-width="1.4"/>
<polyline points="607.0,1598.4 561.1,1614.0 561.1,1650.0 622.9,1665.6" fill="none" stroke="#222" stroke-width="1.4"/>
<polyline points="568.2,1646.5 656.6,1665.6" fill="none" stroke="#222" stroke-width="1.4"/>
<polyline points="444.7,1598.4 538.0,1617.6" fill="none" stroke="#222" stroke-width="1.4"/>
<polyline points="509.6,1598.4 547.2,1612.3 547.2,1618.0" fill="none" stroke="#222" stroke-width="1.4"/>
<polyline points="574.8,1598.4 559.0,1609.7 559.0,1618.0" fill="none" stroke="#222" stroke-width="1.4"/>
<polyline points="640.0,1598.4 570.8,1616.3 570.8,1618.5" fill="none" stroke="#222" stroke-width="1.4"/>
<polyline points="672.5,1598.4 593.2,1617.6" fill="none" stroke="#222" stroke-width="1.4"/>
<text x="442.0" y="1574.8" font-size="21.7" text-anchor="start" fill="#000" >ResistanceDeterminants</text>
<text x="431.10" y="1590.8" font-size="16.3" fill="#000">2</text>
<text x="440.17" y="1590.8" font-size="16.3" fill="#000">8</text>
<text x="449.23" y="1590.8" font-size="16.3" fill="#000">3</text>
<text x="463.90" y="1590.8" font-size="16.3" fill="#000">2</text>
<text x="472.97" y="1590.8" font-size="16.3" fill="#000">8</text>
<text x="482.03" y="1590.8" font-size="16.3" fill="#000">6</text>
<line x1="464.5" y1="1594.0" x2="490.5" y2="1594.0" stroke="#222" stroke-width="1.3"/>
<text x="495.40" y="1590.8" font-size="16.3" fill="#000">2</text>
<text x="504.47" y="1590.8" font-size="16.3" fill="#000">8</text>
<text x="513.53" y="1590.8" font-size="16.3" fill="#000">9</text>
<text x="527.70" y="1590.8" font-size="16.3" fill="#000">2</text>
<text x="536.77" y="1590.8" font-size="16.3" fill="#000">9</text>
<polygon points="550.65,1590.80 552.20,1590.80 552.20,1579.13 551.32,1579.13 550.93,1579.82 550.29,1580.53 549.49,1581.25 547.94,1582.24 547.94,1583.62 549.33,1582.92 550.65,1581.81" fill="#000"/>
<line x1="528.3" y1="1594.0" x2="554.3" y2="1594.0" stroke="#222" stroke-width="1.3"/>
<text x="559.20" y="1590.8" font-size="16.3" fill="#000">2</text>
<text x="568.27" y="1590.8" font-size="16.3" fill="#000">9</text>
<text x="577.33" y="1590.8" font-size="16.3" fill="#000">6</text>
<text x="592.40" y="1590.8" font-size="16.3" fill="#000">2</text>
<text x="601.47" y="1590.8" font-size="16.3" fill="#000">9</text>
<text x="610.53" y="1590.8" font-size="16.3" fill="#000">7</text>
<line x1="593.0" y1="1594.0" x2="619.0" y2="1594.0" stroke="#222" stroke-width="1.3"/>
<text x="624.60" y="1590.8" font-size="16.3" fill="#000">3</text>
<text x="633.67" y="1590.8" font-size="16.3" fill="#000">0</text>
<text x="642.73" y="1590.8" font-size="16.3" fill="#000">3</text>
<text x="656.90" y="1590.8" font-size="16.3" fill="#000">3</text>
<polygon points="670.78,1590.80 672.33,1590.80 672.33,1579.13 671.46,1579.13 671.06,1579.82 670.42,1580.53 669.63,1581.25 668.08,1582.24 668.08,1583.62 669.47,1582.92 670.78,1581.81" fill="#000"/>
<text x="675.03" y="1590.8" font-size="16.3" fill="#000">2</text>
<text x="269.0" y="1706.6" font-size="22" text-anchor="start" fill="#000" >Residues evolving under positive selection</text>
<rect x="341.52" y="727.06" width="3.78" height="2.94" fill="#fff"/>
<rect x="347.74" y="727.06" width="3.80" height="2.94" fill="#fff"/>
<rect x="343.14" y="760.96" width="3.78" height="2.94" fill="#fff"/>
<rect x="349.37" y="760.96" width="3.80" height="2.94" fill="#fff"/>
<rect x="353.75" y="760.96" width="3.78" height="2.94" fill="#fff"/>
<rect x="359.98" y="760.96" width="3.80" height="2.94" fill="#fff"/>
<rect x="73.25" y="1186.66" width="3.78" height="2.94" fill="#fff"/>
<rect x="79.48" y="1186.66" width="3.80" height="2.94" fill="#fff"/>
<rect x="83.86" y="1186.66" width="3.78" height="2.94" fill="#fff"/>
<rect x="90.09" y="1186.66" width="3.80" height="2.94" fill="#fff"/>
<rect x="430.18" y="1066.46" width="3.78" height="2.94" fill="#fff"/>
<rect x="436.40" y="1066.46" width="3.80" height="2.94" fill="#fff"/>
<rect x="416.73" y="1186.66" width="3.78" height="2.94" fill="#fff"/>
<rect x="422.95" y="1186.66" width="3.80" height="2.94" fill="#fff"/>
</svg>
</body></html>
